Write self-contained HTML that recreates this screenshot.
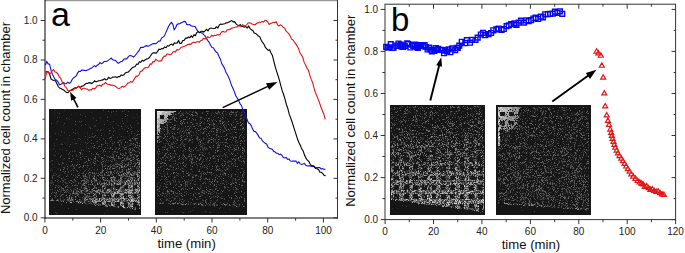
<!DOCTYPE html>
<html><head><meta charset="utf-8"><style>
html,body{margin:0;padding:0;background:#fff;}
svg{display:block;font-family:"Liberation Sans", sans-serif;}
</style></head><body>
<svg width="685" height="253" viewBox="0 0 685 253">
<defs><filter id="soft" x="-0.01" y="-0.02" width="1.02" height="1.04"><feGaussianBlur stdDeviation="0.6"/></filter></defs>
<rect width="685" height="253" fill="#fff"/>
<g shape-rendering="crispEdges" filter="url(#soft)"><rect x="49" y="109" width="92" height="106" fill="#181818"/><path fill="#2d2d2d" d="M51 110h1v1h-1zM55 110h1v1h-1zM64 110h1v1h-1zM111 111h1v1h-1zM57 112h1v1h-1zM91 112h1v1h-1zM54 113h1v1h-1zM76 113h1v1h-1zM84 113h1v1h-1zM71 114h1v1h-1zM105 114h1v1h-1zM116 114h1v1h-1zM136 114h1v1h-1zM82 115h1v1h-1zM107 116h1v1h-1zM110 116h1v1h-1zM139 116h1v1h-1zM59 117h1v1h-1zM100 117h1v1h-1zM132 117h1v1h-1zM134 117h1v1h-1zM137 117h1v1h-1zM68 118h1v1h-1zM80 118h1v1h-1zM100 118h1v1h-1zM127 118h1v1h-1zM69 119h1v1h-1zM122 120h1v1h-1zM136 120h1v1h-1zM77 121h1v1h-1zM122 121h1v1h-1zM127 121h1v1h-1zM80 122h1v1h-1zM110 122h1v1h-1zM56 123h1v1h-1zM116 123h1v1h-1zM120 123h1v1h-1zM137 123h1v1h-1zM110 124h1v1h-1zM63 125h1v1h-1zM88 125h1v1h-1zM125 125h1v1h-1zM112 126h1v1h-1zM127 126h1v1h-1zM90 127h1v1h-1zM112 127h1v1h-1zM126 127h1v1h-1zM92 128h1v1h-1zM108 128h1v1h-1zM72 129h1v1h-1zM98 129h1v1h-1zM101 129h1v1h-1zM103 129h1v1h-1zM119 129h1v1h-1zM124 129h1v1h-1zM75 130h1v1h-1zM114 130h1v1h-1zM137 130h1v1h-1zM109 131h1v1h-1zM132 131h1v1h-1zM136 131h1v1h-1zM77 132h1v1h-1zM84 132h1v1h-1zM87 132h1v1h-1zM58 133h1v1h-1zM78 133h1v1h-1zM101 133h1v1h-1zM128 133h1v1h-1zM87 134h1v1h-1zM104 134h1v1h-1zM112 134h1v1h-1zM119 134h1v1h-1zM138 134h1v1h-1zM60 135h1v1h-1zM89 135h1v1h-1zM129 135h1v1h-1zM134 135h1v1h-1zM50 136h1v1h-1zM91 136h1v1h-1zM111 136h1v1h-1zM123 136h1v1h-1zM135 136h1v1h-1zM139 136h1v1h-1zM88 137h1v1h-1zM90 137h1v1h-1zM109 137h1v1h-1zM125 137h1v1h-1zM129 137h1v1h-1zM137 137h1v1h-1zM67 138h1v1h-1zM79 138h1v1h-1zM84 138h1v1h-1zM107 138h1v1h-1zM103 139h1v1h-1zM121 139h1v1h-1zM123 139h2v1h-2zM133 139h2v1h-2zM77 140h1v1h-1zM100 140h1v1h-1zM118 140h1v1h-1zM122 140h1v1h-1zM137 140h1v1h-1zM67 141h1v1h-1zM89 141h1v1h-1zM96 141h1v1h-1zM105 141h1v1h-1zM112 141h1v1h-1zM114 141h1v1h-1zM119 141h1v1h-1zM130 141h1v1h-1zM132 141h1v1h-1zM136 141h1v1h-1zM64 142h1v1h-1zM72 142h1v1h-1zM81 142h1v1h-1zM88 142h1v1h-1zM120 142h1v1h-1zM54 143h1v1h-1zM61 143h1v1h-1zM65 143h1v1h-1zM97 143h1v1h-1zM113 143h1v1h-1zM121 143h1v1h-1zM60 144h2v1h-2zM67 144h1v1h-1zM80 144h1v1h-1zM86 144h1v1h-1zM102 144h2v1h-2zM113 144h1v1h-1zM121 144h1v1h-1zM124 144h1v1h-1zM130 144h1v1h-1zM133 144h1v1h-1zM101 145h1v1h-1zM126 145h1v1h-1zM133 145h1v1h-1zM136 145h1v1h-1zM86 146h1v1h-1zM90 146h1v1h-1zM119 146h2v1h-2zM122 146h1v1h-1zM127 146h2v1h-2zM86 147h1v1h-1zM93 147h1v1h-1zM96 147h1v1h-1zM115 147h2v1h-2zM124 147h1v1h-1zM137 147h2v1h-2zM53 148h1v1h-1zM89 148h1v1h-1zM91 148h1v1h-1zM93 148h1v1h-1zM100 148h1v1h-1zM118 148h1v1h-1zM50 149h1v1h-1zM53 149h1v1h-1zM59 149h1v1h-1zM62 149h1v1h-1zM81 149h1v1h-1zM122 149h1v1h-1zM133 150h1v1h-1zM55 151h1v1h-1zM70 151h1v1h-1zM74 151h2v1h-2zM86 151h1v1h-1zM99 151h2v1h-2zM117 151h1v1h-1zM132 151h1v1h-1zM134 151h1v1h-1zM136 151h2v1h-2zM95 152h1v1h-1zM97 152h1v1h-1zM102 152h1v1h-1zM113 152h2v1h-2zM116 152h1v1h-1zM128 152h2v1h-2zM136 152h1v1h-1zM58 153h1v1h-1zM69 153h1v1h-1zM82 153h1v1h-1zM103 153h1v1h-1zM112 153h1v1h-1zM122 153h2v1h-2zM134 153h1v1h-1zM53 154h1v1h-1zM70 154h1v1h-1zM76 154h1v1h-1zM100 154h1v1h-1zM123 154h1v1h-1zM55 155h1v1h-1zM79 155h1v1h-1zM91 155h1v1h-1zM98 155h1v1h-1zM106 155h1v1h-1zM123 155h1v1h-1zM128 155h1v1h-1zM69 156h1v1h-1zM72 156h1v1h-1zM78 156h1v1h-1zM85 156h1v1h-1zM108 156h1v1h-1zM111 156h1v1h-1zM119 156h1v1h-1zM131 156h1v1h-1zM98 157h1v1h-1zM107 157h1v1h-1zM119 157h1v1h-1zM123 157h1v1h-1zM126 157h1v1h-1zM128 157h1v1h-1zM131 157h2v1h-2zM134 157h1v1h-1zM85 158h1v1h-1zM90 158h1v1h-1zM104 158h1v1h-1zM110 158h1v1h-1zM114 158h2v1h-2zM128 158h1v1h-1zM133 158h1v1h-1zM137 158h1v1h-1zM56 159h1v1h-1zM63 159h1v1h-1zM72 159h1v1h-1zM80 159h2v1h-2zM93 159h1v1h-1zM106 159h1v1h-1zM112 159h2v1h-2zM115 159h1v1h-1zM132 159h1v1h-1zM51 160h1v1h-1zM104 160h1v1h-1zM127 160h1v1h-1zM135 160h1v1h-1zM50 161h1v1h-1zM57 161h1v1h-1zM69 161h1v1h-1zM79 161h1v1h-1zM98 161h1v1h-1zM100 161h1v1h-1zM108 161h1v1h-1zM119 161h1v1h-1zM123 161h1v1h-1zM126 161h1v1h-1zM77 162h1v1h-1zM107 162h1v1h-1zM115 162h1v1h-1zM131 162h1v1h-1zM134 162h2v1h-2zM83 163h1v1h-1zM90 163h1v1h-1zM103 163h1v1h-1zM105 163h1v1h-1zM114 163h2v1h-2zM127 163h1v1h-1zM137 163h1v1h-1zM61 164h1v1h-1zM68 164h1v1h-1zM74 164h1v1h-1zM96 164h1v1h-1zM98 164h1v1h-1zM105 164h1v1h-1zM111 164h1v1h-1zM126 164h2v1h-2zM129 164h1v1h-1zM61 165h1v1h-1zM72 165h1v1h-1zM74 165h1v1h-1zM86 165h1v1h-1zM99 165h1v1h-1zM106 165h1v1h-1zM109 165h2v1h-2zM139 165h1v1h-1zM65 166h1v1h-1zM76 166h1v1h-1zM90 166h1v1h-1zM97 166h1v1h-1zM113 166h1v1h-1zM115 166h1v1h-1zM118 166h1v1h-1zM123 166h1v1h-1zM129 166h1v1h-1zM133 166h1v1h-1zM138 166h1v1h-1zM54 167h1v1h-1zM68 167h1v1h-1zM78 167h1v1h-1zM112 167h1v1h-1zM115 167h1v1h-1zM123 167h2v1h-2zM130 167h1v1h-1zM137 167h1v1h-1zM51 168h1v1h-1zM58 168h1v1h-1zM83 168h1v1h-1zM102 168h1v1h-1zM117 168h1v1h-1zM123 168h1v1h-1zM131 168h1v1h-1zM133 168h1v1h-1zM57 169h1v1h-1zM72 169h1v1h-1zM75 169h1v1h-1zM86 169h1v1h-1zM93 169h1v1h-1zM101 169h1v1h-1zM104 169h1v1h-1zM121 169h1v1h-1zM124 169h1v1h-1zM52 170h1v1h-1zM80 170h1v1h-1zM97 170h1v1h-1zM115 170h1v1h-1zM123 170h1v1h-1zM127 170h1v1h-1zM130 170h1v1h-1zM132 170h1v1h-1zM62 171h1v1h-1zM70 171h1v1h-1zM87 171h1v1h-1zM89 171h1v1h-1zM99 171h1v1h-1zM109 171h1v1h-1zM114 171h1v1h-1zM120 171h1v1h-1zM133 171h1v1h-1zM135 171h1v1h-1zM73 172h1v1h-1zM79 172h1v1h-1zM96 172h1v1h-1zM117 172h1v1h-1zM119 172h1v1h-1zM53 173h3v1h-3zM64 173h2v1h-2zM71 173h1v1h-1zM81 173h1v1h-1zM100 173h1v1h-1zM132 173h1v1h-1zM53 174h1v1h-1zM59 174h1v1h-1zM61 174h1v1h-1zM67 174h1v1h-1zM75 174h1v1h-1zM77 174h1v1h-1zM79 174h1v1h-1zM88 174h1v1h-1zM94 174h1v1h-1zM105 174h1v1h-1zM109 174h1v1h-1zM119 174h1v1h-1zM122 174h1v1h-1zM127 174h2v1h-2zM132 174h1v1h-1zM52 175h1v1h-1zM54 175h2v1h-2zM58 175h1v1h-1zM75 175h1v1h-1zM82 175h1v1h-1zM91 175h1v1h-1zM93 175h1v1h-1zM105 175h2v1h-2zM111 175h2v1h-2zM116 175h1v1h-1zM122 175h2v1h-2zM125 175h1v1h-1zM134 175h1v1h-1zM58 176h1v1h-1zM68 176h1v1h-1zM77 176h1v1h-1zM98 176h1v1h-1zM116 176h1v1h-1zM121 176h1v1h-1zM130 176h1v1h-1zM72 177h1v1h-1zM83 177h1v1h-1zM94 177h1v1h-1zM100 177h1v1h-1zM122 177h1v1h-1zM126 177h1v1h-1zM128 177h2v1h-2zM137 177h1v1h-1zM54 178h1v1h-1zM67 178h1v1h-1zM74 178h1v1h-1zM96 178h1v1h-1zM113 178h1v1h-1zM124 178h1v1h-1zM127 178h1v1h-1zM129 178h1v1h-1zM137 178h1v1h-1zM61 179h2v1h-2zM77 179h1v1h-1zM104 179h2v1h-2zM119 179h1v1h-1zM122 179h1v1h-1zM124 179h1v1h-1zM133 179h1v1h-1zM139 179h1v1h-1zM50 180h1v1h-1zM85 180h1v1h-1zM90 180h1v1h-1zM100 180h1v1h-1zM108 180h1v1h-1zM119 180h1v1h-1zM122 180h1v1h-1zM124 180h2v1h-2zM130 180h1v1h-1zM133 180h1v1h-1zM135 180h1v1h-1zM52 181h1v1h-1zM65 181h1v1h-1zM76 181h1v1h-1zM87 181h2v1h-2zM95 181h1v1h-1zM104 181h1v1h-1zM107 181h2v1h-2zM114 181h1v1h-1zM116 181h1v1h-1zM118 181h1v1h-1zM122 181h2v1h-2zM125 181h1v1h-1zM50 182h1v1h-1zM52 182h1v1h-1zM58 182h1v1h-1zM64 182h1v1h-1zM75 182h1v1h-1zM87 182h1v1h-1zM98 182h1v1h-1zM101 182h1v1h-1zM103 182h1v1h-1zM115 182h1v1h-1zM121 182h1v1h-1zM123 182h1v1h-1zM126 182h1v1h-1zM133 182h1v1h-1zM138 182h1v1h-1zM50 183h1v1h-1zM65 183h1v1h-1zM85 183h1v1h-1zM94 183h1v1h-1zM110 183h1v1h-1zM112 183h2v1h-2zM118 183h1v1h-1zM121 183h4v1h-4zM126 183h1v1h-1zM131 183h1v1h-1zM133 183h1v1h-1zM136 183h1v1h-1zM138 183h1v1h-1zM81 184h1v1h-1zM84 184h1v1h-1zM89 184h1v1h-1zM91 184h1v1h-1zM95 184h1v1h-1zM98 184h1v1h-1zM102 184h1v1h-1zM108 184h1v1h-1zM113 184h1v1h-1zM133 184h1v1h-1zM136 184h2v1h-2zM69 185h1v1h-1zM76 185h1v1h-1zM94 185h1v1h-1zM106 185h1v1h-1zM120 185h2v1h-2zM125 185h1v1h-1zM52 186h1v1h-1zM57 186h1v1h-1zM60 186h1v1h-1zM71 186h1v1h-1zM74 186h1v1h-1zM107 186h1v1h-1zM112 186h1v1h-1zM117 186h1v1h-1zM120 186h2v1h-2zM124 186h1v1h-1zM130 186h1v1h-1zM54 187h1v1h-1zM68 187h3v1h-3zM77 187h1v1h-1zM86 187h1v1h-1zM98 187h1v1h-1zM110 187h1v1h-1zM112 187h1v1h-1zM134 187h1v1h-1zM137 187h1v1h-1zM61 188h1v1h-1zM69 188h1v1h-1zM73 188h1v1h-1zM81 188h1v1h-1zM87 188h1v1h-1zM94 188h2v1h-2zM107 188h1v1h-1zM109 188h1v1h-1zM111 188h1v1h-1zM114 188h1v1h-1zM122 188h2v1h-2zM130 188h2v1h-2zM51 189h1v1h-1zM65 189h1v1h-1zM71 189h1v1h-1zM73 189h2v1h-2zM77 189h1v1h-1zM104 189h2v1h-2zM122 189h1v1h-1zM124 189h1v1h-1zM130 189h1v1h-1zM133 189h1v1h-1zM138 189h1v1h-1zM77 190h1v1h-1zM85 190h1v1h-1zM95 190h1v1h-1zM111 190h1v1h-1zM115 190h1v1h-1zM123 190h1v1h-1zM127 190h1v1h-1zM133 190h2v1h-2zM52 191h1v1h-1zM61 191h1v1h-1zM69 191h1v1h-1zM84 191h1v1h-1zM91 191h1v1h-1zM94 191h1v1h-1zM122 191h1v1h-1zM124 191h1v1h-1zM126 191h1v1h-1zM132 191h3v1h-3zM60 192h1v1h-1zM62 192h1v1h-1zM65 192h1v1h-1zM72 192h1v1h-1zM77 192h1v1h-1zM80 192h1v1h-1zM85 192h1v1h-1zM88 192h1v1h-1zM92 192h1v1h-1zM94 192h1v1h-1zM109 192h1v1h-1zM113 192h1v1h-1zM116 192h1v1h-1zM120 192h2v1h-2zM123 192h1v1h-1zM133 192h1v1h-1zM56 193h1v1h-1zM69 193h1v1h-1zM78 193h1v1h-1zM80 193h1v1h-1zM82 193h2v1h-2zM86 193h1v1h-1zM90 193h1v1h-1zM97 193h2v1h-2zM103 193h1v1h-1zM106 193h1v1h-1zM108 193h1v1h-1zM127 193h1v1h-1zM131 193h1v1h-1zM133 193h1v1h-1zM139 193h1v1h-1zM53 194h1v1h-1zM61 194h1v1h-1zM74 194h1v1h-1zM76 194h1v1h-1zM96 194h1v1h-1zM105 194h1v1h-1zM115 194h1v1h-1zM117 194h1v1h-1zM128 194h3v1h-3zM133 194h1v1h-1zM50 195h1v1h-1zM55 195h1v1h-1zM60 195h1v1h-1zM62 195h1v1h-1zM65 195h1v1h-1zM70 195h1v1h-1zM78 195h1v1h-1zM84 195h2v1h-2zM95 195h1v1h-1zM106 195h1v1h-1zM123 195h1v1h-1zM131 195h1v1h-1zM138 195h2v1h-2zM71 196h1v1h-1zM76 196h1v1h-1zM90 196h1v1h-1zM92 196h1v1h-1zM103 196h3v1h-3zM121 196h2v1h-2zM129 196h2v1h-2zM62 197h2v1h-2zM73 197h1v1h-1zM79 197h2v1h-2zM87 197h1v1h-1zM91 197h1v1h-1zM96 197h1v1h-1zM104 197h2v1h-2zM111 197h1v1h-1zM113 197h1v1h-1zM116 197h1v1h-1zM133 197h1v1h-1zM136 197h1v1h-1zM67 198h2v1h-2zM73 198h1v1h-1zM82 198h2v1h-2zM87 198h1v1h-1zM94 198h1v1h-1zM105 198h1v1h-1zM107 198h2v1h-2zM113 198h1v1h-1zM116 198h1v1h-1zM119 198h1v1h-1zM128 198h2v1h-2zM136 198h1v1h-1zM138 198h1v1h-1zM58 199h1v1h-1zM63 199h1v1h-1zM66 199h1v1h-1zM73 199h1v1h-1zM80 199h1v1h-1zM82 199h1v1h-1zM88 199h1v1h-1zM111 199h1v1h-1zM117 199h1v1h-1zM126 199h1v1h-1zM137 199h1v1h-1zM54 200h1v1h-1zM61 200h2v1h-2zM64 200h1v1h-1zM66 200h1v1h-1zM69 200h1v1h-1zM73 200h1v1h-1zM79 200h1v1h-1zM89 200h1v1h-1zM100 200h1v1h-1zM102 200h2v1h-2zM115 200h2v1h-2zM120 200h1v1h-1zM125 200h1v1h-1zM130 200h1v1h-1zM58 201h1v1h-1zM60 201h1v1h-1zM68 201h1v1h-1zM70 201h1v1h-1zM78 201h1v1h-1zM82 201h2v1h-2zM89 201h2v1h-2zM101 201h1v1h-1zM106 201h1v1h-1zM111 201h1v1h-1zM113 201h1v1h-1zM120 201h1v1h-1zM123 201h1v1h-1zM126 201h4v1h-4zM74 202h1v1h-1zM83 202h1v1h-1zM85 202h1v1h-1zM110 202h1v1h-1zM123 202h1v1h-1zM126 202h1v1h-1zM129 202h1v1h-1zM131 202h1v1h-1zM136 202h1v1h-1zM79 203h1v1h-1zM86 203h1v1h-1zM88 203h1v1h-1zM90 203h1v1h-1zM93 203h1v1h-1zM112 203h2v1h-2zM125 203h1v1h-1zM130 203h2v1h-2zM137 203h1v1h-1zM139 203h1v1h-1zM85 204h1v1h-1zM87 204h1v1h-1zM91 204h1v1h-1zM95 204h1v1h-1zM98 204h1v1h-1zM105 204h1v1h-1zM123 204h1v1h-1zM107 205h1v1h-1zM110 205h1v1h-1zM109 206h2v1h-2zM121 206h1v1h-1zM139 206h1v1h-1zM54 207h1v1h-1zM116 207h1v1h-1zM125 207h1v1h-1zM132 207h1v1h-1zM124 208h3v1h-3zM134 208h1v1h-1zM107 210h1v1h-1zM131 211h1v1h-1zM57 212h1v1h-1zM104 213h1v1h-1z"/><path fill="#464646" d="M103 110h1v1h-1zM124 110h1v1h-1zM108 111h1v1h-1zM113 111h1v1h-1zM116 111h1v1h-1zM122 111h1v1h-1zM128 111h1v1h-1zM111 112h1v1h-1zM59 113h1v1h-1zM80 114h1v1h-1zM125 114h1v1h-1zM127 115h1v1h-1zM85 116h1v1h-1zM125 116h1v1h-1zM57 117h1v1h-1zM107 117h1v1h-1zM66 118h1v1h-1zM93 118h1v1h-1zM122 118h1v1h-1zM96 120h1v1h-1zM107 120h1v1h-1zM57 121h1v1h-1zM75 121h1v1h-1zM79 121h1v1h-1zM81 121h1v1h-1zM113 121h1v1h-1zM51 123h1v1h-1zM64 123h1v1h-1zM123 123h1v1h-1zM138 123h1v1h-1zM75 124h1v1h-1zM85 124h1v1h-1zM104 124h1v1h-1zM81 125h1v1h-1zM95 125h1v1h-1zM118 125h1v1h-1zM130 125h1v1h-1zM94 126h1v1h-1zM89 127h1v1h-1zM131 127h1v1h-1zM90 128h1v1h-1zM113 128h1v1h-1zM122 128h1v1h-1zM128 128h1v1h-1zM130 129h1v1h-1zM97 130h1v1h-1zM100 130h1v1h-1zM109 130h2v1h-2zM61 131h1v1h-1zM113 131h1v1h-1zM131 131h1v1h-1zM138 131h1v1h-1zM64 132h1v1h-1zM73 132h1v1h-1zM55 133h1v1h-1zM75 133h1v1h-1zM92 133h1v1h-1zM109 133h1v1h-1zM131 133h1v1h-1zM134 133h1v1h-1zM139 134h1v1h-1zM69 135h1v1h-1zM95 135h1v1h-1zM101 135h1v1h-1zM113 135h1v1h-1zM136 135h1v1h-1zM85 136h1v1h-1zM92 136h1v1h-1zM94 136h1v1h-1zM121 136h1v1h-1zM89 137h1v1h-1zM93 137h1v1h-1zM97 137h1v1h-1zM111 137h1v1h-1zM117 137h1v1h-1zM133 137h1v1h-1zM78 138h1v1h-1zM103 138h1v1h-1zM109 138h1v1h-1zM134 138h1v1h-1zM137 138h1v1h-1zM56 139h1v1h-1zM74 139h1v1h-1zM80 139h1v1h-1zM87 139h1v1h-1zM99 139h1v1h-1zM111 139h1v1h-1zM130 139h1v1h-1zM91 140h1v1h-1zM105 140h1v1h-1zM119 140h2v1h-2zM135 140h1v1h-1zM97 141h1v1h-1zM110 141h1v1h-1zM125 141h1v1h-1zM85 142h1v1h-1zM105 142h1v1h-1zM114 142h1v1h-1zM117 142h1v1h-1zM121 142h1v1h-1zM127 142h1v1h-1zM136 142h2v1h-2zM75 143h2v1h-2zM87 143h1v1h-1zM91 143h1v1h-1zM93 143h1v1h-1zM105 143h1v1h-1zM107 143h1v1h-1zM112 143h1v1h-1zM130 143h2v1h-2zM137 143h1v1h-1zM139 143h1v1h-1zM62 144h1v1h-1zM70 144h1v1h-1zM132 144h1v1h-1zM54 145h1v1h-1zM107 145h1v1h-1zM112 145h1v1h-1zM119 145h1v1h-1zM124 145h1v1h-1zM129 145h2v1h-2zM135 145h1v1h-1zM69 146h1v1h-1zM92 146h1v1h-1zM98 146h2v1h-2zM101 146h1v1h-1zM135 146h1v1h-1zM105 147h1v1h-1zM123 147h1v1h-1zM126 147h1v1h-1zM88 148h1v1h-1zM97 148h1v1h-1zM107 148h1v1h-1zM116 148h1v1h-1zM124 148h1v1h-1zM129 148h2v1h-2zM132 148h1v1h-1zM138 148h1v1h-1zM102 149h1v1h-1zM115 149h1v1h-1zM118 149h1v1h-1zM124 149h3v1h-3zM128 149h1v1h-1zM139 149h1v1h-1zM66 150h1v1h-1zM74 150h1v1h-1zM81 150h1v1h-1zM83 150h1v1h-1zM103 150h1v1h-1zM120 150h1v1h-1zM129 150h1v1h-1zM72 151h1v1h-1zM103 151h1v1h-1zM109 151h1v1h-1zM115 151h1v1h-1zM129 151h1v1h-1zM135 151h1v1h-1zM138 151h1v1h-1zM69 152h1v1h-1zM125 152h1v1h-1zM91 153h1v1h-1zM125 153h2v1h-2zM130 153h1v1h-1zM139 153h1v1h-1zM68 154h1v1h-1zM80 154h1v1h-1zM82 154h1v1h-1zM93 154h1v1h-1zM96 154h3v1h-3zM112 154h2v1h-2zM120 154h2v1h-2zM130 154h1v1h-1zM54 155h1v1h-1zM61 155h1v1h-1zM72 155h1v1h-1zM76 155h1v1h-1zM113 155h1v1h-1zM125 155h1v1h-1zM135 155h2v1h-2zM138 155h1v1h-1zM60 156h1v1h-1zM76 156h1v1h-1zM82 156h1v1h-1zM86 156h1v1h-1zM99 156h1v1h-1zM107 156h1v1h-1zM110 156h1v1h-1zM113 156h1v1h-1zM116 156h1v1h-1zM127 156h1v1h-1zM133 156h1v1h-1zM136 156h1v1h-1zM60 157h1v1h-1zM95 157h1v1h-1zM118 157h1v1h-1zM127 157h1v1h-1zM136 157h1v1h-1zM64 158h1v1h-1zM68 158h1v1h-1zM73 158h1v1h-1zM84 158h1v1h-1zM88 158h1v1h-1zM101 158h1v1h-1zM103 158h1v1h-1zM113 158h1v1h-1zM119 158h1v1h-1zM127 158h1v1h-1zM129 158h1v1h-1zM134 158h1v1h-1zM77 159h1v1h-1zM91 159h1v1h-1zM95 159h1v1h-1zM114 159h1v1h-1zM124 159h1v1h-1zM126 159h3v1h-3zM52 160h1v1h-1zM93 160h1v1h-1zM106 160h1v1h-1zM108 160h1v1h-1zM110 160h1v1h-1zM114 160h1v1h-1zM116 160h1v1h-1zM102 161h1v1h-1zM105 161h1v1h-1zM112 161h1v1h-1zM130 161h1v1h-1zM133 161h1v1h-1zM139 161h1v1h-1zM62 162h1v1h-1zM84 162h2v1h-2zM90 162h1v1h-1zM116 162h1v1h-1zM130 162h1v1h-1zM138 162h1v1h-1zM58 163h1v1h-1zM62 163h2v1h-2zM87 163h1v1h-1zM95 163h1v1h-1zM101 163h1v1h-1zM120 163h1v1h-1zM124 163h1v1h-1zM128 163h1v1h-1zM133 163h1v1h-1zM135 163h1v1h-1zM52 164h1v1h-1zM59 164h1v1h-1zM66 164h1v1h-1zM91 164h1v1h-1zM101 164h1v1h-1zM110 164h1v1h-1zM113 164h1v1h-1zM115 164h1v1h-1zM117 164h1v1h-1zM71 165h1v1h-1zM85 165h1v1h-1zM87 165h2v1h-2zM102 165h1v1h-1zM105 165h1v1h-1zM112 165h3v1h-3zM119 165h1v1h-1zM128 165h1v1h-1zM134 165h2v1h-2zM70 166h1v1h-1zM107 166h1v1h-1zM110 166h2v1h-2zM114 166h1v1h-1zM116 166h1v1h-1zM130 166h1v1h-1zM63 167h2v1h-2zM74 167h1v1h-1zM82 167h1v1h-1zM87 167h1v1h-1zM92 167h1v1h-1zM102 167h1v1h-1zM116 167h1v1h-1zM125 167h1v1h-1zM136 167h1v1h-1zM64 168h1v1h-1zM67 168h1v1h-1zM73 168h2v1h-2zM89 168h1v1h-1zM136 168h3v1h-3zM67 169h1v1h-1zM89 169h1v1h-1zM94 169h1v1h-1zM102 169h1v1h-1zM107 169h1v1h-1zM109 169h2v1h-2zM116 169h1v1h-1zM119 169h1v1h-1zM131 169h1v1h-1zM138 169h2v1h-2zM50 170h1v1h-1zM71 170h1v1h-1zM73 170h1v1h-1zM76 170h1v1h-1zM85 170h1v1h-1zM88 170h1v1h-1zM91 170h1v1h-1zM106 170h1v1h-1zM117 170h1v1h-1zM122 170h1v1h-1zM131 170h1v1h-1zM138 170h1v1h-1zM63 171h1v1h-1zM68 171h1v1h-1zM84 171h1v1h-1zM107 171h1v1h-1zM111 171h1v1h-1zM119 171h1v1h-1zM121 171h1v1h-1zM128 171h1v1h-1zM137 171h1v1h-1zM139 171h1v1h-1zM64 172h1v1h-1zM68 172h1v1h-1zM83 172h1v1h-1zM94 172h1v1h-1zM122 172h1v1h-1zM124 172h1v1h-1zM126 172h1v1h-1zM135 172h2v1h-2zM78 173h1v1h-1zM82 173h2v1h-2zM86 173h1v1h-1zM93 173h1v1h-1zM96 173h1v1h-1zM101 173h1v1h-1zM104 173h1v1h-1zM107 173h1v1h-1zM110 173h2v1h-2zM114 173h1v1h-1zM116 173h1v1h-1zM134 173h3v1h-3zM139 173h1v1h-1zM56 174h1v1h-1zM71 174h1v1h-1zM90 174h1v1h-1zM95 174h1v1h-1zM102 174h1v1h-1zM108 174h1v1h-1zM110 174h1v1h-1zM118 174h1v1h-1zM124 174h1v1h-1zM129 174h1v1h-1zM133 174h1v1h-1zM138 174h1v1h-1zM53 175h1v1h-1zM59 175h1v1h-1zM67 175h1v1h-1zM73 175h1v1h-1zM79 175h1v1h-1zM83 175h3v1h-3zM94 175h1v1h-1zM98 175h1v1h-1zM101 175h1v1h-1zM104 175h1v1h-1zM118 175h1v1h-1zM120 175h1v1h-1zM126 175h2v1h-2zM129 175h1v1h-1zM138 175h1v1h-1zM52 176h1v1h-1zM57 176h1v1h-1zM76 176h1v1h-1zM84 176h1v1h-1zM86 176h1v1h-1zM89 176h1v1h-1zM92 176h1v1h-1zM102 176h1v1h-1zM120 176h1v1h-1zM123 176h1v1h-1zM125 176h2v1h-2zM128 176h1v1h-1zM139 176h1v1h-1zM59 177h1v1h-1zM63 177h1v1h-1zM75 177h1v1h-1zM80 177h1v1h-1zM86 177h2v1h-2zM93 177h1v1h-1zM96 177h1v1h-1zM104 177h1v1h-1zM132 177h2v1h-2zM52 178h1v1h-1zM81 178h1v1h-1zM89 178h1v1h-1zM92 178h1v1h-1zM100 178h1v1h-1zM105 178h1v1h-1zM110 178h3v1h-3zM114 178h2v1h-2zM130 178h2v1h-2zM57 179h1v1h-1zM64 179h2v1h-2zM84 179h1v1h-1zM87 179h1v1h-1zM95 179h2v1h-2zM98 179h1v1h-1zM120 179h1v1h-1zM127 179h2v1h-2zM51 180h1v1h-1zM58 180h1v1h-1zM62 180h2v1h-2zM74 180h2v1h-2zM81 180h1v1h-1zM87 180h1v1h-1zM94 180h1v1h-1zM103 180h2v1h-2zM106 180h1v1h-1zM109 180h2v1h-2zM112 180h1v1h-1zM115 180h1v1h-1zM121 180h1v1h-1zM126 180h1v1h-1zM136 180h2v1h-2zM57 181h1v1h-1zM60 181h1v1h-1zM63 181h1v1h-1zM68 181h1v1h-1zM72 181h1v1h-1zM75 181h1v1h-1zM84 181h2v1h-2zM91 181h2v1h-2zM94 181h1v1h-1zM96 181h1v1h-1zM99 181h2v1h-2zM113 181h1v1h-1zM115 181h1v1h-1zM127 181h2v1h-2zM134 181h2v1h-2zM139 181h1v1h-1zM51 182h1v1h-1zM53 182h1v1h-1zM62 182h1v1h-1zM65 182h1v1h-1zM78 182h1v1h-1zM83 182h1v1h-1zM86 182h1v1h-1zM88 182h1v1h-1zM94 182h1v1h-1zM97 182h1v1h-1zM99 182h1v1h-1zM108 182h1v1h-1zM119 182h1v1h-1zM131 182h1v1h-1zM135 182h1v1h-1zM51 183h1v1h-1zM66 183h2v1h-2zM80 183h1v1h-1zM92 183h1v1h-1zM115 183h1v1h-1zM127 183h1v1h-1zM129 183h1v1h-1zM53 184h1v1h-1zM63 184h1v1h-1zM75 184h1v1h-1zM82 184h1v1h-1zM106 184h1v1h-1zM112 184h1v1h-1zM126 184h2v1h-2zM130 184h2v1h-2zM50 185h1v1h-1zM55 185h2v1h-2zM58 185h1v1h-1zM74 185h2v1h-2zM82 185h2v1h-2zM85 185h1v1h-1zM93 185h1v1h-1zM100 185h1v1h-1zM102 185h1v1h-1zM104 185h2v1h-2zM108 185h1v1h-1zM112 185h1v1h-1zM122 185h1v1h-1zM124 185h1v1h-1zM134 185h1v1h-1zM138 185h2v1h-2zM59 186h1v1h-1zM65 186h1v1h-1zM81 186h1v1h-1zM85 186h2v1h-2zM88 186h1v1h-1zM104 186h2v1h-2zM114 186h1v1h-1zM123 186h1v1h-1zM129 186h1v1h-1zM67 187h1v1h-1zM75 187h1v1h-1zM85 187h1v1h-1zM89 187h1v1h-1zM95 187h1v1h-1zM101 187h2v1h-2zM111 187h1v1h-1zM113 187h2v1h-2zM138 187h1v1h-1zM83 188h2v1h-2zM102 188h1v1h-1zM105 188h1v1h-1zM115 188h1v1h-1zM119 188h1v1h-1zM121 188h1v1h-1zM128 188h2v1h-2zM139 188h1v1h-1zM50 189h1v1h-1zM52 189h1v1h-1zM61 189h1v1h-1zM63 189h1v1h-1zM70 189h1v1h-1zM80 189h1v1h-1zM86 189h2v1h-2zM91 189h1v1h-1zM99 189h1v1h-1zM110 189h2v1h-2zM114 189h2v1h-2zM117 189h2v1h-2zM121 189h1v1h-1zM123 189h1v1h-1zM134 189h1v1h-1zM55 190h1v1h-1zM61 190h1v1h-1zM68 190h1v1h-1zM71 190h1v1h-1zM73 190h1v1h-1zM76 190h1v1h-1zM80 190h1v1h-1zM88 190h1v1h-1zM92 190h1v1h-1zM99 190h1v1h-1zM105 190h1v1h-1zM113 190h1v1h-1zM116 190h1v1h-1zM121 190h2v1h-2zM124 190h1v1h-1zM128 190h1v1h-1zM60 191h1v1h-1zM65 191h1v1h-1zM67 191h1v1h-1zM71 191h1v1h-1zM77 191h1v1h-1zM80 191h1v1h-1zM85 191h1v1h-1zM87 191h1v1h-1zM89 191h1v1h-1zM99 191h1v1h-1zM101 191h1v1h-1zM103 191h1v1h-1zM107 191h2v1h-2zM110 191h1v1h-1zM112 191h5v1h-5zM125 191h1v1h-1zM135 191h1v1h-1zM52 192h1v1h-1zM66 192h1v1h-1zM68 192h1v1h-1zM75 192h2v1h-2zM82 192h1v1h-1zM90 192h1v1h-1zM101 192h1v1h-1zM105 192h1v1h-1zM110 192h1v1h-1zM112 192h1v1h-1zM119 192h1v1h-1zM122 192h1v1h-1zM132 192h1v1h-1zM136 192h1v1h-1zM55 193h1v1h-1zM70 193h1v1h-1zM74 193h2v1h-2zM81 193h1v1h-1zM91 193h1v1h-1zM101 193h1v1h-1zM105 193h1v1h-1zM111 193h1v1h-1zM118 193h1v1h-1zM124 193h2v1h-2zM135 193h1v1h-1zM137 193h2v1h-2zM56 194h1v1h-1zM59 194h1v1h-1zM63 194h1v1h-1zM70 194h1v1h-1zM75 194h1v1h-1zM77 194h1v1h-1zM84 194h1v1h-1zM95 194h1v1h-1zM99 194h1v1h-1zM102 194h2v1h-2zM137 194h2v1h-2zM54 195h1v1h-1zM61 195h1v1h-1zM72 195h1v1h-1zM86 195h1v1h-1zM89 195h1v1h-1zM94 195h1v1h-1zM96 195h1v1h-1zM103 195h1v1h-1zM114 195h1v1h-1zM122 195h1v1h-1zM55 196h1v1h-1zM69 196h1v1h-1zM78 196h1v1h-1zM83 196h1v1h-1zM85 196h1v1h-1zM87 196h2v1h-2zM91 196h1v1h-1zM93 196h1v1h-1zM111 196h1v1h-1zM114 196h1v1h-1zM116 196h1v1h-1zM55 197h1v1h-1zM66 197h1v1h-1zM72 197h1v1h-1zM75 197h1v1h-1zM82 197h1v1h-1zM84 197h1v1h-1zM88 197h1v1h-1zM107 197h1v1h-1zM109 197h1v1h-1zM114 197h1v1h-1zM118 197h2v1h-2zM137 197h1v1h-1zM60 198h1v1h-1zM91 198h1v1h-1zM96 198h1v1h-1zM102 198h1v1h-1zM110 198h1v1h-1zM127 198h1v1h-1zM131 198h1v1h-1zM139 198h1v1h-1zM51 199h1v1h-1zM60 199h1v1h-1zM64 199h1v1h-1zM69 199h2v1h-2zM85 199h1v1h-1zM89 199h1v1h-1zM109 199h1v1h-1zM114 199h1v1h-1zM120 199h1v1h-1zM125 199h1v1h-1zM129 199h1v1h-1zM136 199h1v1h-1zM139 199h1v1h-1zM58 200h1v1h-1zM60 200h1v1h-1zM63 200h1v1h-1zM67 200h1v1h-1zM77 200h1v1h-1zM81 200h1v1h-1zM86 200h1v1h-1zM90 200h1v1h-1zM93 200h1v1h-1zM96 200h2v1h-2zM108 200h1v1h-1zM110 200h1v1h-1zM119 200h1v1h-1zM122 200h1v1h-1zM126 200h1v1h-1zM128 200h1v1h-1zM139 200h1v1h-1zM69 201h1v1h-1zM80 201h2v1h-2zM87 201h1v1h-1zM91 201h1v1h-1zM102 201h1v1h-1zM119 201h1v1h-1zM122 201h1v1h-1zM125 201h1v1h-1zM81 202h1v1h-1zM113 202h1v1h-1zM132 202h1v1h-1zM78 203h1v1h-1zM85 203h1v1h-1zM91 203h1v1h-1zM94 203h1v1h-1zM96 203h1v1h-1zM98 203h1v1h-1zM108 203h1v1h-1zM133 203h1v1h-1zM61 204h1v1h-1zM92 204h1v1h-1zM96 204h1v1h-1zM99 204h1v1h-1zM106 204h1v1h-1zM113 204h1v1h-1zM116 204h1v1h-1zM129 204h1v1h-1zM133 204h1v1h-1zM138 204h1v1h-1zM100 205h1v1h-1zM114 205h1v1h-1zM122 205h1v1h-1zM129 205h1v1h-1zM105 206h1v1h-1zM115 206h1v1h-1zM117 206h1v1h-1zM129 206h1v1h-1zM131 207h1v1h-1zM133 207h1v1h-1zM139 207h1v1h-1zM68 208h1v1h-1zM76 209h1v1h-1zM55 212h1v1h-1zM56 213h1v1h-1z"/><path fill="#646464" d="M121 126h1v1h-1zM127 131h1v1h-1zM137 134h1v1h-1zM110 137h1v1h-1zM132 138h1v1h-1zM135 138h2v1h-2zM135 139h1v1h-1zM129 140h2v1h-2zM118 142h1v1h-1zM125 142h1v1h-1zM133 143h1v1h-1zM101 144h1v1h-1zM119 144h1v1h-1zM135 144h1v1h-1zM94 145h1v1h-1zM137 145h1v1h-1zM139 145h1v1h-1zM139 146h1v1h-1zM94 147h1v1h-1zM110 147h1v1h-1zM125 147h1v1h-1zM134 147h1v1h-1zM136 147h1v1h-1zM110 148h1v1h-1zM119 148h1v1h-1zM104 149h1v1h-1zM112 149h1v1h-1zM130 149h1v1h-1zM133 149h1v1h-1zM132 150h1v1h-1zM134 150h1v1h-1zM89 151h1v1h-1zM105 151h1v1h-1zM114 151h1v1h-1zM79 152h2v1h-2zM117 152h1v1h-1zM130 152h2v1h-2zM139 152h1v1h-1zM80 153h1v1h-1zM96 153h1v1h-1zM120 153h1v1h-1zM132 154h1v1h-1zM134 154h1v1h-1zM104 155h1v1h-1zM116 155h1v1h-1zM122 155h1v1h-1zM124 155h1v1h-1zM130 155h2v1h-2zM137 155h1v1h-1zM95 156h1v1h-1zM118 156h1v1h-1zM137 156h1v1h-1zM80 157h1v1h-1zM101 157h2v1h-2zM109 157h1v1h-1zM111 157h3v1h-3zM122 157h1v1h-1zM133 157h1v1h-1zM69 158h1v1h-1zM94 158h2v1h-2zM118 158h1v1h-1zM120 158h1v1h-1zM124 158h1v1h-1zM126 158h1v1h-1zM130 158h1v1h-1zM138 158h1v1h-1zM88 159h1v1h-1zM102 159h1v1h-1zM129 159h1v1h-1zM133 159h1v1h-1zM136 159h2v1h-2zM88 160h2v1h-2zM97 160h1v1h-1zM122 160h2v1h-2zM125 160h1v1h-1zM130 160h1v1h-1zM137 160h3v1h-3zM71 161h1v1h-1zM86 161h1v1h-1zM95 161h1v1h-1zM103 161h1v1h-1zM111 161h1v1h-1zM121 161h1v1h-1zM93 162h1v1h-1zM101 162h1v1h-1zM122 162h1v1h-1zM128 162h1v1h-1zM94 163h1v1h-1zM117 163h1v1h-1zM121 163h1v1h-1zM131 163h1v1h-1zM136 163h1v1h-1zM72 164h1v1h-1zM77 164h1v1h-1zM79 164h1v1h-1zM102 164h1v1h-1zM116 164h1v1h-1zM118 164h2v1h-2zM122 164h1v1h-1zM125 164h1v1h-1zM128 164h1v1h-1zM130 164h1v1h-1zM135 164h1v1h-1zM76 165h1v1h-1zM83 165h1v1h-1zM94 165h1v1h-1zM120 165h2v1h-2zM124 165h1v1h-1zM67 166h1v1h-1zM73 166h1v1h-1zM80 166h1v1h-1zM83 166h1v1h-1zM102 166h1v1h-1zM104 166h1v1h-1zM122 166h1v1h-1zM126 166h1v1h-1zM132 166h1v1h-1zM137 166h1v1h-1zM79 167h1v1h-1zM110 167h1v1h-1zM119 167h1v1h-1zM122 167h1v1h-1zM139 167h1v1h-1zM107 168h1v1h-1zM109 168h1v1h-1zM112 168h1v1h-1zM114 168h1v1h-1zM119 168h1v1h-1zM128 168h1v1h-1zM60 169h1v1h-1zM63 169h1v1h-1zM97 169h1v1h-1zM122 169h1v1h-1zM126 169h1v1h-1zM129 169h1v1h-1zM60 170h1v1h-1zM102 170h2v1h-2zM114 170h1v1h-1zM126 170h1v1h-1zM137 170h1v1h-1zM65 171h1v1h-1zM77 171h1v1h-1zM102 171h1v1h-1zM110 171h1v1h-1zM117 171h1v1h-1zM122 171h1v1h-1zM126 171h1v1h-1zM134 171h1v1h-1zM89 172h2v1h-2zM92 172h1v1h-1zM100 172h3v1h-3zM108 172h1v1h-1zM111 172h1v1h-1zM113 172h1v1h-1zM116 172h1v1h-1zM120 172h1v1h-1zM129 172h1v1h-1zM132 172h1v1h-1zM134 172h1v1h-1zM137 172h2v1h-2zM88 173h1v1h-1zM92 173h1v1h-1zM94 173h1v1h-1zM98 173h1v1h-1zM127 173h2v1h-2zM133 173h1v1h-1zM137 173h1v1h-1zM85 174h1v1h-1zM99 174h1v1h-1zM104 174h1v1h-1zM112 174h1v1h-1zM134 174h1v1h-1zM78 175h1v1h-1zM89 175h1v1h-1zM97 175h1v1h-1zM100 175h1v1h-1zM102 175h1v1h-1zM107 175h3v1h-3zM124 175h1v1h-1zM132 175h2v1h-2zM139 175h1v1h-1zM66 176h1v1h-1zM83 176h1v1h-1zM85 176h1v1h-1zM122 176h1v1h-1zM127 176h1v1h-1zM129 176h1v1h-1zM138 176h1v1h-1zM52 177h1v1h-1zM77 177h1v1h-1zM89 177h1v1h-1zM102 177h1v1h-1zM110 177h1v1h-1zM112 177h1v1h-1zM114 177h2v1h-2zM120 177h2v1h-2zM130 177h1v1h-1zM134 177h1v1h-1zM61 178h1v1h-1zM84 178h2v1h-2zM102 178h1v1h-1zM107 178h1v1h-1zM121 178h1v1h-1zM125 178h1v1h-1zM128 178h1v1h-1zM135 178h1v1h-1zM139 178h1v1h-1zM74 179h1v1h-1zM86 179h1v1h-1zM94 179h1v1h-1zM113 179h1v1h-1zM118 179h1v1h-1zM121 179h1v1h-1zM132 179h1v1h-1zM134 179h1v1h-1zM137 179h1v1h-1zM55 180h1v1h-1zM70 180h2v1h-2zM82 180h3v1h-3zM88 180h1v1h-1zM95 180h1v1h-1zM105 180h1v1h-1zM116 180h1v1h-1zM118 180h1v1h-1zM129 180h1v1h-1zM132 180h1v1h-1zM81 181h1v1h-1zM86 181h1v1h-1zM109 181h1v1h-1zM111 181h1v1h-1zM120 181h2v1h-2zM124 181h1v1h-1zM136 181h1v1h-1zM69 182h1v1h-1zM73 182h1v1h-1zM85 182h1v1h-1zM104 182h1v1h-1zM106 182h1v1h-1zM113 182h1v1h-1zM118 182h1v1h-1zM120 182h1v1h-1zM122 182h1v1h-1zM124 182h1v1h-1zM127 182h1v1h-1zM129 182h1v1h-1zM132 182h1v1h-1zM136 182h2v1h-2zM71 183h1v1h-1zM78 183h1v1h-1zM83 183h1v1h-1zM86 183h1v1h-1zM99 183h1v1h-1zM101 183h3v1h-3zM105 183h2v1h-2zM109 183h1v1h-1zM116 183h1v1h-1zM130 183h1v1h-1zM134 183h1v1h-1zM83 184h1v1h-1zM88 184h1v1h-1zM90 184h1v1h-1zM100 184h2v1h-2zM114 184h1v1h-1zM116 184h1v1h-1zM119 184h1v1h-1zM132 184h1v1h-1zM135 184h1v1h-1zM138 184h2v1h-2zM67 185h1v1h-1zM72 185h1v1h-1zM77 185h1v1h-1zM95 185h1v1h-1zM113 185h1v1h-1zM128 185h1v1h-1zM130 185h1v1h-1zM66 186h1v1h-1zM94 186h1v1h-1zM122 186h1v1h-1zM55 187h1v1h-1zM58 187h1v1h-1zM61 187h1v1h-1zM65 187h1v1h-1zM81 187h1v1h-1zM84 187h1v1h-1zM94 187h1v1h-1zM96 187h1v1h-1zM105 187h1v1h-1zM122 187h2v1h-2zM129 187h1v1h-1zM131 187h2v1h-2zM62 188h2v1h-2zM96 188h1v1h-1zM132 188h1v1h-1zM135 188h1v1h-1zM137 188h2v1h-2zM59 189h1v1h-1zM67 189h1v1h-1zM75 189h1v1h-1zM79 189h1v1h-1zM84 189h1v1h-1zM89 189h1v1h-1zM100 189h1v1h-1zM102 189h1v1h-1zM113 189h1v1h-1zM120 189h1v1h-1zM126 189h1v1h-1zM131 189h1v1h-1zM57 190h1v1h-1zM63 190h2v1h-2zM66 190h1v1h-1zM81 190h3v1h-3zM86 190h1v1h-1zM96 190h1v1h-1zM100 190h1v1h-1zM103 190h1v1h-1zM109 190h1v1h-1zM120 190h1v1h-1zM136 190h1v1h-1zM58 191h1v1h-1zM76 191h1v1h-1zM86 191h1v1h-1zM90 191h1v1h-1zM92 191h1v1h-1zM106 191h1v1h-1zM111 191h1v1h-1zM120 191h1v1h-1zM123 191h1v1h-1zM130 191h1v1h-1zM137 191h1v1h-1zM139 191h1v1h-1zM54 192h1v1h-1zM56 192h1v1h-1zM64 192h1v1h-1zM73 192h1v1h-1zM79 192h1v1h-1zM81 192h1v1h-1zM91 192h1v1h-1zM97 192h3v1h-3zM102 192h1v1h-1zM104 192h1v1h-1zM107 192h1v1h-1zM111 192h1v1h-1zM127 192h1v1h-1zM51 193h1v1h-1zM72 193h1v1h-1zM76 193h2v1h-2zM84 193h1v1h-1zM87 193h2v1h-2zM95 193h1v1h-1zM104 193h1v1h-1zM107 193h1v1h-1zM113 193h1v1h-1zM123 193h1v1h-1zM134 193h1v1h-1zM136 193h1v1h-1zM62 194h1v1h-1zM78 194h1v1h-1zM85 194h1v1h-1zM104 194h1v1h-1zM120 194h1v1h-1zM131 194h1v1h-1zM66 195h1v1h-1zM69 195h1v1h-1zM77 195h1v1h-1zM87 195h1v1h-1zM108 195h1v1h-1zM119 195h2v1h-2zM132 195h1v1h-1zM50 196h1v1h-1zM57 196h1v1h-1zM60 196h1v1h-1zM86 196h1v1h-1zM89 196h1v1h-1zM102 196h1v1h-1zM126 196h1v1h-1zM132 196h2v1h-2zM138 196h1v1h-1zM67 197h1v1h-1zM71 197h1v1h-1zM85 197h2v1h-2zM95 197h1v1h-1zM103 197h1v1h-1zM112 197h1v1h-1zM122 197h1v1h-1zM132 197h1v1h-1zM139 197h1v1h-1zM52 198h1v1h-1zM84 198h1v1h-1zM90 198h1v1h-1zM92 198h1v1h-1zM95 198h1v1h-1zM97 198h1v1h-1zM100 198h2v1h-2zM106 198h1v1h-1zM112 198h1v1h-1zM115 198h1v1h-1zM118 198h1v1h-1zM125 198h1v1h-1zM133 198h1v1h-1zM135 198h1v1h-1zM52 199h1v1h-1zM57 199h1v1h-1zM67 199h2v1h-2zM71 199h1v1h-1zM79 199h1v1h-1zM90 199h1v1h-1zM92 199h2v1h-2zM97 199h1v1h-1zM101 199h1v1h-1zM103 199h4v1h-4zM108 199h1v1h-1zM115 199h1v1h-1zM121 199h1v1h-1zM123 199h1v1h-1zM130 199h1v1h-1zM134 199h1v1h-1zM138 199h1v1h-1zM50 200h1v1h-1zM53 200h1v1h-1zM56 200h1v1h-1zM68 200h1v1h-1zM71 200h2v1h-2zM84 200h1v1h-1zM109 200h1v1h-1zM111 200h1v1h-1zM117 200h1v1h-1zM121 200h1v1h-1zM124 200h1v1h-1zM135 200h1v1h-1zM61 201h1v1h-1zM73 201h1v1h-1zM84 201h1v1h-1zM93 201h2v1h-2zM103 201h1v1h-1zM114 201h1v1h-1zM116 201h1v1h-1zM124 201h1v1h-1zM136 201h1v1h-1zM139 201h1v1h-1zM90 202h1v1h-1zM94 202h1v1h-1zM103 202h1v1h-1zM112 202h1v1h-1zM127 202h1v1h-1zM130 202h1v1h-1zM137 202h1v1h-1zM89 203h1v1h-1zM95 203h1v1h-1zM104 203h1v1h-1zM114 203h1v1h-1zM94 204h1v1h-1zM97 204h1v1h-1zM100 204h1v1h-1zM102 204h1v1h-1zM108 204h1v1h-1zM122 204h1v1h-1zM120 205h1v1h-1zM128 205h1v1h-1zM131 205h2v1h-2zM106 206h1v1h-1zM113 206h2v1h-2zM135 207h1v1h-1zM130 208h1v1h-1zM135 208h1v1h-1zM134 209h1v1h-1z"/><path fill="#878787" d="M131 160h1v1h-1zM137 162h1v1h-1zM139 162h1v1h-1zM139 163h1v1h-1zM138 164h2v1h-2zM127 165h1v1h-1zM108 166h1v1h-1zM117 166h1v1h-1zM121 166h1v1h-1zM124 166h1v1h-1zM134 166h1v1h-1zM139 166h1v1h-1zM121 167h1v1h-1zM105 168h1v1h-1zM113 168h1v1h-1zM130 168h1v1h-1zM128 169h1v1h-1zM139 170h1v1h-1zM129 171h1v1h-1zM106 172h1v1h-1zM110 172h1v1h-1zM127 172h2v1h-2zM118 173h1v1h-1zM123 173h1v1h-1zM125 173h1v1h-1zM130 173h1v1h-1zM121 174h1v1h-1zM123 174h1v1h-1zM126 174h1v1h-1zM130 174h2v1h-2zM136 174h2v1h-2zM119 175h1v1h-1zM121 175h1v1h-1zM131 175h1v1h-1zM137 175h1v1h-1zM94 176h1v1h-1zM113 176h1v1h-1zM103 177h1v1h-1zM111 177h1v1h-1zM113 177h1v1h-1zM131 177h1v1h-1zM139 177h1v1h-1zM93 178h2v1h-2zM120 178h1v1h-1zM132 178h1v1h-1zM138 178h1v1h-1zM103 179h1v1h-1zM111 179h1v1h-1zM114 179h1v1h-1zM130 179h1v1h-1zM138 179h1v1h-1zM91 180h1v1h-1zM96 180h1v1h-1zM107 180h1v1h-1zM111 180h1v1h-1zM114 180h1v1h-1zM120 180h1v1h-1zM127 180h1v1h-1zM131 180h1v1h-1zM138 180h1v1h-1zM112 181h1v1h-1zM117 181h1v1h-1zM119 181h1v1h-1zM129 181h1v1h-1zM131 181h1v1h-1zM91 182h1v1h-1zM109 182h1v1h-1zM114 182h1v1h-1zM125 182h1v1h-1zM130 182h1v1h-1zM134 182h1v1h-1zM84 183h1v1h-1zM97 183h1v1h-1zM104 183h1v1h-1zM111 183h1v1h-1zM117 183h1v1h-1zM119 183h2v1h-2zM128 183h1v1h-1zM132 183h1v1h-1zM135 183h1v1h-1zM139 183h1v1h-1zM92 184h1v1h-1zM97 184h1v1h-1zM104 184h1v1h-1zM107 184h1v1h-1zM109 184h1v1h-1zM111 184h1v1h-1zM117 184h1v1h-1zM120 184h1v1h-1zM124 184h2v1h-2zM128 184h1v1h-1zM134 184h1v1h-1zM84 185h1v1h-1zM103 185h1v1h-1zM111 185h1v1h-1zM123 185h1v1h-1zM131 185h2v1h-2zM137 185h1v1h-1zM102 186h2v1h-2zM128 186h1v1h-1zM137 186h1v1h-1zM120 187h2v1h-2zM128 187h1v1h-1zM77 188h1v1h-1zM85 188h2v1h-2zM93 188h1v1h-1zM120 188h1v1h-1zM92 189h1v1h-1zM98 189h1v1h-1zM107 189h3v1h-3zM119 189h1v1h-1zM127 189h3v1h-3zM132 189h1v1h-1zM135 189h1v1h-1zM137 189h1v1h-1zM87 190h1v1h-1zM93 190h2v1h-2zM97 190h2v1h-2zM102 190h1v1h-1zM108 190h1v1h-1zM110 190h1v1h-1zM119 190h1v1h-1zM125 190h1v1h-1zM135 190h1v1h-1zM138 190h1v1h-1zM73 191h1v1h-1zM78 191h1v1h-1zM81 191h1v1h-1zM95 191h3v1h-3zM100 191h1v1h-1zM102 191h1v1h-1zM118 191h2v1h-2zM121 191h1v1h-1zM127 191h1v1h-1zM129 191h1v1h-1zM131 191h1v1h-1zM138 191h1v1h-1zM96 192h1v1h-1zM103 192h1v1h-1zM106 192h1v1h-1zM108 192h1v1h-1zM124 192h1v1h-1zM126 192h1v1h-1zM129 192h1v1h-1zM134 192h1v1h-1zM137 192h2v1h-2zM73 193h1v1h-1zM89 193h1v1h-1zM93 193h1v1h-1zM110 193h1v1h-1zM112 193h1v1h-1zM115 193h2v1h-2zM121 193h2v1h-2zM126 193h1v1h-1zM128 193h2v1h-2zM123 194h1v1h-1zM139 194h1v1h-1zM93 195h1v1h-1zM102 195h1v1h-1zM104 195h1v1h-1zM111 195h2v1h-2zM121 195h1v1h-1zM75 196h1v1h-1zM96 196h1v1h-1zM112 196h1v1h-1zM128 196h1v1h-1zM139 196h1v1h-1zM69 197h1v1h-1zM94 197h1v1h-1zM102 197h1v1h-1zM130 197h1v1h-1zM69 198h1v1h-1zM71 198h1v1h-1zM85 198h1v1h-1zM89 198h1v1h-1zM93 198h1v1h-1zM103 198h1v1h-1zM117 198h1v1h-1zM121 198h2v1h-2zM124 198h1v1h-1zM130 198h1v1h-1zM132 198h1v1h-1zM134 198h1v1h-1zM72 199h1v1h-1zM75 199h1v1h-1zM84 199h1v1h-1zM86 199h2v1h-2zM91 199h1v1h-1zM95 199h1v1h-1zM102 199h1v1h-1zM110 199h1v1h-1zM112 199h1v1h-1zM118 199h2v1h-2zM133 199h1v1h-1zM51 200h2v1h-2zM57 200h1v1h-1zM70 200h1v1h-1zM85 200h1v1h-1zM95 200h1v1h-1zM98 200h2v1h-2zM106 200h1v1h-1zM112 200h3v1h-3zM123 200h1v1h-1zM133 200h1v1h-1zM63 201h1v1h-1zM76 201h2v1h-2zM79 201h1v1h-1zM88 201h1v1h-1zM97 201h4v1h-4zM104 201h1v1h-1zM107 201h1v1h-1zM110 201h1v1h-1zM112 201h1v1h-1zM121 201h1v1h-1zM138 201h1v1h-1zM66 202h1v1h-1zM84 202h1v1h-1zM96 202h1v1h-1zM104 202h2v1h-2zM111 202h1v1h-1zM114 202h1v1h-1zM122 202h1v1h-1zM128 202h1v1h-1zM105 203h1v1h-1zM120 203h1v1h-1zM122 203h1v1h-1zM128 203h1v1h-1zM138 203h1v1h-1zM103 204h2v1h-2zM114 204h1v1h-1zM128 204h1v1h-1zM130 204h3v1h-3zM137 204h1v1h-1zM139 204h1v1h-1zM95 205h1v1h-1zM98 205h1v1h-1zM105 205h2v1h-2zM109 205h1v1h-1zM111 205h1v1h-1zM113 205h1v1h-1zM121 205h1v1h-1zM130 205h1v1h-1zM107 206h1v1h-1zM118 206h1v1h-1zM128 206h1v1h-1zM130 206h1v1h-1zM118 207h1v1h-1zM129 207h1v1h-1zM139 208h1v1h-1zM135 209h1v1h-1z"/><path fill="#afafaf" d="M139 172h1v1h-1zM137 176h1v1h-1zM128 180h1v1h-1zM134 180h1v1h-1zM126 181h1v1h-1zM139 182h1v1h-1zM114 183h1v1h-1zM125 183h1v1h-1zM137 183h1v1h-1zM118 184h1v1h-1zM129 185h1v1h-1zM131 186h2v1h-2zM138 186h1v1h-1zM130 187h1v1h-1zM139 187h1v1h-1zM104 188h1v1h-1zM113 188h1v1h-1zM116 189h1v1h-1zM125 189h1v1h-1zM136 189h1v1h-1zM139 189h1v1h-1zM107 190h1v1h-1zM118 190h1v1h-1zM126 190h1v1h-1zM129 190h4v1h-4zM137 190h1v1h-1zM139 190h1v1h-1zM109 191h1v1h-1zM117 191h1v1h-1zM128 191h1v1h-1zM136 191h1v1h-1zM114 192h2v1h-2zM117 192h2v1h-2zM125 192h1v1h-1zM128 192h1v1h-1zM130 192h2v1h-2zM135 192h1v1h-1zM99 193h1v1h-1zM114 193h1v1h-1zM117 193h1v1h-1zM119 193h2v1h-2zM130 193h1v1h-1zM132 193h1v1h-1zM94 194h1v1h-1zM111 194h1v1h-1zM113 194h2v1h-2zM121 194h2v1h-2zM105 195h1v1h-1zM113 195h1v1h-1zM128 195h3v1h-3zM137 195h1v1h-1zM113 196h1v1h-1zM120 196h1v1h-1zM123 196h1v1h-1zM131 196h1v1h-1zM121 197h1v1h-1zM123 197h1v1h-1zM129 197h1v1h-1zM131 197h1v1h-1zM138 197h1v1h-1zM99 198h1v1h-1zM104 198h1v1h-1zM109 198h1v1h-1zM111 198h1v1h-1zM114 198h1v1h-1zM120 198h1v1h-1zM123 198h1v1h-1zM126 198h1v1h-1zM137 198h1v1h-1zM96 199h1v1h-1zM99 199h1v1h-1zM107 199h1v1h-1zM113 199h1v1h-1zM116 199h1v1h-1zM124 199h1v1h-1zM128 199h1v1h-1zM131 199h2v1h-2zM92 200h1v1h-1zM94 200h1v1h-1zM101 200h1v1h-1zM104 200h1v1h-1zM118 200h1v1h-1zM127 200h1v1h-1zM129 200h1v1h-1zM132 200h1v1h-1zM134 200h1v1h-1zM136 200h1v1h-1zM138 200h1v1h-1zM92 201h1v1h-1zM95 201h2v1h-2zM105 201h1v1h-1zM108 201h2v1h-2zM115 201h1v1h-1zM117 201h2v1h-2zM130 201h4v1h-4zM135 201h1v1h-1zM137 201h1v1h-1zM70 202h2v1h-2zM78 202h1v1h-1zM80 202h1v1h-1zM93 202h1v1h-1zM95 202h1v1h-1zM102 202h1v1h-1zM120 202h2v1h-2zM138 202h2v1h-2zM82 203h1v1h-1zM102 203h2v1h-2zM111 203h1v1h-1zM121 203h1v1h-1zM123 203h1v1h-1zM129 203h1v1h-1zM132 203h1v1h-1zM111 204h2v1h-2zM120 204h1v1h-1zM112 205h1v1h-1zM123 205h1v1h-1zM139 205h1v1h-1zM122 206h1v1h-1zM131 206h1v1h-1zM123 207h2v1h-2zM127 207h1v1h-1zM132 208h1v1h-1z"/><path fill="#d7d7d7" d="M131 200h1v1h-1zM123 206h1v1h-1zM132 206h1v1h-1z"/><rect x="155" y="109" width="92" height="106" fill="#181818"/><path fill="#2d2d2d" d="M186 111h1v1h-1zM189 111h2v1h-2zM195 111h1v1h-1zM233 111h1v1h-1zM242 111h1v1h-1zM183 112h1v1h-1zM212 112h1v1h-1zM217 112h1v1h-1zM227 112h1v1h-1zM239 112h1v1h-1zM179 113h1v1h-1zM185 113h1v1h-1zM208 113h1v1h-1zM211 113h1v1h-1zM213 113h1v1h-1zM215 113h1v1h-1zM219 113h1v1h-1zM176 114h1v1h-1zM183 114h1v1h-1zM214 114h1v1h-1zM217 114h1v1h-1zM223 114h1v1h-1zM230 114h1v1h-1zM233 114h2v1h-2zM238 114h1v1h-1zM242 114h1v1h-1zM173 115h1v1h-1zM235 115h1v1h-1zM186 116h1v1h-1zM192 116h1v1h-1zM197 116h1v1h-1zM221 116h1v1h-1zM240 116h1v1h-1zM175 117h2v1h-2zM187 117h1v1h-1zM199 117h1v1h-1zM213 117h1v1h-1zM241 117h1v1h-1zM244 117h1v1h-1zM172 118h1v1h-1zM201 118h1v1h-1zM204 118h1v1h-1zM169 119h1v1h-1zM187 119h1v1h-1zM211 119h1v1h-1zM221 119h2v1h-2zM227 119h1v1h-1zM239 119h1v1h-1zM191 120h1v1h-1zM193 120h1v1h-1zM233 120h1v1h-1zM242 120h1v1h-1zM168 121h1v1h-1zM199 121h2v1h-2zM202 121h1v1h-1zM207 121h1v1h-1zM209 121h1v1h-1zM240 121h1v1h-1zM168 122h2v1h-2zM171 122h1v1h-1zM184 122h1v1h-1zM204 122h1v1h-1zM210 122h1v1h-1zM213 122h1v1h-1zM226 122h2v1h-2zM243 122h1v1h-1zM166 123h1v1h-1zM192 123h1v1h-1zM195 123h1v1h-1zM203 123h2v1h-2zM207 123h1v1h-1zM214 123h1v1h-1zM218 123h1v1h-1zM221 123h1v1h-1zM225 123h1v1h-1zM230 123h1v1h-1zM175 124h1v1h-1zM177 124h1v1h-1zM193 124h1v1h-1zM197 124h1v1h-1zM210 124h2v1h-2zM218 124h1v1h-1zM243 124h1v1h-1zM161 125h1v1h-1zM179 125h1v1h-1zM182 125h1v1h-1zM189 125h1v1h-1zM191 125h1v1h-1zM209 125h1v1h-1zM211 125h1v1h-1zM216 125h1v1h-1zM221 125h1v1h-1zM232 125h1v1h-1zM235 125h1v1h-1zM162 126h1v1h-1zM167 126h1v1h-1zM171 126h1v1h-1zM173 126h1v1h-1zM179 126h1v1h-1zM200 126h1v1h-1zM217 126h1v1h-1zM219 126h1v1h-1zM242 126h1v1h-1zM171 127h1v1h-1zM173 127h1v1h-1zM175 127h1v1h-1zM177 127h1v1h-1zM183 127h1v1h-1zM189 127h1v1h-1zM191 127h1v1h-1zM201 127h1v1h-1zM205 127h1v1h-1zM214 127h1v1h-1zM216 127h1v1h-1zM220 127h2v1h-2zM225 127h2v1h-2zM230 127h1v1h-1zM172 128h1v1h-1zM183 128h1v1h-1zM186 128h1v1h-1zM192 128h1v1h-1zM201 128h1v1h-1zM203 128h1v1h-1zM209 128h1v1h-1zM224 128h1v1h-1zM228 128h1v1h-1zM230 128h1v1h-1zM240 128h1v1h-1zM161 129h1v1h-1zM166 129h1v1h-1zM178 129h2v1h-2zM218 129h2v1h-2zM222 129h1v1h-1zM225 129h1v1h-1zM232 129h1v1h-1zM242 129h1v1h-1zM191 130h1v1h-1zM221 130h1v1h-1zM223 130h1v1h-1zM241 130h1v1h-1zM243 130h1v1h-1zM171 131h2v1h-2zM174 131h1v1h-1zM180 131h1v1h-1zM184 131h1v1h-1zM191 131h1v1h-1zM200 131h1v1h-1zM205 131h2v1h-2zM212 131h1v1h-1zM216 131h2v1h-2zM232 131h1v1h-1zM234 131h1v1h-1zM162 132h1v1h-1zM171 132h1v1h-1zM181 132h1v1h-1zM190 132h1v1h-1zM201 132h1v1h-1zM220 132h1v1h-1zM222 132h1v1h-1zM230 132h1v1h-1zM233 132h1v1h-1zM159 133h3v1h-3zM179 133h1v1h-1zM200 133h1v1h-1zM209 133h1v1h-1zM214 133h1v1h-1zM227 133h2v1h-2zM239 133h1v1h-1zM169 134h1v1h-1zM174 134h2v1h-2zM180 134h1v1h-1zM187 134h1v1h-1zM189 134h1v1h-1zM194 134h1v1h-1zM217 134h1v1h-1zM232 134h1v1h-1zM236 134h1v1h-1zM244 134h1v1h-1zM164 135h1v1h-1zM186 135h1v1h-1zM193 135h1v1h-1zM195 135h1v1h-1zM206 135h1v1h-1zM171 136h1v1h-1zM178 136h1v1h-1zM189 136h1v1h-1zM219 136h1v1h-1zM223 136h1v1h-1zM230 136h1v1h-1zM161 137h1v1h-1zM177 137h1v1h-1zM203 137h1v1h-1zM234 137h1v1h-1zM242 137h1v1h-1zM244 137h1v1h-1zM162 138h1v1h-1zM164 138h1v1h-1zM166 138h1v1h-1zM180 138h2v1h-2zM185 138h1v1h-1zM187 138h1v1h-1zM200 138h1v1h-1zM204 138h1v1h-1zM206 138h1v1h-1zM219 138h1v1h-1zM224 138h1v1h-1zM239 138h1v1h-1zM165 139h1v1h-1zM167 139h1v1h-1zM186 139h1v1h-1zM196 139h1v1h-1zM198 139h1v1h-1zM214 139h1v1h-1zM219 139h1v1h-1zM224 139h1v1h-1zM230 139h1v1h-1zM158 140h2v1h-2zM183 140h1v1h-1zM188 140h1v1h-1zM197 140h2v1h-2zM215 140h1v1h-1zM240 140h1v1h-1zM159 141h1v1h-1zM173 141h1v1h-1zM192 141h1v1h-1zM207 141h1v1h-1zM215 141h1v1h-1zM238 141h1v1h-1zM191 142h1v1h-1zM198 142h1v1h-1zM205 142h1v1h-1zM213 142h1v1h-1zM218 142h1v1h-1zM221 142h1v1h-1zM223 142h2v1h-2zM231 142h1v1h-1zM235 142h1v1h-1zM163 143h1v1h-1zM165 143h3v1h-3zM172 143h1v1h-1zM183 143h1v1h-1zM201 143h2v1h-2zM208 143h1v1h-1zM218 143h1v1h-1zM236 143h1v1h-1zM181 144h2v1h-2zM185 144h1v1h-1zM220 144h1v1h-1zM230 144h1v1h-1zM232 144h1v1h-1zM244 144h1v1h-1zM170 145h1v1h-1zM178 145h1v1h-1zM180 145h1v1h-1zM196 145h1v1h-1zM202 145h1v1h-1zM231 145h1v1h-1zM157 146h2v1h-2zM163 146h1v1h-1zM165 146h1v1h-1zM179 146h1v1h-1zM183 146h1v1h-1zM202 146h1v1h-1zM217 146h1v1h-1zM226 146h1v1h-1zM229 146h1v1h-1zM163 147h1v1h-1zM168 147h1v1h-1zM176 147h1v1h-1zM181 147h1v1h-1zM193 147h1v1h-1zM205 147h1v1h-1zM212 147h1v1h-1zM231 147h1v1h-1zM234 147h1v1h-1zM173 148h2v1h-2zM188 148h1v1h-1zM199 148h1v1h-1zM202 148h1v1h-1zM216 148h1v1h-1zM223 148h1v1h-1zM233 148h1v1h-1zM159 149h1v1h-1zM162 149h1v1h-1zM178 149h1v1h-1zM188 149h1v1h-1zM190 149h1v1h-1zM202 149h2v1h-2zM221 149h1v1h-1zM229 149h1v1h-1zM231 149h1v1h-1zM163 150h1v1h-1zM168 150h1v1h-1zM180 150h1v1h-1zM188 150h1v1h-1zM205 150h1v1h-1zM225 150h1v1h-1zM228 150h1v1h-1zM235 150h1v1h-1zM237 150h3v1h-3zM243 150h1v1h-1zM158 151h1v1h-1zM182 151h2v1h-2zM185 151h1v1h-1zM191 151h1v1h-1zM220 151h2v1h-2zM233 151h1v1h-1zM171 152h1v1h-1zM200 152h2v1h-2zM208 152h2v1h-2zM231 152h1v1h-1zM157 153h4v1h-4zM173 153h1v1h-1zM183 153h1v1h-1zM208 153h1v1h-1zM215 153h1v1h-1zM228 153h1v1h-1zM232 153h1v1h-1zM242 153h1v1h-1zM162 154h1v1h-1zM169 154h1v1h-1zM173 154h1v1h-1zM182 154h1v1h-1zM195 154h1v1h-1zM220 154h1v1h-1zM224 154h1v1h-1zM229 154h2v1h-2zM242 154h1v1h-1zM158 155h1v1h-1zM174 155h1v1h-1zM184 155h1v1h-1zM188 155h1v1h-1zM214 155h1v1h-1zM216 155h1v1h-1zM218 155h2v1h-2zM221 155h3v1h-3zM226 155h1v1h-1zM236 155h1v1h-1zM244 155h1v1h-1zM177 156h1v1h-1zM182 156h1v1h-1zM215 156h1v1h-1zM222 156h1v1h-1zM244 156h1v1h-1zM169 157h1v1h-1zM172 157h1v1h-1zM178 157h1v1h-1zM181 157h1v1h-1zM192 157h1v1h-1zM201 157h1v1h-1zM207 157h1v1h-1zM209 157h1v1h-1zM211 157h1v1h-1zM227 157h1v1h-1zM162 158h1v1h-1zM168 158h1v1h-1zM187 158h1v1h-1zM191 158h1v1h-1zM196 158h1v1h-1zM201 158h1v1h-1zM205 158h1v1h-1zM214 158h2v1h-2zM235 158h1v1h-1zM237 158h1v1h-1zM243 158h1v1h-1zM163 159h1v1h-1zM172 159h1v1h-1zM181 159h1v1h-1zM190 159h1v1h-1zM197 159h1v1h-1zM217 159h1v1h-1zM222 159h1v1h-1zM225 159h1v1h-1zM238 159h1v1h-1zM159 160h1v1h-1zM185 160h1v1h-1zM190 160h1v1h-1zM202 160h1v1h-1zM206 160h1v1h-1zM223 160h1v1h-1zM240 160h1v1h-1zM159 161h1v1h-1zM161 161h1v1h-1zM172 161h2v1h-2zM183 161h1v1h-1zM204 161h1v1h-1zM206 161h1v1h-1zM213 161h1v1h-1zM222 161h1v1h-1zM230 161h1v1h-1zM157 162h1v1h-1zM163 162h2v1h-2zM178 162h2v1h-2zM182 162h1v1h-1zM192 162h1v1h-1zM194 162h2v1h-2zM210 162h1v1h-1zM214 162h1v1h-1zM235 162h1v1h-1zM185 163h1v1h-1zM196 163h1v1h-1zM243 163h2v1h-2zM172 164h1v1h-1zM174 164h1v1h-1zM180 164h1v1h-1zM206 164h1v1h-1zM235 164h1v1h-1zM169 165h1v1h-1zM171 165h1v1h-1zM235 165h1v1h-1zM241 165h1v1h-1zM243 165h1v1h-1zM161 166h1v1h-1zM164 166h1v1h-1zM169 166h1v1h-1zM171 166h1v1h-1zM173 166h1v1h-1zM191 166h1v1h-1zM205 166h1v1h-1zM209 166h1v1h-1zM219 166h1v1h-1zM223 166h1v1h-1zM228 166h1v1h-1zM233 166h1v1h-1zM171 167h1v1h-1zM181 167h1v1h-1zM186 167h1v1h-1zM197 167h1v1h-1zM200 167h1v1h-1zM202 167h1v1h-1zM222 167h2v1h-2zM231 167h1v1h-1zM164 168h1v1h-1zM191 168h1v1h-1zM201 168h1v1h-1zM228 168h1v1h-1zM230 168h1v1h-1zM172 169h1v1h-1zM176 169h1v1h-1zM183 169h2v1h-2zM197 169h1v1h-1zM206 169h1v1h-1zM210 169h1v1h-1zM215 169h1v1h-1zM236 169h1v1h-1zM243 169h1v1h-1zM159 170h1v1h-1zM161 170h1v1h-1zM164 170h1v1h-1zM171 170h1v1h-1zM181 170h2v1h-2zM214 170h1v1h-1zM219 170h1v1h-1zM228 170h1v1h-1zM231 170h1v1h-1zM217 171h1v1h-1zM222 171h1v1h-1zM236 171h1v1h-1zM157 172h2v1h-2zM167 172h1v1h-1zM183 172h1v1h-1zM201 172h1v1h-1zM208 172h1v1h-1zM223 172h1v1h-1zM229 172h1v1h-1zM237 172h1v1h-1zM243 172h1v1h-1zM164 173h1v1h-1zM171 173h1v1h-1zM180 173h1v1h-1zM183 173h1v1h-1zM201 173h1v1h-1zM210 173h2v1h-2zM220 173h1v1h-1zM223 173h1v1h-1zM232 173h1v1h-1zM163 174h1v1h-1zM178 174h1v1h-1zM183 174h1v1h-1zM191 174h2v1h-2zM194 174h1v1h-1zM196 174h1v1h-1zM211 174h2v1h-2zM216 174h1v1h-1zM223 174h1v1h-1zM234 174h1v1h-1zM238 174h1v1h-1zM243 174h2v1h-2zM158 175h2v1h-2zM180 175h1v1h-1zM185 175h1v1h-1zM193 175h1v1h-1zM197 175h1v1h-1zM211 175h1v1h-1zM214 175h1v1h-1zM216 175h1v1h-1zM223 175h1v1h-1zM243 175h1v1h-1zM165 176h1v1h-1zM170 176h1v1h-1zM178 176h1v1h-1zM186 176h1v1h-1zM189 176h1v1h-1zM193 176h1v1h-1zM216 176h1v1h-1zM157 177h1v1h-1zM175 177h1v1h-1zM205 177h1v1h-1zM239 177h1v1h-1zM173 178h1v1h-1zM192 178h1v1h-1zM197 178h1v1h-1zM203 178h1v1h-1zM209 178h1v1h-1zM167 179h1v1h-1zM174 179h1v1h-1zM178 179h1v1h-1zM191 179h2v1h-2zM195 179h1v1h-1zM205 179h1v1h-1zM208 179h1v1h-1zM214 179h1v1h-1zM221 179h1v1h-1zM229 179h1v1h-1zM232 179h1v1h-1zM165 180h1v1h-1zM173 180h1v1h-1zM200 180h1v1h-1zM215 180h1v1h-1zM226 180h1v1h-1zM232 180h1v1h-1zM168 181h1v1h-1zM187 181h1v1h-1zM191 181h1v1h-1zM194 181h1v1h-1zM200 181h1v1h-1zM205 181h1v1h-1zM210 181h1v1h-1zM216 181h1v1h-1zM218 181h1v1h-1zM227 181h1v1h-1zM232 181h1v1h-1zM158 182h2v1h-2zM169 182h2v1h-2zM173 182h1v1h-1zM175 182h1v1h-1zM190 182h1v1h-1zM203 182h1v1h-1zM208 182h1v1h-1zM226 182h1v1h-1zM230 182h1v1h-1zM232 182h2v1h-2zM239 182h1v1h-1zM157 183h1v1h-1zM161 183h1v1h-1zM176 183h1v1h-1zM183 183h1v1h-1zM187 183h1v1h-1zM193 183h1v1h-1zM206 183h1v1h-1zM209 183h1v1h-1zM232 183h1v1h-1zM157 184h1v1h-1zM166 184h1v1h-1zM174 184h1v1h-1zM187 184h1v1h-1zM189 184h1v1h-1zM201 184h1v1h-1zM218 184h1v1h-1zM238 184h1v1h-1zM190 185h1v1h-1zM197 185h1v1h-1zM200 185h1v1h-1zM205 185h1v1h-1zM213 185h1v1h-1zM219 185h1v1h-1zM221 185h1v1h-1zM166 186h1v1h-1zM194 186h1v1h-1zM200 186h1v1h-1zM213 186h1v1h-1zM227 186h1v1h-1zM160 187h1v1h-1zM175 187h1v1h-1zM183 187h1v1h-1zM204 187h1v1h-1zM227 187h1v1h-1zM237 187h1v1h-1zM241 187h1v1h-1zM164 188h1v1h-1zM181 188h1v1h-1zM183 188h1v1h-1zM242 188h1v1h-1zM158 189h1v1h-1zM185 189h1v1h-1zM194 189h1v1h-1zM230 189h1v1h-1zM235 189h1v1h-1zM238 189h1v1h-1zM170 190h1v1h-1zM181 190h1v1h-1zM190 190h1v1h-1zM212 190h1v1h-1zM158 191h1v1h-1zM166 191h1v1h-1zM170 191h1v1h-1zM174 191h1v1h-1zM185 191h2v1h-2zM194 191h1v1h-1zM202 191h1v1h-1zM205 191h1v1h-1zM214 191h1v1h-1zM238 191h1v1h-1zM168 192h1v1h-1zM178 192h1v1h-1zM187 192h1v1h-1zM194 192h1v1h-1zM197 192h1v1h-1zM204 192h1v1h-1zM214 192h1v1h-1zM216 192h1v1h-1zM220 192h1v1h-1zM225 192h1v1h-1zM234 192h1v1h-1zM239 192h1v1h-1zM168 193h1v1h-1zM175 193h1v1h-1zM191 193h1v1h-1zM213 193h1v1h-1zM157 194h1v1h-1zM179 194h1v1h-1zM182 194h1v1h-1zM186 194h1v1h-1zM188 194h1v1h-1zM196 194h1v1h-1zM201 194h1v1h-1zM220 194h1v1h-1zM242 194h2v1h-2zM169 195h1v1h-1zM177 195h1v1h-1zM180 195h1v1h-1zM190 195h1v1h-1zM200 195h1v1h-1zM207 195h1v1h-1zM231 195h1v1h-1zM157 196h1v1h-1zM159 196h1v1h-1zM167 196h1v1h-1zM169 196h1v1h-1zM172 196h1v1h-1zM175 196h1v1h-1zM178 196h1v1h-1zM193 196h2v1h-2zM216 196h1v1h-1zM222 196h1v1h-1zM240 196h1v1h-1zM244 196h1v1h-1zM165 197h1v1h-1zM177 197h1v1h-1zM205 197h1v1h-1zM213 197h1v1h-1zM220 197h2v1h-2zM242 197h1v1h-1zM162 198h1v1h-1zM166 198h1v1h-1zM170 198h1v1h-1zM182 198h1v1h-1zM197 198h1v1h-1zM199 198h2v1h-2zM220 198h1v1h-1zM235 198h3v1h-3zM187 199h1v1h-1zM197 199h2v1h-2zM202 199h1v1h-1zM235 199h1v1h-1zM158 200h1v1h-1zM192 200h1v1h-1zM210 200h1v1h-1zM216 200h1v1h-1zM228 200h1v1h-1zM163 201h1v1h-1zM169 201h1v1h-1zM171 201h1v1h-1zM213 201h1v1h-1zM216 201h1v1h-1zM237 201h1v1h-1zM162 202h2v1h-2zM170 202h1v1h-1zM183 202h1v1h-1zM196 202h1v1h-1zM200 202h3v1h-3zM206 202h1v1h-1zM224 202h1v1h-1zM227 202h1v1h-1zM241 202h1v1h-1zM157 203h1v1h-1zM171 203h1v1h-1zM181 203h1v1h-1zM190 203h1v1h-1zM199 203h1v1h-1zM203 203h1v1h-1zM210 203h1v1h-1zM234 203h2v1h-2zM177 204h1v1h-1zM184 204h1v1h-1zM186 204h1v1h-1zM190 204h1v1h-1zM193 204h1v1h-1zM196 204h1v1h-1zM210 204h1v1h-1zM216 204h2v1h-2zM227 204h1v1h-1zM232 204h1v1h-1zM236 204h3v1h-3zM201 205h1v1h-1zM210 205h1v1h-1zM212 205h1v1h-1zM222 205h1v1h-1zM239 205h1v1h-1zM203 206h1v1h-1zM232 206h2v1h-2zM237 206h3v1h-3zM229 209h1v1h-1zM192 210h1v1h-1zM181 211h1v1h-1zM188 212h1v1h-1zM225 212h1v1h-1z"/><path fill="#464646" d="M193 111h1v1h-1zM207 111h2v1h-2zM225 111h1v1h-1zM237 111h1v1h-1zM179 112h1v1h-1zM186 112h1v1h-1zM202 112h1v1h-1zM215 112h1v1h-1zM218 112h2v1h-2zM222 112h1v1h-1zM230 112h2v1h-2zM235 112h1v1h-1zM241 112h1v1h-1zM173 113h1v1h-1zM181 113h2v1h-2zM187 113h2v1h-2zM196 113h2v1h-2zM202 113h1v1h-1zM217 113h1v1h-1zM229 113h1v1h-1zM173 114h1v1h-1zM182 114h1v1h-1zM189 114h1v1h-1zM197 114h1v1h-1zM220 114h1v1h-1zM226 114h1v1h-1zM241 114h1v1h-1zM161 115h1v1h-1zM181 115h1v1h-1zM190 115h1v1h-1zM192 115h1v1h-1zM195 115h2v1h-2zM206 115h1v1h-1zM211 115h1v1h-1zM223 115h1v1h-1zM236 115h1v1h-1zM240 115h1v1h-1zM172 116h2v1h-2zM180 116h1v1h-1zM214 116h1v1h-1zM230 116h1v1h-1zM235 116h1v1h-1zM174 117h1v1h-1zM186 117h1v1h-1zM225 117h1v1h-1zM243 117h1v1h-1zM179 118h1v1h-1zM192 118h1v1h-1zM206 118h1v1h-1zM220 118h1v1h-1zM223 118h1v1h-1zM241 118h1v1h-1zM195 119h1v1h-1zM200 119h1v1h-1zM204 119h1v1h-1zM213 119h1v1h-1zM240 119h1v1h-1zM243 119h1v1h-1zM169 120h1v1h-1zM175 120h1v1h-1zM195 120h1v1h-1zM209 120h1v1h-1zM215 120h1v1h-1zM219 120h1v1h-1zM243 120h1v1h-1zM176 121h1v1h-1zM212 121h1v1h-1zM219 121h1v1h-1zM222 121h1v1h-1zM224 121h1v1h-1zM236 121h2v1h-2zM181 122h2v1h-2zM190 122h1v1h-1zM222 122h1v1h-1zM187 123h1v1h-1zM196 123h2v1h-2zM199 123h1v1h-1zM208 123h1v1h-1zM237 123h2v1h-2zM166 124h2v1h-2zM172 124h1v1h-1zM213 124h1v1h-1zM224 124h1v1h-1zM236 124h1v1h-1zM175 125h1v1h-1zM196 125h1v1h-1zM199 125h1v1h-1zM213 125h1v1h-1zM226 125h1v1h-1zM231 125h1v1h-1zM164 126h1v1h-1zM187 126h2v1h-2zM190 126h1v1h-1zM193 126h1v1h-1zM198 126h1v1h-1zM206 126h1v1h-1zM208 126h1v1h-1zM214 126h1v1h-1zM224 126h1v1h-1zM235 126h1v1h-1zM209 127h1v1h-1zM224 127h1v1h-1zM162 128h1v1h-1zM167 128h1v1h-1zM173 128h2v1h-2zM181 128h1v1h-1zM197 128h1v1h-1zM212 128h1v1h-1zM217 128h2v1h-2zM225 128h1v1h-1zM163 129h1v1h-1zM167 129h1v1h-1zM172 129h3v1h-3zM186 129h1v1h-1zM188 129h1v1h-1zM206 129h1v1h-1zM211 129h1v1h-1zM220 129h1v1h-1zM226 129h1v1h-1zM231 129h1v1h-1zM236 129h1v1h-1zM238 129h1v1h-1zM240 129h1v1h-1zM244 129h1v1h-1zM160 130h1v1h-1zM167 130h2v1h-2zM180 130h1v1h-1zM183 130h1v1h-1zM185 130h1v1h-1zM189 130h1v1h-1zM196 130h1v1h-1zM199 130h1v1h-1zM216 130h1v1h-1zM229 130h1v1h-1zM161 131h1v1h-1zM164 131h1v1h-1zM167 131h1v1h-1zM190 131h1v1h-1zM204 131h1v1h-1zM209 131h1v1h-1zM220 131h1v1h-1zM223 131h1v1h-1zM167 132h2v1h-2zM179 132h1v1h-1zM184 132h1v1h-1zM186 132h1v1h-1zM189 132h1v1h-1zM193 132h1v1h-1zM216 132h2v1h-2zM236 132h1v1h-1zM242 132h1v1h-1zM167 133h1v1h-1zM169 133h1v1h-1zM183 133h1v1h-1zM186 133h1v1h-1zM188 133h1v1h-1zM202 133h2v1h-2zM230 133h1v1h-1zM166 134h1v1h-1zM198 134h1v1h-1zM206 134h1v1h-1zM213 134h1v1h-1zM216 134h1v1h-1zM241 134h1v1h-1zM159 135h1v1h-1zM172 135h1v1h-1zM184 135h1v1h-1zM159 136h1v1h-1zM172 136h2v1h-2zM180 136h1v1h-1zM183 136h1v1h-1zM197 136h1v1h-1zM207 136h1v1h-1zM224 136h1v1h-1zM232 136h1v1h-1zM235 136h1v1h-1zM239 136h1v1h-1zM243 136h1v1h-1zM164 137h1v1h-1zM170 137h1v1h-1zM173 137h1v1h-1zM175 137h1v1h-1zM191 137h1v1h-1zM216 137h1v1h-1zM231 137h1v1h-1zM233 137h1v1h-1zM235 137h1v1h-1zM239 137h1v1h-1zM158 138h1v1h-1zM169 138h1v1h-1zM175 138h1v1h-1zM186 138h1v1h-1zM197 138h1v1h-1zM203 138h1v1h-1zM208 138h2v1h-2zM243 138h1v1h-1zM176 139h2v1h-2zM184 139h1v1h-1zM189 139h2v1h-2zM197 139h1v1h-1zM203 139h1v1h-1zM210 139h1v1h-1zM212 139h1v1h-1zM215 139h1v1h-1zM225 139h1v1h-1zM229 139h1v1h-1zM235 139h1v1h-1zM190 140h1v1h-1zM208 140h1v1h-1zM213 140h1v1h-1zM226 140h1v1h-1zM232 140h1v1h-1zM236 140h1v1h-1zM244 140h1v1h-1zM160 141h2v1h-2zM167 141h1v1h-1zM169 141h1v1h-1zM175 141h1v1h-1zM182 141h1v1h-1zM188 141h1v1h-1zM199 141h1v1h-1zM213 141h1v1h-1zM218 141h1v1h-1zM240 141h1v1h-1zM242 141h1v1h-1zM244 141h1v1h-1zM182 142h1v1h-1zM192 142h1v1h-1zM207 142h2v1h-2zM217 142h1v1h-1zM220 142h1v1h-1zM222 142h1v1h-1zM226 142h1v1h-1zM237 142h1v1h-1zM168 143h1v1h-1zM171 143h1v1h-1zM174 143h1v1h-1zM176 143h1v1h-1zM181 143h1v1h-1zM198 143h1v1h-1zM203 143h1v1h-1zM227 143h1v1h-1zM243 143h1v1h-1zM168 144h1v1h-1zM171 144h2v1h-2zM180 144h1v1h-1zM184 144h1v1h-1zM204 144h1v1h-1zM218 144h1v1h-1zM223 144h1v1h-1zM165 145h1v1h-1zM183 145h1v1h-1zM199 145h1v1h-1zM217 145h2v1h-2zM229 145h1v1h-1zM233 145h1v1h-1zM170 146h1v1h-1zM172 146h1v1h-1zM174 146h1v1h-1zM200 146h1v1h-1zM209 146h1v1h-1zM244 146h1v1h-1zM162 147h1v1h-1zM164 147h2v1h-2zM170 147h1v1h-1zM180 147h1v1h-1zM202 147h1v1h-1zM204 147h1v1h-1zM209 147h1v1h-1zM213 147h1v1h-1zM218 147h2v1h-2zM230 147h1v1h-1zM236 147h1v1h-1zM167 148h1v1h-1zM170 148h1v1h-1zM184 148h1v1h-1zM203 148h2v1h-2zM217 148h1v1h-1zM167 149h1v1h-1zM191 149h1v1h-1zM205 149h1v1h-1zM207 149h1v1h-1zM211 149h1v1h-1zM228 149h1v1h-1zM232 149h1v1h-1zM240 149h1v1h-1zM244 149h1v1h-1zM167 150h1v1h-1zM183 150h1v1h-1zM197 150h2v1h-2zM203 150h1v1h-1zM244 150h1v1h-1zM157 151h1v1h-1zM229 151h1v1h-1zM244 151h1v1h-1zM157 152h1v1h-1zM162 152h1v1h-1zM167 152h1v1h-1zM202 152h1v1h-1zM226 152h1v1h-1zM166 153h1v1h-1zM190 153h1v1h-1zM205 153h1v1h-1zM224 153h1v1h-1zM233 153h1v1h-1zM237 153h1v1h-1zM243 153h1v1h-1zM158 154h1v1h-1zM165 154h1v1h-1zM176 154h1v1h-1zM183 154h1v1h-1zM191 154h1v1h-1zM200 154h1v1h-1zM202 154h1v1h-1zM209 154h1v1h-1zM225 154h1v1h-1zM165 155h1v1h-1zM170 155h1v1h-1zM179 155h1v1h-1zM183 155h1v1h-1zM191 155h1v1h-1zM203 155h1v1h-1zM225 155h1v1h-1zM240 155h1v1h-1zM164 156h1v1h-1zM166 156h1v1h-1zM171 156h1v1h-1zM174 156h1v1h-1zM194 156h2v1h-2zM204 156h1v1h-1zM212 156h2v1h-2zM219 156h1v1h-1zM227 156h1v1h-1zM234 156h1v1h-1zM242 156h1v1h-1zM158 157h1v1h-1zM163 157h1v1h-1zM173 157h2v1h-2zM183 157h1v1h-1zM185 157h1v1h-1zM197 157h1v1h-1zM200 157h1v1h-1zM210 157h1v1h-1zM214 157h1v1h-1zM225 157h1v1h-1zM240 157h1v1h-1zM160 158h1v1h-1zM165 158h1v1h-1zM182 158h1v1h-1zM185 158h1v1h-1zM190 158h1v1h-1zM192 158h1v1h-1zM207 158h1v1h-1zM231 158h1v1h-1zM233 158h1v1h-1zM242 158h1v1h-1zM244 158h1v1h-1zM157 159h1v1h-1zM161 159h1v1h-1zM170 159h1v1h-1zM183 159h1v1h-1zM191 159h1v1h-1zM200 159h1v1h-1zM203 159h1v1h-1zM206 159h1v1h-1zM234 159h2v1h-2zM175 160h1v1h-1zM189 160h1v1h-1zM192 160h1v1h-1zM218 160h1v1h-1zM228 160h1v1h-1zM239 160h1v1h-1zM243 160h1v1h-1zM175 161h1v1h-1zM202 161h1v1h-1zM215 161h1v1h-1zM218 161h1v1h-1zM225 161h1v1h-1zM231 161h1v1h-1zM234 161h1v1h-1zM241 161h1v1h-1zM244 161h1v1h-1zM193 162h1v1h-1zM202 162h1v1h-1zM227 162h2v1h-2zM244 162h1v1h-1zM157 163h1v1h-1zM180 163h1v1h-1zM191 163h2v1h-2zM199 163h1v1h-1zM201 163h1v1h-1zM209 163h1v1h-1zM216 163h1v1h-1zM222 163h1v1h-1zM225 163h1v1h-1zM231 163h2v1h-2zM235 163h1v1h-1zM166 164h1v1h-1zM186 164h1v1h-1zM194 164h1v1h-1zM196 164h1v1h-1zM200 164h2v1h-2zM208 164h1v1h-1zM221 164h1v1h-1zM225 164h1v1h-1zM231 164h1v1h-1zM163 165h1v1h-1zM166 165h1v1h-1zM170 165h1v1h-1zM185 165h1v1h-1zM190 165h1v1h-1zM197 165h1v1h-1zM215 165h1v1h-1zM233 165h1v1h-1zM160 166h1v1h-1zM170 166h1v1h-1zM178 166h1v1h-1zM184 166h2v1h-2zM200 166h1v1h-1zM202 166h1v1h-1zM207 166h1v1h-1zM218 166h1v1h-1zM229 166h1v1h-1zM160 167h1v1h-1zM204 167h1v1h-1zM206 167h1v1h-1zM226 167h1v1h-1zM178 168h1v1h-1zM212 168h1v1h-1zM216 168h1v1h-1zM219 168h1v1h-1zM227 168h1v1h-1zM241 168h2v1h-2zM159 169h1v1h-1zM169 169h1v1h-1zM173 169h1v1h-1zM175 169h1v1h-1zM180 169h1v1h-1zM190 169h2v1h-2zM199 169h1v1h-1zM211 169h1v1h-1zM218 169h2v1h-2zM224 169h1v1h-1zM226 169h1v1h-1zM238 169h1v1h-1zM157 170h1v1h-1zM199 170h1v1h-1zM218 170h1v1h-1zM220 170h1v1h-1zM222 170h1v1h-1zM244 170h1v1h-1zM157 171h1v1h-1zM163 171h1v1h-1zM186 171h1v1h-1zM192 171h1v1h-1zM198 171h1v1h-1zM202 171h1v1h-1zM207 171h1v1h-1zM221 171h1v1h-1zM243 171h1v1h-1zM176 172h1v1h-1zM188 172h1v1h-1zM204 172h1v1h-1zM210 172h1v1h-1zM224 172h1v1h-1zM244 172h1v1h-1zM157 173h1v1h-1zM160 173h1v1h-1zM167 173h1v1h-1zM177 173h2v1h-2zM186 173h1v1h-1zM190 173h1v1h-1zM200 173h1v1h-1zM213 173h1v1h-1zM243 173h1v1h-1zM167 174h1v1h-1zM170 174h1v1h-1zM188 174h2v1h-2zM201 174h1v1h-1zM204 174h1v1h-1zM206 174h1v1h-1zM222 174h1v1h-1zM231 174h1v1h-1zM242 174h1v1h-1zM164 175h1v1h-1zM176 175h2v1h-2zM189 175h1v1h-1zM201 175h1v1h-1zM217 175h1v1h-1zM225 175h1v1h-1zM231 175h1v1h-1zM161 176h2v1h-2zM164 176h1v1h-1zM174 176h1v1h-1zM192 176h1v1h-1zM195 176h1v1h-1zM198 176h1v1h-1zM200 176h2v1h-2zM218 176h2v1h-2zM221 176h1v1h-1zM228 176h1v1h-1zM237 176h1v1h-1zM242 176h1v1h-1zM181 177h1v1h-1zM200 177h1v1h-1zM230 177h1v1h-1zM241 177h1v1h-1zM165 178h1v1h-1zM182 178h1v1h-1zM201 178h1v1h-1zM205 178h1v1h-1zM217 178h1v1h-1zM220 178h1v1h-1zM233 178h1v1h-1zM235 178h1v1h-1zM161 179h1v1h-1zM164 179h1v1h-1zM166 179h1v1h-1zM188 179h1v1h-1zM199 179h1v1h-1zM204 179h1v1h-1zM238 179h2v1h-2zM242 179h1v1h-1zM160 180h1v1h-1zM172 180h1v1h-1zM175 180h1v1h-1zM190 180h1v1h-1zM192 180h1v1h-1zM214 180h1v1h-1zM235 180h1v1h-1zM237 180h1v1h-1zM167 181h1v1h-1zM169 181h1v1h-1zM173 181h1v1h-1zM175 181h1v1h-1zM178 181h2v1h-2zM182 181h1v1h-1zM185 181h2v1h-2zM188 181h1v1h-1zM195 181h1v1h-1zM221 181h1v1h-1zM225 181h1v1h-1zM243 181h1v1h-1zM166 182h1v1h-1zM179 182h1v1h-1zM187 182h1v1h-1zM204 182h1v1h-1zM217 182h1v1h-1zM236 182h1v1h-1zM244 182h1v1h-1zM202 183h2v1h-2zM205 183h1v1h-1zM212 183h1v1h-1zM220 183h1v1h-1zM222 183h2v1h-2zM228 183h1v1h-1zM231 183h1v1h-1zM236 183h1v1h-1zM165 184h1v1h-1zM167 184h1v1h-1zM176 184h1v1h-1zM180 184h1v1h-1zM185 184h2v1h-2zM195 184h1v1h-1zM216 184h1v1h-1zM224 184h1v1h-1zM226 184h1v1h-1zM160 185h1v1h-1zM175 185h1v1h-1zM185 185h1v1h-1zM187 185h1v1h-1zM241 185h1v1h-1zM163 186h1v1h-1zM165 186h1v1h-1zM178 186h3v1h-3zM185 186h1v1h-1zM187 186h1v1h-1zM201 186h1v1h-1zM208 186h1v1h-1zM231 186h1v1h-1zM159 187h1v1h-1zM167 187h1v1h-1zM197 187h1v1h-1zM224 187h1v1h-1zM228 187h1v1h-1zM233 187h1v1h-1zM159 188h1v1h-1zM176 188h1v1h-1zM182 188h1v1h-1zM185 188h1v1h-1zM189 188h1v1h-1zM215 188h2v1h-2zM219 188h1v1h-1zM224 188h1v1h-1zM163 189h1v1h-1zM169 189h1v1h-1zM183 189h1v1h-1zM209 189h1v1h-1zM212 189h1v1h-1zM227 189h1v1h-1zM233 189h1v1h-1zM236 189h2v1h-2zM157 190h1v1h-1zM178 190h1v1h-1zM203 190h1v1h-1zM207 190h1v1h-1zM218 190h1v1h-1zM221 190h1v1h-1zM223 190h1v1h-1zM172 191h2v1h-2zM201 191h1v1h-1zM204 191h1v1h-1zM208 191h1v1h-1zM213 191h1v1h-1zM235 191h1v1h-1zM162 192h1v1h-1zM167 192h1v1h-1zM175 192h1v1h-1zM184 192h1v1h-1zM201 192h1v1h-1zM211 192h1v1h-1zM244 192h1v1h-1zM157 193h1v1h-1zM162 193h1v1h-1zM176 193h2v1h-2zM186 193h1v1h-1zM190 193h1v1h-1zM195 193h1v1h-1zM203 193h1v1h-1zM216 193h1v1h-1zM218 193h1v1h-1zM221 193h1v1h-1zM244 193h1v1h-1zM167 194h1v1h-1zM171 194h1v1h-1zM210 194h1v1h-1zM212 194h1v1h-1zM166 195h1v1h-1zM174 195h1v1h-1zM193 195h1v1h-1zM202 195h1v1h-1zM217 195h1v1h-1zM164 196h1v1h-1zM176 196h1v1h-1zM213 196h1v1h-1zM241 196h1v1h-1zM172 197h1v1h-1zM211 197h1v1h-1zM229 197h1v1h-1zM237 197h1v1h-1zM239 197h1v1h-1zM241 197h1v1h-1zM169 198h1v1h-1zM175 198h1v1h-1zM179 198h1v1h-1zM190 198h1v1h-1zM221 198h2v1h-2zM224 198h1v1h-1zM239 198h1v1h-1zM166 199h2v1h-2zM174 199h1v1h-1zM180 199h1v1h-1zM196 199h1v1h-1zM217 199h1v1h-1zM224 199h1v1h-1zM244 199h1v1h-1zM161 200h1v1h-1zM168 200h1v1h-1zM171 200h1v1h-1zM173 200h1v1h-1zM179 200h1v1h-1zM184 200h1v1h-1zM202 200h2v1h-2zM211 200h1v1h-1zM217 200h1v1h-1zM234 200h1v1h-1zM176 201h1v1h-1zM181 201h1v1h-1zM183 201h1v1h-1zM160 202h1v1h-1zM179 202h1v1h-1zM182 202h1v1h-1zM191 202h1v1h-1zM220 202h1v1h-1zM235 202h1v1h-1zM159 203h1v1h-1zM163 203h1v1h-1zM168 203h2v1h-2zM175 203h1v1h-1zM180 203h1v1h-1zM188 203h1v1h-1zM193 203h2v1h-2zM198 203h1v1h-1zM206 203h1v1h-1zM208 203h1v1h-1zM214 203h1v1h-1zM227 203h1v1h-1zM173 204h1v1h-1zM188 204h1v1h-1zM199 204h1v1h-1zM207 204h1v1h-1zM209 204h1v1h-1zM212 204h2v1h-2zM221 204h2v1h-2zM234 204h1v1h-1zM202 205h2v1h-2zM209 205h1v1h-1zM216 205h2v1h-2zM230 205h1v1h-1zM234 205h2v1h-2zM214 206h1v1h-1zM244 206h1v1h-1zM194 207h1v1h-1zM220 207h1v1h-1zM219 208h1v1h-1zM172 209h1v1h-1zM190 211h1v1h-1zM205 211h1v1h-1zM165 212h1v1h-1zM167 212h1v1h-1zM183 212h1v1h-1zM210 212h1v1h-1z"/><path fill="#646464" d="M180 111h1v1h-1zM206 111h1v1h-1zM218 111h1v1h-1zM223 111h1v1h-1zM231 111h1v1h-1zM192 112h1v1h-1zM195 112h2v1h-2zM232 112h2v1h-2zM236 112h1v1h-1zM244 112h1v1h-1zM178 113h1v1h-1zM207 113h1v1h-1zM216 113h1v1h-1zM222 113h1v1h-1zM244 113h1v1h-1zM175 114h1v1h-1zM191 114h2v1h-2zM229 114h1v1h-1zM231 114h1v1h-1zM236 114h1v1h-1zM169 115h1v1h-1zM180 115h1v1h-1zM183 115h1v1h-1zM193 115h1v1h-1zM241 115h1v1h-1zM172 117h1v1h-1zM200 117h2v1h-2zM218 117h1v1h-1zM222 117h1v1h-1zM174 118h1v1h-1zM176 118h1v1h-1zM189 118h1v1h-1zM208 118h2v1h-2zM240 118h1v1h-1zM168 119h1v1h-1zM170 119h2v1h-2zM174 119h1v1h-1zM183 119h3v1h-3zM193 119h1v1h-1zM235 119h1v1h-1zM174 120h1v1h-1zM181 120h1v1h-1zM207 120h1v1h-1zM212 120h1v1h-1zM220 120h1v1h-1zM180 121h1v1h-1zM183 121h1v1h-1zM216 121h1v1h-1zM220 121h1v1h-1zM228 121h1v1h-1zM167 122h1v1h-1zM170 122h1v1h-1zM187 122h1v1h-1zM191 122h1v1h-1zM201 122h1v1h-1zM223 122h1v1h-1zM233 122h1v1h-1zM240 122h1v1h-1zM180 123h1v1h-1zM182 123h1v1h-1zM184 123h1v1h-1zM200 123h1v1h-1zM213 123h1v1h-1zM220 123h1v1h-1zM222 123h1v1h-1zM242 123h1v1h-1zM181 124h1v1h-1zM192 124h1v1h-1zM209 124h1v1h-1zM214 124h1v1h-1zM228 124h1v1h-1zM231 124h1v1h-1zM241 124h1v1h-1zM167 125h1v1h-1zM174 125h1v1h-1zM200 125h1v1h-1zM223 125h1v1h-1zM240 125h2v1h-2zM185 126h1v1h-1zM194 126h1v1h-1zM165 127h1v1h-1zM167 127h1v1h-1zM170 127h1v1h-1zM174 127h1v1h-1zM207 127h1v1h-1zM233 127h3v1h-3zM243 127h1v1h-1zM178 128h1v1h-1zM189 128h1v1h-1zM195 128h1v1h-1zM204 128h2v1h-2zM213 128h2v1h-2zM242 128h2v1h-2zM164 129h1v1h-1zM177 129h1v1h-1zM200 129h1v1h-1zM203 129h1v1h-1zM216 129h1v1h-1zM228 129h1v1h-1zM234 129h1v1h-1zM187 130h1v1h-1zM198 130h1v1h-1zM217 130h1v1h-1zM226 130h1v1h-1zM182 131h1v1h-1zM211 131h1v1h-1zM213 131h1v1h-1zM224 131h1v1h-1zM177 132h1v1h-1zM188 132h1v1h-1zM196 132h1v1h-1zM203 132h1v1h-1zM235 132h1v1h-1zM172 133h1v1h-1zM174 133h1v1h-1zM189 133h1v1h-1zM208 133h1v1h-1zM164 134h1v1h-1zM226 134h1v1h-1zM181 135h1v1h-1zM191 135h1v1h-1zM209 135h1v1h-1zM216 135h1v1h-1zM226 135h1v1h-1zM240 135h1v1h-1zM160 136h1v1h-1zM165 136h1v1h-1zM167 136h1v1h-1zM187 136h1v1h-1zM218 136h1v1h-1zM221 136h1v1h-1zM181 137h1v1h-1zM197 137h1v1h-1zM211 137h1v1h-1zM236 137h1v1h-1zM163 138h1v1h-1zM173 138h1v1h-1zM196 138h1v1h-1zM213 138h1v1h-1zM227 138h1v1h-1zM233 138h1v1h-1zM159 139h1v1h-1zM181 139h1v1h-1zM185 139h1v1h-1zM192 139h1v1h-1zM199 139h1v1h-1zM211 139h1v1h-1zM218 139h1v1h-1zM226 139h1v1h-1zM166 140h1v1h-1zM177 140h1v1h-1zM180 140h1v1h-1zM189 140h1v1h-1zM201 140h1v1h-1zM209 140h1v1h-1zM241 140h1v1h-1zM200 141h1v1h-1zM208 141h1v1h-1zM235 141h1v1h-1zM157 142h1v1h-1zM159 142h1v1h-1zM173 142h1v1h-1zM200 142h1v1h-1zM211 142h1v1h-1zM225 142h1v1h-1zM216 143h1v1h-1zM240 143h1v1h-1zM200 144h1v1h-1zM169 145h1v1h-1zM213 145h1v1h-1zM219 145h1v1h-1zM225 145h1v1h-1zM235 145h1v1h-1zM237 145h1v1h-1zM240 145h1v1h-1zM184 146h1v1h-1zM201 146h1v1h-1zM225 146h1v1h-1zM227 146h1v1h-1zM172 147h1v1h-1zM177 147h1v1h-1zM189 147h1v1h-1zM196 147h1v1h-1zM210 147h1v1h-1zM217 147h1v1h-1zM228 147h1v1h-1zM238 147h1v1h-1zM242 147h1v1h-1zM189 148h1v1h-1zM195 148h1v1h-1zM206 148h1v1h-1zM234 148h1v1h-1zM238 148h1v1h-1zM242 148h2v1h-2zM158 149h1v1h-1zM164 149h1v1h-1zM166 149h1v1h-1zM185 149h1v1h-1zM200 149h1v1h-1zM224 149h1v1h-1zM235 149h2v1h-2zM174 150h1v1h-1zM189 150h1v1h-1zM193 150h1v1h-1zM215 150h1v1h-1zM217 150h2v1h-2zM234 150h1v1h-1zM242 150h1v1h-1zM159 151h1v1h-1zM174 151h1v1h-1zM190 151h1v1h-1zM217 151h1v1h-1zM215 152h1v1h-1zM242 152h1v1h-1zM165 153h1v1h-1zM170 153h1v1h-1zM175 153h1v1h-1zM231 153h1v1h-1zM168 154h1v1h-1zM189 154h1v1h-1zM193 154h1v1h-1zM199 154h1v1h-1zM232 154h1v1h-1zM164 155h1v1h-1zM199 155h1v1h-1zM202 155h1v1h-1zM213 155h1v1h-1zM235 155h1v1h-1zM170 156h1v1h-1zM179 156h1v1h-1zM184 156h1v1h-1zM188 156h2v1h-2zM191 156h1v1h-1zM217 156h1v1h-1zM240 156h1v1h-1zM162 157h1v1h-1zM167 157h1v1h-1zM195 157h1v1h-1zM238 157h1v1h-1zM171 158h1v1h-1zM179 158h1v1h-1zM186 158h1v1h-1zM197 158h1v1h-1zM200 158h1v1h-1zM210 158h1v1h-1zM213 158h1v1h-1zM221 158h1v1h-1zM238 158h1v1h-1zM178 159h1v1h-1zM192 159h1v1h-1zM199 159h1v1h-1zM218 159h1v1h-1zM232 159h1v1h-1zM165 160h1v1h-1zM169 160h1v1h-1zM199 160h1v1h-1zM209 160h1v1h-1zM235 160h1v1h-1zM158 161h1v1h-1zM191 161h1v1h-1zM196 161h1v1h-1zM224 161h1v1h-1zM229 161h1v1h-1zM243 161h1v1h-1zM162 162h1v1h-1zM183 162h1v1h-1zM191 162h1v1h-1zM160 163h2v1h-2zM164 163h2v1h-2zM175 163h1v1h-1zM182 163h1v1h-1zM177 164h1v1h-1zM183 165h1v1h-1zM204 165h1v1h-1zM217 165h1v1h-1zM222 165h1v1h-1zM224 165h1v1h-1zM228 165h1v1h-1zM192 166h1v1h-1zM212 166h1v1h-1zM216 166h1v1h-1zM235 166h1v1h-1zM237 166h1v1h-1zM158 167h1v1h-1zM173 167h1v1h-1zM216 167h1v1h-1zM167 168h1v1h-1zM176 168h1v1h-1zM182 168h1v1h-1zM207 168h1v1h-1zM157 169h1v1h-1zM166 169h1v1h-1zM168 169h1v1h-1zM217 169h1v1h-1zM227 169h1v1h-1zM216 170h1v1h-1zM225 170h1v1h-1zM182 171h2v1h-2zM199 171h1v1h-1zM173 172h2v1h-2zM207 172h1v1h-1zM209 172h1v1h-1zM211 172h1v1h-1zM240 172h1v1h-1zM173 173h1v1h-1zM187 173h1v1h-1zM203 173h1v1h-1zM205 173h1v1h-1zM224 173h2v1h-2zM220 174h1v1h-1zM225 174h1v1h-1zM228 174h1v1h-1zM235 174h1v1h-1zM188 175h1v1h-1zM195 175h2v1h-2zM242 175h1v1h-1zM168 176h1v1h-1zM183 176h1v1h-1zM231 176h1v1h-1zM166 177h1v1h-1zM174 177h1v1h-1zM192 177h2v1h-2zM215 177h1v1h-1zM243 177h1v1h-1zM206 178h1v1h-1zM223 178h1v1h-1zM200 179h1v1h-1zM207 179h1v1h-1zM209 179h1v1h-1zM212 179h1v1h-1zM215 179h1v1h-1zM235 179h1v1h-1zM184 180h1v1h-1zM223 180h1v1h-1zM242 180h1v1h-1zM209 181h1v1h-1zM212 181h1v1h-1zM214 181h1v1h-1zM217 181h1v1h-1zM242 181h1v1h-1zM244 181h1v1h-1zM185 182h1v1h-1zM211 182h1v1h-1zM235 182h1v1h-1zM164 183h1v1h-1zM170 183h1v1h-1zM185 183h1v1h-1zM190 183h1v1h-1zM233 183h1v1h-1zM170 184h1v1h-1zM181 184h1v1h-1zM194 184h1v1h-1zM210 184h1v1h-1zM214 184h1v1h-1zM230 184h2v1h-2zM239 184h1v1h-1zM181 185h1v1h-1zM214 185h1v1h-1zM235 185h1v1h-1zM242 185h1v1h-1zM157 186h1v1h-1zM216 186h1v1h-1zM224 186h1v1h-1zM166 187h1v1h-1zM173 187h1v1h-1zM192 187h1v1h-1zM206 187h1v1h-1zM225 187h1v1h-1zM235 187h1v1h-1zM191 188h2v1h-2zM198 188h1v1h-1zM200 188h1v1h-1zM236 188h1v1h-1zM157 189h1v1h-1zM181 189h1v1h-1zM187 189h1v1h-1zM196 189h1v1h-1zM199 189h1v1h-1zM206 189h1v1h-1zM210 189h1v1h-1zM215 189h1v1h-1zM167 190h1v1h-1zM171 190h1v1h-1zM202 190h1v1h-1zM217 190h1v1h-1zM229 190h1v1h-1zM159 191h1v1h-1zM167 191h2v1h-2zM171 191h1v1h-1zM179 191h1v1h-1zM209 191h1v1h-1zM222 191h1v1h-1zM241 191h1v1h-1zM173 192h1v1h-1zM202 192h1v1h-1zM206 192h1v1h-1zM236 192h1v1h-1zM163 193h1v1h-1zM165 193h1v1h-1zM169 193h1v1h-1zM173 193h1v1h-1zM179 193h1v1h-1zM181 193h1v1h-1zM198 193h2v1h-2zM204 193h1v1h-1zM208 193h1v1h-1zM210 193h1v1h-1zM234 193h1v1h-1zM160 194h1v1h-1zM193 194h1v1h-1zM158 195h1v1h-1zM162 195h1v1h-1zM181 195h1v1h-1zM184 195h1v1h-1zM228 195h1v1h-1zM235 195h1v1h-1zM182 196h1v1h-1zM199 196h2v1h-2zM209 196h1v1h-1zM215 196h1v1h-1zM218 196h1v1h-1zM236 196h1v1h-1zM195 197h1v1h-1zM217 197h1v1h-1zM231 197h1v1h-1zM174 198h1v1h-1zM210 198h1v1h-1zM231 198h1v1h-1zM244 198h1v1h-1zM160 199h1v1h-1zM182 199h1v1h-1zM192 199h1v1h-1zM206 199h1v1h-1zM166 200h1v1h-1zM205 200h1v1h-1zM238 200h1v1h-1zM244 200h1v1h-1zM170 201h1v1h-1zM188 201h1v1h-1zM205 201h1v1h-1zM234 201h1v1h-1zM244 201h1v1h-1zM175 202h1v1h-1zM205 202h1v1h-1zM210 202h1v1h-1zM215 202h1v1h-1zM233 202h1v1h-1zM160 203h1v1h-1zM162 203h1v1h-1zM172 203h1v1h-1zM174 203h1v1h-1zM178 203h1v1h-1zM186 203h1v1h-1zM195 203h1v1h-1zM200 203h1v1h-1zM213 203h1v1h-1zM223 203h1v1h-1zM170 204h1v1h-1zM181 204h1v1h-1zM183 204h1v1h-1zM194 204h1v1h-1zM202 204h1v1h-1zM214 204h1v1h-1zM225 204h2v1h-2zM229 204h1v1h-1zM233 204h1v1h-1zM239 204h1v1h-1zM242 204h1v1h-1zM205 205h1v1h-1zM214 205h1v1h-1zM225 205h1v1h-1zM229 205h1v1h-1zM243 206h1v1h-1z"/><path fill="#878787" d="M172 111h1v1h-1zM171 112h1v1h-1zM173 112h1v1h-1zM170 113h1v1h-1zM166 114h1v1h-1zM164 116h1v1h-1zM165 118h2v1h-2zM162 119h3v1h-3zM166 119h2v1h-2zM165 120h2v1h-2zM162 121h1v1h-1zM165 121h1v1h-1zM162 122h2v1h-2zM165 122h1v1h-1zM160 123h1v1h-1zM159 124h1v1h-1zM159 127h1v1h-1zM158 128h2v1h-2zM157 131h3v1h-3zM157 134h1v1h-1zM157 136h2v1h-2zM157 137h2v1h-2zM157 138h1v1h-1zM157 140h1v1h-1zM157 141h1v1h-1zM173 203h1v1h-1zM177 203h1v1h-1zM182 204h1v1h-1zM185 204h1v1h-1zM198 204h1v1h-1zM201 204h1v1h-1zM224 204h1v1h-1zM236 206h1v1h-1z"/><path fill="#afafaf" d="M164 111h8v1h-8zM173 111h3v1h-3zM162 112h3v1h-3zM167 112h4v1h-4zM172 112h1v1h-1zM162 113h8v1h-8zM161 114h4v1h-4zM167 114h5v1h-5zM159 115h1v1h-1zM164 115h4v1h-4zM165 116h3v1h-3zM159 117h1v1h-1zM164 117h3v1h-3zM158 118h2v1h-2zM164 118h1v1h-1zM167 118h1v1h-1zM157 119h5v1h-5zM165 119h1v1h-1zM158 120h7v1h-7zM157 121h1v1h-1zM159 121h3v1h-3zM163 121h1v1h-1zM166 121h1v1h-1zM158 122h4v1h-4zM164 122h1v1h-1zM157 123h3v1h-3zM161 123h3v1h-3zM157 124h2v1h-2zM158 125h2v1h-2zM158 126h2v1h-2zM158 127h1v1h-1zM157 128h1v1h-1zM160 128h1v1h-1zM157 129h3v1h-3zM157 130h3v1h-3zM157 132h1v1h-1zM159 132h1v1h-1zM157 133h1v1h-1zM158 134h1v1h-1z"/><path fill="#d7d7d7" d="M160 111h4v1h-4zM157 112h5v1h-5zM165 112h2v1h-2zM158 113h4v1h-4zM157 114h4v1h-4zM165 114h1v1h-1zM157 115h2v1h-2zM157 116h3v1h-3zM157 117h2v1h-2zM157 118h1v1h-1zM157 120h1v1h-1zM158 121h1v1h-1zM157 122h1v1h-1zM157 125h1v1h-1zM157 126h1v1h-1zM157 127h1v1h-1z"/><path fill="#f5f5f5" d="M157 111h3v1h-3zM157 113h1v1h-1z"/><rect x="390" y="105" width="95" height="110" fill="#181818"/><path fill="#2d2d2d" d="M401 106h1v1h-1zM412 106h1v1h-1zM421 106h1v1h-1zM435 106h1v1h-1zM444 106h1v1h-1zM453 106h1v1h-1zM459 106h1v1h-1zM465 106h1v1h-1zM467 106h1v1h-1zM476 106h1v1h-1zM478 106h3v1h-3zM396 107h1v1h-1zM400 107h1v1h-1zM410 107h1v1h-1zM419 107h1v1h-1zM433 107h1v1h-1zM438 107h1v1h-1zM444 107h1v1h-1zM462 107h1v1h-1zM473 107h1v1h-1zM394 108h2v1h-2zM400 108h1v1h-1zM423 108h1v1h-1zM425 108h1v1h-1zM427 108h1v1h-1zM459 108h2v1h-2zM465 108h1v1h-1zM471 108h1v1h-1zM392 109h1v1h-1zM410 109h1v1h-1zM438 109h1v1h-1zM458 109h2v1h-2zM466 109h1v1h-1zM469 109h1v1h-1zM476 109h1v1h-1zM420 110h1v1h-1zM423 110h1v1h-1zM428 110h1v1h-1zM431 110h1v1h-1zM435 110h1v1h-1zM475 110h1v1h-1zM482 110h1v1h-1zM395 111h1v1h-1zM405 111h1v1h-1zM408 111h1v1h-1zM416 111h1v1h-1zM430 111h1v1h-1zM444 111h1v1h-1zM452 111h1v1h-1zM455 111h1v1h-1zM457 111h1v1h-1zM462 111h2v1h-2zM471 111h1v1h-1zM474 111h1v1h-1zM481 111h1v1h-1zM408 112h1v1h-1zM414 112h1v1h-1zM461 112h1v1h-1zM477 112h1v1h-1zM401 113h1v1h-1zM418 113h1v1h-1zM433 113h1v1h-1zM450 113h1v1h-1zM455 113h1v1h-1zM461 113h1v1h-1zM471 113h2v1h-2zM478 113h1v1h-1zM482 113h1v1h-1zM394 114h1v1h-1zM421 114h1v1h-1zM441 114h1v1h-1zM452 114h1v1h-1zM476 114h1v1h-1zM429 115h1v1h-1zM431 115h1v1h-1zM441 115h2v1h-2zM450 115h1v1h-1zM455 115h1v1h-1zM463 115h1v1h-1zM471 115h1v1h-1zM473 115h1v1h-1zM400 116h1v1h-1zM403 116h1v1h-1zM406 116h1v1h-1zM426 116h1v1h-1zM429 116h1v1h-1zM432 116h1v1h-1zM441 116h1v1h-1zM466 116h1v1h-1zM469 116h1v1h-1zM393 117h1v1h-1zM422 117h1v1h-1zM432 117h1v1h-1zM454 117h1v1h-1zM458 117h2v1h-2zM461 117h1v1h-1zM473 117h1v1h-1zM391 118h1v1h-1zM408 118h2v1h-2zM411 118h1v1h-1zM417 118h1v1h-1zM422 118h1v1h-1zM438 118h1v1h-1zM457 118h1v1h-1zM467 118h1v1h-1zM415 119h1v1h-1zM417 119h1v1h-1zM438 119h1v1h-1zM459 119h1v1h-1zM461 119h2v1h-2zM470 119h2v1h-2zM410 120h1v1h-1zM417 120h1v1h-1zM424 120h1v1h-1zM428 120h1v1h-1zM435 120h1v1h-1zM458 120h1v1h-1zM481 120h1v1h-1zM417 121h1v1h-1zM436 121h1v1h-1zM465 121h1v1h-1zM482 121h2v1h-2zM395 122h1v1h-1zM400 122h1v1h-1zM415 122h2v1h-2zM450 122h1v1h-1zM456 122h1v1h-1zM463 122h1v1h-1zM479 122h1v1h-1zM397 123h1v1h-1zM400 123h1v1h-1zM417 123h1v1h-1zM421 123h1v1h-1zM473 123h1v1h-1zM480 123h1v1h-1zM394 124h1v1h-1zM411 124h1v1h-1zM414 124h1v1h-1zM453 124h1v1h-1zM482 124h1v1h-1zM443 125h1v1h-1zM459 125h1v1h-1zM476 125h1v1h-1zM481 125h1v1h-1zM424 126h1v1h-1zM435 126h2v1h-2zM440 126h1v1h-1zM458 126h1v1h-1zM393 127h1v1h-1zM410 127h1v1h-1zM414 127h2v1h-2zM423 127h1v1h-1zM426 127h1v1h-1zM433 127h1v1h-1zM444 127h1v1h-1zM467 127h1v1h-1zM483 127h1v1h-1zM410 128h1v1h-1zM427 128h1v1h-1zM430 128h1v1h-1zM445 128h1v1h-1zM453 128h1v1h-1zM467 128h1v1h-1zM472 128h1v1h-1zM404 129h1v1h-1zM427 129h1v1h-1zM441 129h1v1h-1zM461 129h1v1h-1zM470 129h1v1h-1zM391 130h1v1h-1zM440 130h1v1h-1zM474 130h1v1h-1zM477 130h1v1h-1zM405 131h1v1h-1zM412 131h1v1h-1zM414 131h1v1h-1zM434 131h1v1h-1zM451 131h1v1h-1zM463 131h1v1h-1zM466 131h1v1h-1zM479 131h1v1h-1zM482 131h1v1h-1zM403 132h1v1h-1zM412 132h1v1h-1zM419 132h1v1h-1zM421 132h1v1h-1zM456 132h1v1h-1zM466 132h1v1h-1zM478 132h1v1h-1zM418 133h1v1h-1zM446 133h1v1h-1zM448 133h1v1h-1zM459 133h1v1h-1zM461 133h1v1h-1zM478 133h1v1h-1zM415 134h1v1h-1zM440 134h1v1h-1zM445 134h2v1h-2zM453 134h3v1h-3zM462 134h1v1h-1zM472 134h1v1h-1zM478 134h1v1h-1zM480 134h1v1h-1zM419 135h1v1h-1zM422 135h1v1h-1zM455 135h1v1h-1zM459 135h1v1h-1zM471 135h1v1h-1zM405 136h1v1h-1zM407 136h1v1h-1zM415 136h2v1h-2zM442 136h1v1h-1zM448 136h2v1h-2zM463 136h1v1h-1zM473 136h1v1h-1zM480 136h1v1h-1zM395 137h2v1h-2zM400 137h2v1h-2zM410 137h3v1h-3zM422 137h1v1h-1zM432 137h2v1h-2zM435 137h1v1h-1zM468 137h1v1h-1zM483 137h1v1h-1zM393 138h1v1h-1zM398 138h1v1h-1zM407 138h1v1h-1zM413 138h1v1h-1zM422 138h1v1h-1zM442 138h1v1h-1zM464 138h2v1h-2zM403 139h1v1h-1zM422 139h2v1h-2zM447 139h1v1h-1zM449 139h1v1h-1zM479 139h1v1h-1zM482 139h1v1h-1zM392 140h1v1h-1zM395 140h1v1h-1zM407 140h1v1h-1zM422 140h1v1h-1zM425 140h1v1h-1zM436 140h1v1h-1zM442 140h1v1h-1zM460 140h1v1h-1zM462 140h1v1h-1zM467 140h1v1h-1zM477 140h1v1h-1zM479 140h1v1h-1zM482 140h1v1h-1zM398 141h1v1h-1zM401 141h1v1h-1zM403 141h1v1h-1zM439 141h1v1h-1zM456 141h1v1h-1zM463 141h1v1h-1zM465 141h1v1h-1zM480 141h1v1h-1zM482 141h1v1h-1zM393 142h1v1h-1zM433 142h1v1h-1zM436 142h2v1h-2zM439 142h1v1h-1zM449 142h1v1h-1zM457 142h1v1h-1zM459 142h1v1h-1zM473 142h1v1h-1zM403 143h1v1h-1zM405 143h1v1h-1zM432 143h1v1h-1zM435 143h1v1h-1zM446 143h2v1h-2zM458 143h1v1h-1zM464 143h1v1h-1zM473 143h1v1h-1zM480 143h1v1h-1zM399 144h1v1h-1zM405 144h1v1h-1zM423 144h1v1h-1zM429 144h1v1h-1zM469 144h1v1h-1zM472 144h1v1h-1zM480 144h1v1h-1zM413 145h1v1h-1zM425 145h1v1h-1zM443 145h1v1h-1zM453 145h2v1h-2zM460 145h1v1h-1zM415 146h1v1h-1zM421 146h1v1h-1zM439 146h2v1h-2zM444 146h1v1h-1zM449 146h1v1h-1zM405 147h1v1h-1zM407 147h1v1h-1zM410 147h1v1h-1zM415 147h1v1h-1zM429 147h1v1h-1zM436 147h1v1h-1zM454 147h1v1h-1zM475 147h1v1h-1zM480 147h1v1h-1zM407 148h1v1h-1zM409 148h1v1h-1zM418 148h1v1h-1zM427 148h1v1h-1zM443 148h1v1h-1zM465 148h1v1h-1zM403 149h1v1h-1zM408 149h1v1h-1zM417 149h1v1h-1zM448 149h1v1h-1zM457 149h1v1h-1zM464 149h1v1h-1zM392 150h1v1h-1zM404 150h1v1h-1zM407 150h1v1h-1zM409 150h1v1h-1zM411 150h2v1h-2zM418 150h1v1h-1zM440 150h1v1h-1zM457 150h1v1h-1zM459 150h1v1h-1zM474 150h1v1h-1zM394 151h1v1h-1zM412 151h1v1h-1zM429 151h1v1h-1zM455 151h1v1h-1zM391 152h1v1h-1zM396 152h1v1h-1zM403 152h1v1h-1zM410 152h1v1h-1zM424 152h1v1h-1zM431 152h1v1h-1zM439 152h1v1h-1zM452 152h1v1h-1zM465 152h2v1h-2zM471 152h1v1h-1zM391 153h1v1h-1zM394 153h1v1h-1zM397 153h1v1h-1zM399 153h1v1h-1zM403 153h1v1h-1zM410 153h1v1h-1zM417 153h1v1h-1zM435 153h1v1h-1zM458 153h1v1h-1zM399 154h1v1h-1zM408 154h1v1h-1zM412 154h1v1h-1zM416 154h1v1h-1zM429 154h1v1h-1zM433 154h1v1h-1zM438 154h2v1h-2zM455 154h1v1h-1zM474 154h1v1h-1zM392 155h2v1h-2zM398 155h1v1h-1zM402 155h1v1h-1zM406 155h3v1h-3zM436 155h1v1h-1zM447 155h1v1h-1zM459 155h1v1h-1zM461 155h1v1h-1zM463 155h1v1h-1zM465 155h1v1h-1zM472 155h1v1h-1zM483 155h1v1h-1zM392 156h1v1h-1zM394 156h1v1h-1zM398 156h1v1h-1zM401 156h1v1h-1zM405 156h2v1h-2zM436 156h1v1h-1zM438 156h1v1h-1zM446 156h1v1h-1zM450 156h1v1h-1zM453 156h1v1h-1zM455 156h1v1h-1zM466 156h1v1h-1zM476 156h1v1h-1zM480 156h1v1h-1zM483 156h1v1h-1zM393 157h1v1h-1zM428 157h1v1h-1zM431 157h2v1h-2zM446 157h1v1h-1zM452 157h1v1h-1zM456 157h1v1h-1zM476 157h1v1h-1zM400 158h1v1h-1zM446 158h1v1h-1zM455 158h1v1h-1zM458 158h1v1h-1zM476 158h2v1h-2zM392 159h1v1h-1zM399 159h1v1h-1zM402 159h2v1h-2zM409 159h1v1h-1zM415 159h1v1h-1zM420 159h2v1h-2zM427 159h1v1h-1zM434 159h1v1h-1zM453 159h1v1h-1zM469 159h1v1h-1zM471 159h1v1h-1zM476 159h2v1h-2zM482 159h1v1h-1zM393 160h1v1h-1zM402 160h1v1h-1zM413 160h1v1h-1zM426 160h1v1h-1zM439 160h1v1h-1zM447 160h1v1h-1zM456 160h1v1h-1zM465 160h2v1h-2zM474 160h1v1h-1zM393 161h1v1h-1zM400 161h1v1h-1zM402 161h1v1h-1zM404 161h1v1h-1zM412 161h1v1h-1zM448 161h1v1h-1zM451 161h1v1h-1zM477 161h1v1h-1zM394 162h1v1h-1zM404 162h1v1h-1zM413 162h2v1h-2zM419 162h1v1h-1zM423 162h1v1h-1zM426 162h1v1h-1zM434 162h1v1h-1zM452 162h1v1h-1zM458 162h1v1h-1zM472 162h1v1h-1zM479 162h1v1h-1zM392 163h4v1h-4zM407 163h1v1h-1zM412 163h1v1h-1zM414 163h1v1h-1zM423 163h2v1h-2zM432 163h1v1h-1zM446 163h1v1h-1zM449 163h1v1h-1zM453 163h1v1h-1zM457 163h1v1h-1zM463 163h1v1h-1zM479 163h1v1h-1zM393 164h1v1h-1zM401 164h1v1h-1zM403 164h1v1h-1zM416 164h1v1h-1zM426 164h1v1h-1zM437 164h1v1h-1zM452 164h1v1h-1zM454 164h1v1h-1zM462 164h2v1h-2zM467 164h2v1h-2zM471 164h1v1h-1zM475 164h1v1h-1zM483 164h1v1h-1zM391 165h1v1h-1zM426 165h1v1h-1zM440 165h1v1h-1zM444 165h1v1h-1zM451 165h1v1h-1zM459 165h1v1h-1zM461 165h2v1h-2zM424 166h1v1h-1zM427 166h1v1h-1zM429 166h1v1h-1zM437 166h1v1h-1zM439 166h1v1h-1zM447 166h1v1h-1zM455 166h1v1h-1zM470 166h1v1h-1zM475 166h1v1h-1zM477 166h1v1h-1zM483 166h1v1h-1zM426 167h1v1h-1zM433 167h1v1h-1zM448 167h1v1h-1zM450 167h1v1h-1zM453 167h1v1h-1zM392 168h1v1h-1zM413 168h1v1h-1zM419 168h2v1h-2zM440 168h1v1h-1zM442 168h1v1h-1zM450 168h1v1h-1zM457 168h1v1h-1zM464 168h2v1h-2zM474 168h1v1h-1zM393 169h1v1h-1zM427 169h1v1h-1zM439 169h1v1h-1zM442 169h1v1h-1zM459 169h1v1h-1zM461 169h1v1h-1zM465 169h1v1h-1zM468 169h1v1h-1zM470 169h1v1h-1zM474 169h1v1h-1zM399 170h1v1h-1zM406 170h1v1h-1zM431 170h1v1h-1zM450 170h1v1h-1zM455 170h1v1h-1zM464 170h2v1h-2zM476 170h1v1h-1zM398 171h1v1h-1zM402 171h2v1h-2zM405 171h2v1h-2zM410 171h1v1h-1zM417 171h1v1h-1zM433 171h1v1h-1zM435 171h1v1h-1zM442 171h1v1h-1zM451 171h1v1h-1zM455 171h1v1h-1zM463 171h1v1h-1zM476 171h1v1h-1zM391 172h1v1h-1zM405 172h1v1h-1zM407 172h1v1h-1zM430 172h1v1h-1zM436 172h1v1h-1zM439 172h1v1h-1zM441 172h2v1h-2zM454 172h1v1h-1zM461 172h1v1h-1zM468 172h2v1h-2zM472 172h1v1h-1zM474 172h1v1h-1zM479 172h1v1h-1zM483 172h1v1h-1zM398 173h1v1h-1zM400 173h1v1h-1zM416 173h1v1h-1zM445 173h2v1h-2zM454 173h1v1h-1zM467 173h1v1h-1zM470 173h1v1h-1zM478 173h1v1h-1zM480 173h1v1h-1zM483 173h1v1h-1zM397 174h1v1h-1zM401 174h1v1h-1zM404 174h1v1h-1zM418 174h2v1h-2zM422 174h1v1h-1zM429 174h1v1h-1zM447 174h1v1h-1zM450 174h1v1h-1zM455 174h1v1h-1zM465 174h1v1h-1zM472 174h1v1h-1zM474 174h1v1h-1zM396 175h1v1h-1zM406 175h2v1h-2zM438 175h1v1h-1zM445 175h1v1h-1zM449 175h1v1h-1zM452 175h3v1h-3zM457 175h1v1h-1zM468 175h1v1h-1zM477 175h1v1h-1zM482 175h1v1h-1zM391 176h1v1h-1zM395 176h1v1h-1zM401 176h1v1h-1zM405 176h1v1h-1zM408 176h1v1h-1zM410 176h1v1h-1zM419 176h1v1h-1zM442 176h1v1h-1zM448 176h1v1h-1zM470 176h1v1h-1zM474 176h1v1h-1zM392 177h2v1h-2zM421 177h1v1h-1zM427 177h1v1h-1zM437 177h1v1h-1zM446 177h1v1h-1zM459 177h1v1h-1zM471 177h1v1h-1zM475 177h1v1h-1zM401 178h1v1h-1zM420 178h1v1h-1zM426 178h1v1h-1zM430 178h1v1h-1zM447 178h2v1h-2zM450 178h1v1h-1zM464 178h1v1h-1zM467 178h1v1h-1zM393 179h1v1h-1zM396 179h1v1h-1zM409 179h1v1h-1zM418 179h1v1h-1zM440 179h1v1h-1zM476 179h1v1h-1zM398 180h1v1h-1zM401 180h1v1h-1zM408 180h1v1h-1zM446 180h1v1h-1zM463 180h1v1h-1zM483 180h1v1h-1zM392 181h1v1h-1zM395 181h1v1h-1zM404 181h1v1h-1zM414 181h1v1h-1zM416 181h1v1h-1zM432 181h1v1h-1zM435 181h1v1h-1zM451 181h1v1h-1zM454 181h1v1h-1zM463 181h1v1h-1zM468 181h4v1h-4zM391 182h2v1h-2zM403 182h1v1h-1zM408 182h1v1h-1zM419 182h1v1h-1zM423 182h1v1h-1zM429 182h1v1h-1zM442 182h1v1h-1zM445 182h1v1h-1zM448 182h1v1h-1zM458 182h1v1h-1zM462 182h1v1h-1zM467 182h1v1h-1zM469 182h1v1h-1zM472 182h1v1h-1zM478 182h1v1h-1zM482 182h2v1h-2zM394 183h1v1h-1zM408 183h1v1h-1zM413 183h1v1h-1zM427 183h1v1h-1zM434 183h1v1h-1zM437 183h1v1h-1zM447 183h1v1h-1zM449 183h1v1h-1zM465 183h1v1h-1zM469 183h1v1h-1zM476 183h1v1h-1zM405 184h1v1h-1zM407 184h1v1h-1zM410 184h1v1h-1zM420 184h1v1h-1zM423 184h1v1h-1zM427 184h1v1h-1zM433 184h1v1h-1zM439 184h1v1h-1zM451 184h1v1h-1zM462 184h1v1h-1zM467 184h1v1h-1zM473 184h1v1h-1zM478 184h1v1h-1zM481 184h1v1h-1zM399 185h1v1h-1zM425 185h1v1h-1zM429 185h3v1h-3zM458 185h1v1h-1zM465 185h2v1h-2zM474 185h1v1h-1zM391 186h1v1h-1zM401 186h1v1h-1zM409 186h1v1h-1zM429 186h1v1h-1zM433 186h1v1h-1zM447 186h1v1h-1zM429 187h1v1h-1zM440 187h1v1h-1zM468 187h1v1h-1zM472 187h1v1h-1zM476 187h2v1h-2zM391 188h1v1h-1zM402 188h1v1h-1zM407 188h1v1h-1zM410 188h1v1h-1zM433 188h1v1h-1zM445 188h1v1h-1zM457 188h1v1h-1zM483 188h1v1h-1zM391 189h1v1h-1zM400 189h1v1h-1zM428 189h1v1h-1zM445 189h2v1h-2zM470 189h1v1h-1zM482 189h1v1h-1zM400 190h1v1h-1zM409 190h1v1h-1zM413 190h1v1h-1zM418 190h1v1h-1zM429 190h1v1h-1zM440 190h1v1h-1zM447 190h1v1h-1zM452 190h1v1h-1zM462 190h1v1h-1zM469 190h1v1h-1zM480 190h2v1h-2zM400 191h1v1h-1zM406 191h1v1h-1zM408 191h1v1h-1zM410 191h1v1h-1zM415 191h1v1h-1zM427 191h1v1h-1zM430 191h1v1h-1zM444 191h1v1h-1zM457 191h1v1h-1zM467 191h2v1h-2zM476 191h1v1h-1zM478 191h1v1h-1zM395 192h1v1h-1zM401 192h1v1h-1zM406 192h1v1h-1zM414 192h1v1h-1zM416 192h3v1h-3zM424 192h1v1h-1zM436 192h2v1h-2zM441 192h1v1h-1zM448 192h1v1h-1zM453 192h1v1h-1zM457 192h2v1h-2zM465 192h1v1h-1zM471 192h1v1h-1zM474 192h1v1h-1zM476 192h2v1h-2zM392 193h1v1h-1zM401 193h1v1h-1zM406 193h3v1h-3zM418 193h1v1h-1zM420 193h1v1h-1zM438 193h2v1h-2zM448 193h1v1h-1zM457 193h1v1h-1zM472 193h1v1h-1zM397 194h1v1h-1zM404 194h1v1h-1zM416 194h1v1h-1zM427 194h3v1h-3zM431 194h1v1h-1zM443 194h2v1h-2zM446 194h1v1h-1zM457 194h1v1h-1zM462 194h1v1h-1zM477 194h1v1h-1zM481 194h1v1h-1zM392 195h1v1h-1zM397 195h1v1h-1zM426 195h1v1h-1zM429 195h1v1h-1zM455 195h1v1h-1zM460 195h1v1h-1zM463 195h1v1h-1zM468 195h1v1h-1zM472 195h1v1h-1zM483 195h1v1h-1zM399 196h1v1h-1zM403 196h1v1h-1zM409 196h1v1h-1zM413 196h1v1h-1zM419 196h1v1h-1zM429 196h2v1h-2zM439 196h1v1h-1zM443 196h1v1h-1zM446 196h1v1h-1zM458 196h1v1h-1zM464 196h1v1h-1zM474 196h1v1h-1zM477 196h1v1h-1zM482 196h1v1h-1zM391 197h2v1h-2zM411 197h1v1h-1zM418 197h1v1h-1zM434 197h1v1h-1zM438 197h4v1h-4zM446 197h1v1h-1zM465 197h1v1h-1zM472 197h1v1h-1zM399 198h1v1h-1zM405 198h1v1h-1zM410 198h1v1h-1zM412 198h1v1h-1zM415 198h1v1h-1zM418 198h1v1h-1zM431 198h2v1h-2zM435 198h1v1h-1zM437 198h1v1h-1zM448 198h1v1h-1zM452 198h1v1h-1zM457 198h2v1h-2zM464 198h2v1h-2zM467 198h1v1h-1zM474 198h2v1h-2zM479 198h1v1h-1zM398 199h1v1h-1zM409 199h1v1h-1zM417 199h1v1h-1zM428 199h1v1h-1zM443 199h1v1h-1zM448 199h1v1h-1zM450 199h1v1h-1zM459 199h1v1h-1zM464 199h1v1h-1zM470 199h1v1h-1zM472 199h2v1h-2zM479 199h1v1h-1zM481 199h1v1h-1zM403 200h1v1h-1zM409 200h1v1h-1zM411 200h1v1h-1zM423 200h1v1h-1zM425 200h1v1h-1zM433 200h1v1h-1zM442 200h1v1h-1zM445 200h1v1h-1zM447 200h1v1h-1zM454 200h1v1h-1zM461 200h1v1h-1zM469 200h1v1h-1zM478 200h1v1h-1zM409 201h1v1h-1zM416 201h1v1h-1zM427 201h2v1h-2zM441 201h1v1h-1zM446 201h1v1h-1zM448 201h1v1h-1zM454 201h1v1h-1zM463 201h1v1h-1zM466 201h2v1h-2zM474 201h1v1h-1zM476 201h1v1h-1zM411 202h1v1h-1zM423 202h1v1h-1zM425 202h1v1h-1zM441 202h1v1h-1zM452 202h2v1h-2zM464 202h1v1h-1zM467 202h1v1h-1zM472 202h1v1h-1zM474 202h1v1h-1zM425 203h1v1h-1zM427 203h1v1h-1zM430 203h1v1h-1zM432 203h3v1h-3zM446 203h1v1h-1zM449 203h1v1h-1zM451 203h1v1h-1zM453 203h1v1h-1zM457 203h1v1h-1zM461 203h1v1h-1zM463 203h1v1h-1zM474 203h1v1h-1zM476 203h1v1h-1zM481 203h2v1h-2zM447 204h1v1h-1zM450 204h1v1h-1zM466 204h1v1h-1zM477 204h1v1h-1zM480 204h1v1h-1zM437 205h2v1h-2zM440 205h1v1h-1zM455 205h1v1h-1zM458 205h2v1h-2zM477 205h1v1h-1zM482 205h1v1h-1zM448 206h1v1h-1zM456 206h1v1h-1zM465 206h1v1h-1zM467 206h1v1h-1zM474 207h1v1h-1zM478 207h1v1h-1zM392 208h1v1h-1zM397 208h1v1h-1zM460 208h1v1h-1zM473 208h2v1h-2zM477 208h1v1h-1zM465 209h1v1h-1zM468 209h1v1h-1z"/><path fill="#464646" d="M407 106h1v1h-1zM417 106h1v1h-1zM483 106h1v1h-1zM407 107h1v1h-1zM409 107h1v1h-1zM414 107h2v1h-2zM442 107h1v1h-1zM451 107h1v1h-1zM459 107h1v1h-1zM478 107h1v1h-1zM391 108h1v1h-1zM397 108h1v1h-1zM420 108h1v1h-1zM422 108h1v1h-1zM440 108h1v1h-1zM450 108h1v1h-1zM457 108h1v1h-1zM464 108h1v1h-1zM474 108h1v1h-1zM480 108h1v1h-1zM471 109h1v1h-1zM407 110h1v1h-1zM417 110h1v1h-1zM422 110h1v1h-1zM424 110h1v1h-1zM439 110h1v1h-1zM458 110h1v1h-1zM409 111h1v1h-1zM417 111h1v1h-1zM424 111h1v1h-1zM450 111h1v1h-1zM476 111h1v1h-1zM391 112h1v1h-1zM395 112h1v1h-1zM405 112h1v1h-1zM410 112h1v1h-1zM437 112h1v1h-1zM444 112h1v1h-1zM450 112h1v1h-1zM467 112h1v1h-1zM406 113h2v1h-2zM416 113h1v1h-1zM420 113h1v1h-1zM424 113h2v1h-2zM429 113h1v1h-1zM432 113h1v1h-1zM434 113h1v1h-1zM436 113h1v1h-1zM445 113h1v1h-1zM457 113h1v1h-1zM467 113h1v1h-1zM477 113h1v1h-1zM391 114h2v1h-2zM398 114h1v1h-1zM403 114h1v1h-1zM424 114h2v1h-2zM432 114h1v1h-1zM442 114h1v1h-1zM450 114h1v1h-1zM465 114h1v1h-1zM470 114h1v1h-1zM473 114h1v1h-1zM478 114h1v1h-1zM397 115h1v1h-1zM419 115h1v1h-1zM453 115h1v1h-1zM467 115h1v1h-1zM470 115h1v1h-1zM392 116h1v1h-1zM394 116h1v1h-1zM405 116h1v1h-1zM420 116h1v1h-1zM422 116h1v1h-1zM448 116h1v1h-1zM458 116h1v1h-1zM461 116h1v1h-1zM467 116h1v1h-1zM391 117h1v1h-1zM401 117h1v1h-1zM404 117h1v1h-1zM415 117h1v1h-1zM424 117h2v1h-2zM447 117h2v1h-2zM455 117h1v1h-1zM460 117h1v1h-1zM478 117h1v1h-1zM392 118h1v1h-1zM396 118h1v1h-1zM437 118h1v1h-1zM446 118h1v1h-1zM459 118h1v1h-1zM479 118h1v1h-1zM398 119h1v1h-1zM428 119h1v1h-1zM432 119h1v1h-1zM442 119h1v1h-1zM444 119h1v1h-1zM448 119h1v1h-1zM475 119h2v1h-2zM483 119h1v1h-1zM394 120h1v1h-1zM396 120h1v1h-1zM400 120h1v1h-1zM406 120h1v1h-1zM408 120h1v1h-1zM415 120h1v1h-1zM419 120h1v1h-1zM421 120h1v1h-1zM447 120h1v1h-1zM460 120h1v1h-1zM467 120h1v1h-1zM399 121h1v1h-1zM415 121h1v1h-1zM446 121h1v1h-1zM450 121h1v1h-1zM469 121h1v1h-1zM472 121h2v1h-2zM480 121h1v1h-1zM401 122h1v1h-1zM405 122h1v1h-1zM423 122h1v1h-1zM448 122h1v1h-1zM454 122h1v1h-1zM460 122h1v1h-1zM464 122h2v1h-2zM470 122h1v1h-1zM482 122h1v1h-1zM392 123h1v1h-1zM394 123h1v1h-1zM425 123h1v1h-1zM447 123h1v1h-1zM453 123h1v1h-1zM479 123h1v1h-1zM482 123h1v1h-1zM392 124h2v1h-2zM395 124h1v1h-1zM410 124h1v1h-1zM430 124h1v1h-1zM447 124h1v1h-1zM459 124h1v1h-1zM461 124h1v1h-1zM469 124h1v1h-1zM476 124h1v1h-1zM392 125h1v1h-1zM403 125h1v1h-1zM407 125h1v1h-1zM412 125h1v1h-1zM416 125h2v1h-2zM419 125h1v1h-1zM421 125h1v1h-1zM435 125h1v1h-1zM461 125h1v1h-1zM401 126h1v1h-1zM437 126h2v1h-2zM452 126h1v1h-1zM461 126h1v1h-1zM472 126h1v1h-1zM418 127h2v1h-2zM437 127h2v1h-2zM457 127h1v1h-1zM470 127h1v1h-1zM477 127h2v1h-2zM396 128h2v1h-2zM401 128h1v1h-1zM405 128h1v1h-1zM440 128h1v1h-1zM442 128h1v1h-1zM458 128h1v1h-1zM461 128h1v1h-1zM464 128h1v1h-1zM420 129h1v1h-1zM463 129h1v1h-1zM480 129h1v1h-1zM394 130h1v1h-1zM428 130h1v1h-1zM441 130h1v1h-1zM463 130h1v1h-1zM391 131h1v1h-1zM411 131h1v1h-1zM435 131h1v1h-1zM399 132h4v1h-4zM407 132h1v1h-1zM409 132h1v1h-1zM425 132h1v1h-1zM432 132h1v1h-1zM434 132h1v1h-1zM442 132h1v1h-1zM446 132h2v1h-2zM449 132h2v1h-2zM452 132h1v1h-1zM455 132h1v1h-1zM461 132h1v1h-1zM477 132h1v1h-1zM479 132h1v1h-1zM482 132h1v1h-1zM392 133h1v1h-1zM406 133h1v1h-1zM410 133h1v1h-1zM413 133h1v1h-1zM421 133h1v1h-1zM423 133h1v1h-1zM442 133h1v1h-1zM450 133h1v1h-1zM470 133h1v1h-1zM392 134h1v1h-1zM395 134h1v1h-1zM399 134h1v1h-1zM401 134h2v1h-2zM409 134h1v1h-1zM411 134h1v1h-1zM413 134h1v1h-1zM416 134h1v1h-1zM418 134h1v1h-1zM432 134h1v1h-1zM436 134h1v1h-1zM465 134h1v1h-1zM473 134h2v1h-2zM482 134h1v1h-1zM393 135h1v1h-1zM397 135h1v1h-1zM402 135h1v1h-1zM409 135h1v1h-1zM449 135h1v1h-1zM468 135h1v1h-1zM470 135h1v1h-1zM472 135h1v1h-1zM478 135h1v1h-1zM481 135h1v1h-1zM404 136h1v1h-1zM410 136h1v1h-1zM413 136h1v1h-1zM447 136h1v1h-1zM461 136h1v1h-1zM467 136h2v1h-2zM471 136h1v1h-1zM408 137h1v1h-1zM427 137h1v1h-1zM430 137h1v1h-1zM440 137h1v1h-1zM442 137h2v1h-2zM445 137h1v1h-1zM457 137h1v1h-1zM462 137h1v1h-1zM466 137h1v1h-1zM471 137h1v1h-1zM473 137h1v1h-1zM392 138h1v1h-1zM405 138h1v1h-1zM409 138h1v1h-1zM411 138h1v1h-1zM421 138h1v1h-1zM423 138h1v1h-1zM443 138h1v1h-1zM451 138h1v1h-1zM458 138h1v1h-1zM473 138h1v1h-1zM475 138h1v1h-1zM397 139h1v1h-1zM406 139h1v1h-1zM409 139h1v1h-1zM420 139h1v1h-1zM427 139h1v1h-1zM443 139h1v1h-1zM450 139h1v1h-1zM475 139h1v1h-1zM411 140h1v1h-1zM414 140h1v1h-1zM419 140h1v1h-1zM427 140h1v1h-1zM430 140h1v1h-1zM439 140h2v1h-2zM445 140h1v1h-1zM457 140h1v1h-1zM465 140h2v1h-2zM470 140h1v1h-1zM476 140h1v1h-1zM480 140h1v1h-1zM483 140h1v1h-1zM391 141h1v1h-1zM393 141h2v1h-2zM406 141h1v1h-1zM442 141h1v1h-1zM452 141h1v1h-1zM455 141h1v1h-1zM468 141h1v1h-1zM475 141h1v1h-1zM477 141h1v1h-1zM481 141h1v1h-1zM391 142h1v1h-1zM395 142h1v1h-1zM429 142h1v1h-1zM441 142h1v1h-1zM444 142h1v1h-1zM446 142h2v1h-2zM465 142h1v1h-1zM476 142h1v1h-1zM394 143h1v1h-1zM401 143h1v1h-1zM416 143h1v1h-1zM431 143h1v1h-1zM433 143h1v1h-1zM438 143h1v1h-1zM468 143h2v1h-2zM471 143h1v1h-1zM481 143h1v1h-1zM395 144h1v1h-1zM400 144h1v1h-1zM403 144h2v1h-2zM424 144h1v1h-1zM433 144h1v1h-1zM443 144h1v1h-1zM445 144h3v1h-3zM450 144h1v1h-1zM465 144h1v1h-1zM467 144h1v1h-1zM482 144h1v1h-1zM429 145h1v1h-1zM432 145h1v1h-1zM439 145h2v1h-2zM452 145h1v1h-1zM456 145h2v1h-2zM482 145h1v1h-1zM393 146h1v1h-1zM408 146h3v1h-3zM412 146h1v1h-1zM424 146h2v1h-2zM448 146h1v1h-1zM467 146h1v1h-1zM471 146h1v1h-1zM391 147h1v1h-1zM403 147h2v1h-2zM412 147h2v1h-2zM416 147h1v1h-1zM423 147h1v1h-1zM425 147h1v1h-1zM456 147h1v1h-1zM459 147h1v1h-1zM464 147h1v1h-1zM466 147h1v1h-1zM469 147h1v1h-1zM471 147h1v1h-1zM482 147h2v1h-2zM414 148h1v1h-1zM436 148h1v1h-1zM440 148h1v1h-1zM447 148h1v1h-1zM479 148h1v1h-1zM393 149h1v1h-1zM399 149h1v1h-1zM424 149h1v1h-1zM429 149h1v1h-1zM442 149h1v1h-1zM461 149h1v1h-1zM468 149h1v1h-1zM473 149h1v1h-1zM481 149h1v1h-1zM396 150h1v1h-1zM401 150h1v1h-1zM408 150h1v1h-1zM417 150h1v1h-1zM426 150h1v1h-1zM456 150h1v1h-1zM465 150h2v1h-2zM468 150h1v1h-1zM480 150h1v1h-1zM401 151h1v1h-1zM406 151h1v1h-1zM414 151h1v1h-1zM416 151h1v1h-1zM419 151h2v1h-2zM428 151h1v1h-1zM438 151h1v1h-1zM445 151h1v1h-1zM471 151h3v1h-3zM476 151h1v1h-1zM405 152h1v1h-1zM416 152h1v1h-1zM421 152h1v1h-1zM435 152h1v1h-1zM446 152h1v1h-1zM448 152h2v1h-2zM451 152h1v1h-1zM463 152h2v1h-2zM474 152h1v1h-1zM477 152h1v1h-1zM393 153h1v1h-1zM409 153h1v1h-1zM411 153h1v1h-1zM442 153h1v1h-1zM447 153h2v1h-2zM456 153h1v1h-1zM465 153h1v1h-1zM467 153h1v1h-1zM477 153h1v1h-1zM479 153h1v1h-1zM481 153h1v1h-1zM423 154h1v1h-1zM431 154h1v1h-1zM441 154h1v1h-1zM444 154h1v1h-1zM446 154h1v1h-1zM452 154h2v1h-2zM456 154h1v1h-1zM470 154h1v1h-1zM473 154h1v1h-1zM478 154h1v1h-1zM400 155h1v1h-1zM423 155h1v1h-1zM429 155h1v1h-1zM439 155h3v1h-3zM443 155h3v1h-3zM450 155h1v1h-1zM469 155h1v1h-1zM473 155h1v1h-1zM481 155h1v1h-1zM391 156h1v1h-1zM400 156h1v1h-1zM410 156h1v1h-1zM412 156h1v1h-1zM414 156h1v1h-1zM429 156h1v1h-1zM431 156h1v1h-1zM435 156h1v1h-1zM395 157h1v1h-1zM429 157h1v1h-1zM440 157h1v1h-1zM447 157h1v1h-1zM460 157h1v1h-1zM464 157h1v1h-1zM467 157h1v1h-1zM472 157h1v1h-1zM474 157h1v1h-1zM393 158h1v1h-1zM424 158h1v1h-1zM429 158h1v1h-1zM432 158h1v1h-1zM445 158h1v1h-1zM398 159h1v1h-1zM412 159h2v1h-2zM430 159h2v1h-2zM443 159h1v1h-1zM449 159h1v1h-1zM465 159h1v1h-1zM473 159h2v1h-2zM406 160h1v1h-1zM415 160h1v1h-1zM427 160h1v1h-1zM430 160h2v1h-2zM438 160h1v1h-1zM443 160h1v1h-1zM445 160h1v1h-1zM448 160h1v1h-1zM459 160h1v1h-1zM473 160h1v1h-1zM475 160h1v1h-1zM392 161h1v1h-1zM401 161h1v1h-1zM410 161h2v1h-2zM431 161h1v1h-1zM441 161h1v1h-1zM454 161h1v1h-1zM456 161h1v1h-1zM474 161h1v1h-1zM395 162h1v1h-1zM398 162h1v1h-1zM405 162h1v1h-1zM408 162h1v1h-1zM416 162h1v1h-1zM425 162h1v1h-1zM436 162h1v1h-1zM444 162h1v1h-1zM462 162h1v1h-1zM467 162h1v1h-1zM478 162h1v1h-1zM404 163h2v1h-2zM408 163h1v1h-1zM422 163h1v1h-1zM428 163h1v1h-1zM434 163h1v1h-1zM438 163h2v1h-2zM450 163h1v1h-1zM452 163h1v1h-1zM465 163h1v1h-1zM467 163h1v1h-1zM413 164h1v1h-1zM421 164h1v1h-1zM425 164h1v1h-1zM433 164h1v1h-1zM442 164h1v1h-1zM447 164h1v1h-1zM450 164h1v1h-1zM455 164h1v1h-1zM458 164h1v1h-1zM466 164h1v1h-1zM478 164h1v1h-1zM397 165h1v1h-1zM435 165h1v1h-1zM437 165h1v1h-1zM442 165h1v1h-1zM445 165h1v1h-1zM456 165h1v1h-1zM458 165h1v1h-1zM469 165h1v1h-1zM482 165h1v1h-1zM391 166h1v1h-1zM404 166h1v1h-1zM425 166h1v1h-1zM449 166h1v1h-1zM458 166h1v1h-1zM391 167h1v1h-1zM403 167h1v1h-1zM411 167h2v1h-2zM421 167h1v1h-1zM424 167h1v1h-1zM437 167h1v1h-1zM457 167h3v1h-3zM466 167h1v1h-1zM483 167h1v1h-1zM417 168h1v1h-1zM422 168h1v1h-1zM430 168h1v1h-1zM454 168h1v1h-1zM459 168h1v1h-1zM466 168h1v1h-1zM476 168h1v1h-1zM400 169h1v1h-1zM415 169h1v1h-1zM436 169h1v1h-1zM438 169h1v1h-1zM440 169h1v1h-1zM448 169h1v1h-1zM460 169h1v1h-1zM482 169h1v1h-1zM408 170h1v1h-1zM421 170h1v1h-1zM427 170h2v1h-2zM436 170h1v1h-1zM449 170h1v1h-1zM460 170h1v1h-1zM468 170h1v1h-1zM407 171h1v1h-1zM412 171h1v1h-1zM423 171h1v1h-1zM444 171h1v1h-1zM454 171h1v1h-1zM457 171h1v1h-1zM466 171h1v1h-1zM468 171h1v1h-1zM471 171h2v1h-2zM481 171h1v1h-1zM398 172h2v1h-2zM409 172h1v1h-1zM414 172h2v1h-2zM419 172h1v1h-1zM426 172h1v1h-1zM435 172h1v1h-1zM445 172h1v1h-1zM448 172h1v1h-1zM452 172h2v1h-2zM464 172h1v1h-1zM478 172h1v1h-1zM481 172h2v1h-2zM406 173h1v1h-1zM411 173h3v1h-3zM421 173h1v1h-1zM449 173h1v1h-1zM458 173h2v1h-2zM462 173h1v1h-1zM464 173h1v1h-1zM469 173h1v1h-1zM479 173h1v1h-1zM482 173h1v1h-1zM394 174h2v1h-2zM409 174h1v1h-1zM411 174h1v1h-1zM413 174h2v1h-2zM416 174h1v1h-1zM428 174h1v1h-1zM437 174h1v1h-1zM445 174h1v1h-1zM456 174h1v1h-1zM458 174h1v1h-1zM462 174h1v1h-1zM395 175h1v1h-1zM402 175h1v1h-1zM404 175h1v1h-1zM409 175h1v1h-1zM418 175h1v1h-1zM423 175h1v1h-1zM436 175h1v1h-1zM441 175h1v1h-1zM446 175h2v1h-2zM456 175h1v1h-1zM459 175h1v1h-1zM463 175h1v1h-1zM467 175h1v1h-1zM471 175h1v1h-1zM479 175h3v1h-3zM403 176h1v1h-1zM412 176h1v1h-1zM420 176h1v1h-1zM460 176h1v1h-1zM462 176h1v1h-1zM476 176h1v1h-1zM403 177h1v1h-1zM423 177h1v1h-1zM432 177h1v1h-1zM447 177h1v1h-1zM450 177h1v1h-1zM460 177h1v1h-1zM466 177h2v1h-2zM469 177h1v1h-1zM479 177h1v1h-1zM409 178h1v1h-1zM436 178h1v1h-1zM438 178h1v1h-1zM446 178h1v1h-1zM460 178h2v1h-2zM463 178h1v1h-1zM469 178h1v1h-1zM402 179h1v1h-1zM419 179h1v1h-1zM439 179h1v1h-1zM446 179h3v1h-3zM475 179h1v1h-1zM482 179h1v1h-1zM393 180h1v1h-1zM399 180h1v1h-1zM402 180h2v1h-2zM419 180h1v1h-1zM421 180h1v1h-1zM423 180h1v1h-1zM427 180h1v1h-1zM442 180h2v1h-2zM445 180h1v1h-1zM449 180h3v1h-3zM455 180h2v1h-2zM459 180h1v1h-1zM461 180h1v1h-1zM466 180h1v1h-1zM479 180h1v1h-1zM481 180h1v1h-1zM393 181h1v1h-1zM405 181h1v1h-1zM415 181h1v1h-1zM427 181h1v1h-1zM436 181h1v1h-1zM438 181h1v1h-1zM446 181h1v1h-1zM452 181h1v1h-1zM455 181h1v1h-1zM457 181h1v1h-1zM466 181h1v1h-1zM474 181h1v1h-1zM395 182h1v1h-1zM402 182h1v1h-1zM406 182h2v1h-2zM415 182h1v1h-1zM418 182h1v1h-1zM420 182h1v1h-1zM437 182h1v1h-1zM451 182h1v1h-1zM461 182h1v1h-1zM466 182h1v1h-1zM481 182h1v1h-1zM391 183h1v1h-1zM416 183h1v1h-1zM420 183h1v1h-1zM422 183h2v1h-2zM426 183h1v1h-1zM433 183h1v1h-1zM438 183h2v1h-2zM448 183h1v1h-1zM451 183h1v1h-1zM457 183h1v1h-1zM460 183h1v1h-1zM462 183h1v1h-1zM464 183h1v1h-1zM466 183h1v1h-1zM477 183h1v1h-1zM480 183h1v1h-1zM392 184h1v1h-1zM395 184h1v1h-1zM402 184h1v1h-1zM415 184h1v1h-1zM424 184h1v1h-1zM429 184h1v1h-1zM435 184h2v1h-2zM447 184h1v1h-1zM461 184h1v1h-1zM465 184h1v1h-1zM475 184h3v1h-3zM480 184h1v1h-1zM482 184h1v1h-1zM404 185h1v1h-1zM418 185h1v1h-1zM420 185h1v1h-1zM424 185h1v1h-1zM435 185h3v1h-3zM440 185h1v1h-1zM450 185h1v1h-1zM473 185h1v1h-1zM394 186h1v1h-1zM410 186h1v1h-1zM427 186h1v1h-1zM436 186h1v1h-1zM438 186h1v1h-1zM440 186h1v1h-1zM448 186h1v1h-1zM457 186h1v1h-1zM468 186h1v1h-1zM477 186h1v1h-1zM409 187h1v1h-1zM418 187h1v1h-1zM428 187h1v1h-1zM431 187h1v1h-1zM436 187h1v1h-1zM442 187h2v1h-2zM448 187h1v1h-1zM456 187h1v1h-1zM461 187h1v1h-1zM464 187h1v1h-1zM466 187h2v1h-2zM481 187h1v1h-1zM400 188h1v1h-1zM409 188h1v1h-1zM412 188h1v1h-1zM418 188h2v1h-2zM429 188h1v1h-1zM447 188h2v1h-2zM458 188h1v1h-1zM461 188h1v1h-1zM468 188h1v1h-1zM398 189h1v1h-1zM401 189h2v1h-2zM407 189h1v1h-1zM412 189h1v1h-1zM430 189h1v1h-1zM440 189h1v1h-1zM448 189h1v1h-1zM458 189h1v1h-1zM466 189h1v1h-1zM397 190h2v1h-2zM406 190h1v1h-1zM408 190h1v1h-1zM410 190h1v1h-1zM412 190h1v1h-1zM419 190h1v1h-1zM421 190h1v1h-1zM431 190h2v1h-2zM441 190h1v1h-1zM444 190h2v1h-2zM458 190h1v1h-1zM460 190h1v1h-1zM471 190h1v1h-1zM479 190h1v1h-1zM409 191h1v1h-1zM411 191h1v1h-1zM417 191h1v1h-1zM424 191h1v1h-1zM429 191h1v1h-1zM432 191h1v1h-1zM438 191h1v1h-1zM440 191h1v1h-1zM450 191h1v1h-1zM453 191h1v1h-1zM455 191h2v1h-2zM461 191h2v1h-2zM466 191h1v1h-1zM477 191h1v1h-1zM479 191h1v1h-1zM394 192h1v1h-1zM397 192h4v1h-4zM403 192h3v1h-3zM408 192h1v1h-1zM413 192h1v1h-1zM419 192h1v1h-1zM422 192h2v1h-2zM427 192h1v1h-1zM430 192h1v1h-1zM447 192h1v1h-1zM459 192h1v1h-1zM461 192h2v1h-2zM464 192h1v1h-1zM472 192h2v1h-2zM475 192h1v1h-1zM481 192h1v1h-1zM398 193h1v1h-1zM422 193h3v1h-3zM432 193h1v1h-1zM434 193h1v1h-1zM444 193h1v1h-1zM456 193h1v1h-1zM464 193h2v1h-2zM470 193h1v1h-1zM393 194h1v1h-1zM400 194h1v1h-1zM412 194h2v1h-2zM439 194h1v1h-1zM447 194h1v1h-1zM451 194h1v1h-1zM456 194h1v1h-1zM464 194h1v1h-1zM471 194h1v1h-1zM391 195h1v1h-1zM401 195h2v1h-2zM412 195h1v1h-1zM420 195h1v1h-1zM423 195h1v1h-1zM439 195h1v1h-1zM456 195h1v1h-1zM458 195h1v1h-1zM467 195h1v1h-1zM391 196h1v1h-1zM400 196h1v1h-1zM418 196h1v1h-1zM435 196h1v1h-1zM447 196h1v1h-1zM466 196h1v1h-1zM468 196h1v1h-1zM476 196h1v1h-1zM478 196h2v1h-2zM483 196h1v1h-1zM393 197h1v1h-1zM395 197h2v1h-2zM400 197h1v1h-1zM402 197h2v1h-2zM423 197h1v1h-1zM427 197h2v1h-2zM445 197h1v1h-1zM456 197h1v1h-1zM474 197h1v1h-1zM476 197h2v1h-2zM414 198h1v1h-1zM422 198h1v1h-1zM430 198h1v1h-1zM436 198h1v1h-1zM438 198h1v1h-1zM446 198h1v1h-1zM450 198h1v1h-1zM459 198h1v1h-1zM476 198h1v1h-1zM483 198h1v1h-1zM397 199h1v1h-1zM402 199h1v1h-1zM418 199h2v1h-2zM424 199h1v1h-1zM426 199h1v1h-1zM432 199h1v1h-1zM438 199h1v1h-1zM461 199h1v1h-1zM474 199h2v1h-2zM399 200h1v1h-1zM417 200h1v1h-1zM421 200h1v1h-1zM424 200h1v1h-1zM428 200h1v1h-1zM436 200h2v1h-2zM443 200h1v1h-1zM453 200h1v1h-1zM456 200h1v1h-1zM458 200h1v1h-1zM460 200h1v1h-1zM463 200h4v1h-4zM468 200h1v1h-1zM470 200h1v1h-1zM475 200h1v1h-1zM480 200h1v1h-1zM407 201h1v1h-1zM411 201h1v1h-1zM417 201h1v1h-1zM419 201h1v1h-1zM422 201h2v1h-2zM426 201h1v1h-1zM437 201h2v1h-2zM444 201h2v1h-2zM450 201h1v1h-1zM453 201h1v1h-1zM457 201h1v1h-1zM462 201h1v1h-1zM471 201h1v1h-1zM419 202h1v1h-1zM421 202h1v1h-1zM429 202h1v1h-1zM443 202h2v1h-2zM455 202h1v1h-1zM457 202h1v1h-1zM462 202h1v1h-1zM431 203h1v1h-1zM439 203h1v1h-1zM441 203h2v1h-2zM444 203h1v1h-1zM450 203h1v1h-1zM459 203h1v1h-1zM465 203h2v1h-2zM472 203h1v1h-1zM479 203h1v1h-1zM418 204h1v1h-1zM424 204h1v1h-1zM427 204h1v1h-1zM434 204h1v1h-1zM440 204h1v1h-1zM455 204h2v1h-2zM459 204h1v1h-1zM462 204h1v1h-1zM475 204h1v1h-1zM402 205h1v1h-1zM453 205h1v1h-1zM456 205h1v1h-1zM406 206h1v1h-1zM449 206h2v1h-2zM452 206h1v1h-1zM464 206h1v1h-1zM472 206h1v1h-1zM474 206h1v1h-1zM453 207h1v1h-1zM455 207h1v1h-1zM457 207h1v1h-1zM460 207h1v1h-1zM463 207h1v1h-1zM465 207h1v1h-1zM468 207h1v1h-1zM477 207h1v1h-1zM455 208h1v1h-1zM461 208h1v1h-1zM465 208h2v1h-2zM468 208h1v1h-1zM471 208h1v1h-1zM476 208h1v1h-1zM482 208h1v1h-1zM466 209h1v1h-1zM470 209h1v1h-1zM472 209h1v1h-1zM475 209h1v1h-1zM483 209h1v1h-1zM458 210h1v1h-1zM472 210h1v1h-1zM478 210h1v1h-1zM476 211h1v1h-1zM480 212h1v1h-1z"/><path fill="#646464" d="M402 106h1v1h-1zM415 106h1v1h-1zM433 106h1v1h-1zM437 106h1v1h-1zM442 106h1v1h-1zM450 106h1v1h-1zM452 106h1v1h-1zM458 106h1v1h-1zM463 106h1v1h-1zM474 106h2v1h-2zM477 106h1v1h-1zM394 107h1v1h-1zM413 107h1v1h-1zM422 107h1v1h-1zM426 107h1v1h-1zM430 107h2v1h-2zM446 107h1v1h-1zM450 107h1v1h-1zM453 107h2v1h-2zM457 107h2v1h-2zM467 107h1v1h-1zM399 108h1v1h-1zM405 108h1v1h-1zM418 108h1v1h-1zM428 108h1v1h-1zM432 108h1v1h-1zM447 108h1v1h-1zM468 108h1v1h-1zM470 108h1v1h-1zM394 109h1v1h-1zM405 109h1v1h-1zM407 109h1v1h-1zM414 109h1v1h-1zM444 109h1v1h-1zM467 109h1v1h-1zM479 109h1v1h-1zM400 110h1v1h-1zM406 110h1v1h-1zM416 110h1v1h-1zM459 110h1v1h-1zM397 111h1v1h-1zM404 111h1v1h-1zM431 111h1v1h-1zM451 111h1v1h-1zM456 111h1v1h-1zM479 111h1v1h-1zM396 112h1v1h-1zM426 112h1v1h-1zM430 112h1v1h-1zM432 112h1v1h-1zM435 112h1v1h-1zM480 112h1v1h-1zM404 113h2v1h-2zM454 113h1v1h-1zM476 113h1v1h-1zM479 113h1v1h-1zM430 114h1v1h-1zM448 114h1v1h-1zM468 114h1v1h-1zM479 114h1v1h-1zM481 114h1v1h-1zM415 115h1v1h-1zM417 115h1v1h-1zM426 115h1v1h-1zM430 115h1v1h-1zM434 115h1v1h-1zM438 115h1v1h-1zM446 115h1v1h-1zM413 116h1v1h-1zM415 116h1v1h-1zM472 116h1v1h-1zM475 116h1v1h-1zM480 116h2v1h-2zM413 117h1v1h-1zM429 117h1v1h-1zM446 117h1v1h-1zM452 117h1v1h-1zM463 117h1v1h-1zM465 117h1v1h-1zM416 118h1v1h-1zM424 118h1v1h-1zM432 118h1v1h-1zM475 118h1v1h-1zM478 118h1v1h-1zM403 119h1v1h-1zM413 119h1v1h-1zM416 119h1v1h-1zM443 119h1v1h-1zM450 119h1v1h-1zM472 119h1v1h-1zM404 120h1v1h-1zM412 120h2v1h-2zM427 120h1v1h-1zM439 120h1v1h-1zM470 120h1v1h-1zM478 120h1v1h-1zM401 121h2v1h-2zM405 121h1v1h-1zM416 121h1v1h-1zM425 121h2v1h-2zM428 121h1v1h-1zM448 121h1v1h-1zM452 121h1v1h-1zM456 121h1v1h-1zM478 121h2v1h-2zM391 122h1v1h-1zM425 122h1v1h-1zM435 122h1v1h-1zM445 122h1v1h-1zM468 122h1v1h-1zM472 122h2v1h-2zM478 122h1v1h-1zM480 122h1v1h-1zM411 123h1v1h-1zM422 123h1v1h-1zM428 123h1v1h-1zM441 123h1v1h-1zM449 123h4v1h-4zM461 123h1v1h-1zM467 123h1v1h-1zM483 123h1v1h-1zM402 124h1v1h-1zM432 124h1v1h-1zM452 124h1v1h-1zM454 124h1v1h-1zM460 124h1v1h-1zM468 124h1v1h-1zM481 124h1v1h-1zM394 125h1v1h-1zM414 125h1v1h-1zM432 125h1v1h-1zM437 125h1v1h-1zM442 125h1v1h-1zM448 125h1v1h-1zM452 125h2v1h-2zM470 125h2v1h-2zM474 125h2v1h-2zM409 126h1v1h-1zM422 126h1v1h-1zM443 126h1v1h-1zM449 126h2v1h-2zM456 126h1v1h-1zM476 126h1v1h-1zM481 126h2v1h-2zM391 127h1v1h-1zM405 127h1v1h-1zM424 127h1v1h-1zM432 127h1v1h-1zM435 127h1v1h-1zM445 127h1v1h-1zM474 127h1v1h-1zM480 127h1v1h-1zM391 128h1v1h-1zM399 128h1v1h-1zM436 128h1v1h-1zM439 128h1v1h-1zM450 128h2v1h-2zM455 128h1v1h-1zM468 128h2v1h-2zM481 128h1v1h-1zM398 129h1v1h-1zM402 129h1v1h-1zM409 129h1v1h-1zM423 129h1v1h-1zM426 129h1v1h-1zM433 129h1v1h-1zM444 129h1v1h-1zM452 129h1v1h-1zM472 129h1v1h-1zM483 129h1v1h-1zM402 130h1v1h-1zM410 130h1v1h-1zM413 130h1v1h-1zM415 130h1v1h-1zM426 130h2v1h-2zM429 130h1v1h-1zM434 130h1v1h-1zM436 130h1v1h-1zM447 130h1v1h-1zM465 130h1v1h-1zM468 130h1v1h-1zM470 130h1v1h-1zM402 131h1v1h-1zM404 131h1v1h-1zM406 131h1v1h-1zM417 131h1v1h-1zM429 131h1v1h-1zM441 131h1v1h-1zM446 131h1v1h-1zM457 131h1v1h-1zM473 131h1v1h-1zM476 131h2v1h-2zM448 132h1v1h-1zM451 132h1v1h-1zM464 132h1v1h-1zM468 132h1v1h-1zM408 133h1v1h-1zM416 133h1v1h-1zM419 133h1v1h-1zM422 133h1v1h-1zM433 133h1v1h-1zM452 133h1v1h-1zM467 133h1v1h-1zM469 133h1v1h-1zM471 133h1v1h-1zM404 134h1v1h-1zM412 134h1v1h-1zM430 134h1v1h-1zM450 134h1v1h-1zM458 134h1v1h-1zM467 134h1v1h-1zM400 135h1v1h-1zM407 135h1v1h-1zM425 135h1v1h-1zM427 135h1v1h-1zM454 135h1v1h-1zM462 135h1v1h-1zM464 135h1v1h-1zM394 136h1v1h-1zM396 136h2v1h-2zM414 136h1v1h-1zM446 136h1v1h-1zM465 136h1v1h-1zM478 136h1v1h-1zM397 137h1v1h-1zM406 137h1v1h-1zM413 137h1v1h-1zM420 137h1v1h-1zM437 137h2v1h-2zM450 137h1v1h-1zM455 137h1v1h-1zM470 137h1v1h-1zM475 137h1v1h-1zM480 137h1v1h-1zM482 137h1v1h-1zM397 138h1v1h-1zM402 138h1v1h-1zM434 138h1v1h-1zM445 138h1v1h-1zM447 138h1v1h-1zM456 138h1v1h-1zM467 138h1v1h-1zM476 138h1v1h-1zM479 138h1v1h-1zM482 138h1v1h-1zM411 139h1v1h-1zM416 139h1v1h-1zM418 139h1v1h-1zM436 139h1v1h-1zM441 139h1v1h-1zM448 139h1v1h-1zM456 139h1v1h-1zM464 139h1v1h-1zM466 139h1v1h-1zM474 139h1v1h-1zM478 139h1v1h-1zM398 140h1v1h-1zM403 140h1v1h-1zM417 140h1v1h-1zM431 140h1v1h-1zM437 140h2v1h-2zM452 140h1v1h-1zM455 140h1v1h-1zM464 140h1v1h-1zM474 140h1v1h-1zM410 141h1v1h-1zM413 141h1v1h-1zM417 141h1v1h-1zM421 141h1v1h-1zM425 141h2v1h-2zM428 141h1v1h-1zM443 141h1v1h-1zM459 141h1v1h-1zM462 141h1v1h-1zM476 141h1v1h-1zM401 142h2v1h-2zM404 142h1v1h-1zM414 142h1v1h-1zM416 142h1v1h-1zM427 142h1v1h-1zM434 142h1v1h-1zM448 142h1v1h-1zM451 142h1v1h-1zM468 142h1v1h-1zM474 142h1v1h-1zM477 142h1v1h-1zM393 143h1v1h-1zM404 143h1v1h-1zM419 143h1v1h-1zM423 143h1v1h-1zM428 143h1v1h-1zM434 143h1v1h-1zM456 143h2v1h-2zM463 143h1v1h-1zM470 143h1v1h-1zM476 143h1v1h-1zM394 144h1v1h-1zM401 144h1v1h-1zM407 144h1v1h-1zM410 144h1v1h-1zM416 144h1v1h-1zM425 144h1v1h-1zM448 144h1v1h-1zM454 144h2v1h-2zM461 144h1v1h-1zM479 144h1v1h-1zM397 145h2v1h-2zM415 145h2v1h-2zM419 145h1v1h-1zM422 145h1v1h-1zM431 145h1v1h-1zM441 145h1v1h-1zM451 145h1v1h-1zM455 145h1v1h-1zM459 145h1v1h-1zM472 145h1v1h-1zM478 145h2v1h-2zM391 146h1v1h-1zM394 146h1v1h-1zM404 146h1v1h-1zM406 146h1v1h-1zM418 146h1v1h-1zM422 146h2v1h-2zM426 146h2v1h-2zM431 146h1v1h-1zM433 146h1v1h-1zM435 146h1v1h-1zM437 146h1v1h-1zM464 146h1v1h-1zM469 146h1v1h-1zM474 146h1v1h-1zM392 147h1v1h-1zM402 147h1v1h-1zM408 147h1v1h-1zM411 147h1v1h-1zM420 147h1v1h-1zM434 147h1v1h-1zM448 147h1v1h-1zM468 147h1v1h-1zM470 147h1v1h-1zM394 148h1v1h-1zM399 148h1v1h-1zM413 148h1v1h-1zM421 148h1v1h-1zM424 148h2v1h-2zM428 148h1v1h-1zM430 148h1v1h-1zM437 148h1v1h-1zM444 148h1v1h-1zM456 148h1v1h-1zM474 148h1v1h-1zM476 148h1v1h-1zM392 149h1v1h-1zM396 149h1v1h-1zM398 149h1v1h-1zM401 149h1v1h-1zM405 149h1v1h-1zM419 149h1v1h-1zM427 149h1v1h-1zM433 149h1v1h-1zM445 149h1v1h-1zM460 149h1v1h-1zM462 149h1v1h-1zM467 149h1v1h-1zM475 149h1v1h-1zM398 150h1v1h-1zM406 150h1v1h-1zM419 150h1v1h-1zM421 150h1v1h-1zM428 150h1v1h-1zM436 150h1v1h-1zM447 150h1v1h-1zM450 150h1v1h-1zM455 150h1v1h-1zM470 150h1v1h-1zM476 150h1v1h-1zM478 150h2v1h-2zM481 150h1v1h-1zM483 150h1v1h-1zM409 151h1v1h-1zM421 151h1v1h-1zM425 151h1v1h-1zM437 151h1v1h-1zM440 151h1v1h-1zM457 151h1v1h-1zM464 151h1v1h-1zM474 151h1v1h-1zM482 151h1v1h-1zM395 152h1v1h-1zM397 152h1v1h-1zM404 152h1v1h-1zM406 152h3v1h-3zM447 152h1v1h-1zM450 152h1v1h-1zM460 152h1v1h-1zM462 152h1v1h-1zM468 152h1v1h-1zM482 152h1v1h-1zM407 153h1v1h-1zM412 153h1v1h-1zM437 153h1v1h-1zM441 153h1v1h-1zM450 153h2v1h-2zM460 153h2v1h-2zM466 153h1v1h-1zM472 153h1v1h-1zM476 153h1v1h-1zM483 153h1v1h-1zM395 154h1v1h-1zM397 154h1v1h-1zM426 154h1v1h-1zM449 154h1v1h-1zM460 154h1v1h-1zM462 154h1v1h-1zM466 154h1v1h-1zM471 154h2v1h-2zM411 155h4v1h-4zM456 155h2v1h-2zM462 155h1v1h-1zM464 155h1v1h-1zM467 155h1v1h-1zM476 155h2v1h-2zM409 156h1v1h-1zM413 156h1v1h-1zM416 156h1v1h-1zM428 156h1v1h-1zM432 156h1v1h-1zM441 156h1v1h-1zM445 156h1v1h-1zM449 156h1v1h-1zM473 156h1v1h-1zM475 156h1v1h-1zM399 157h2v1h-2zM409 157h1v1h-1zM412 157h1v1h-1zM435 157h1v1h-1zM437 157h1v1h-1zM448 157h2v1h-2zM455 157h1v1h-1zM457 157h2v1h-2zM465 157h2v1h-2zM468 157h2v1h-2zM475 157h1v1h-1zM483 157h1v1h-1zM410 158h1v1h-1zM412 158h1v1h-1zM417 158h1v1h-1zM427 158h1v1h-1zM430 158h1v1h-1zM442 158h2v1h-2zM447 158h2v1h-2zM450 158h1v1h-1zM454 158h1v1h-1zM464 158h1v1h-1zM466 158h1v1h-1zM481 158h1v1h-1zM393 159h1v1h-1zM400 159h2v1h-2zM429 159h1v1h-1zM433 159h1v1h-1zM435 159h1v1h-1zM455 159h1v1h-1zM475 159h1v1h-1zM391 160h1v1h-1zM399 160h2v1h-2zM411 160h1v1h-1zM420 160h1v1h-1zM455 160h1v1h-1zM457 160h1v1h-1zM476 160h1v1h-1zM399 161h1v1h-1zM403 161h1v1h-1zM409 161h1v1h-1zM417 161h1v1h-1zM437 161h1v1h-1zM439 161h1v1h-1zM450 161h1v1h-1zM458 161h1v1h-1zM479 161h1v1h-1zM482 161h1v1h-1zM396 162h1v1h-1zM399 162h2v1h-2zM412 162h1v1h-1zM417 162h1v1h-1zM427 162h2v1h-2zM431 162h1v1h-1zM453 162h1v1h-1zM457 162h1v1h-1zM461 162h1v1h-1zM464 162h1v1h-1zM469 162h1v1h-1zM471 162h1v1h-1zM391 163h1v1h-1zM400 163h1v1h-1zM403 163h1v1h-1zM417 163h1v1h-1zM425 163h1v1h-1zM427 163h1v1h-1zM443 163h1v1h-1zM447 163h2v1h-2zM460 163h1v1h-1zM464 163h1v1h-1zM469 163h1v1h-1zM472 163h1v1h-1zM482 163h1v1h-1zM395 164h1v1h-1zM400 164h1v1h-1zM405 164h1v1h-1zM411 164h1v1h-1zM418 164h1v1h-1zM429 164h1v1h-1zM435 164h1v1h-1zM438 164h1v1h-1zM444 164h1v1h-1zM457 164h1v1h-1zM469 164h1v1h-1zM474 164h1v1h-1zM476 164h2v1h-2zM398 165h1v1h-1zM400 165h2v1h-2zM412 165h1v1h-1zM420 165h1v1h-1zM422 165h1v1h-1zM427 165h1v1h-1zM429 165h2v1h-2zM432 165h2v1h-2zM454 165h1v1h-1zM464 165h2v1h-2zM468 165h1v1h-1zM471 165h1v1h-1zM473 165h1v1h-1zM481 165h1v1h-1zM392 166h2v1h-2zM428 166h1v1h-1zM431 166h1v1h-1zM436 166h1v1h-1zM448 166h1v1h-1zM459 166h1v1h-1zM481 166h1v1h-1zM392 167h2v1h-2zM402 167h1v1h-1zM410 167h1v1h-1zM419 167h2v1h-2zM435 167h2v1h-2zM442 167h1v1h-1zM447 167h1v1h-1zM473 167h1v1h-1zM477 167h1v1h-1zM429 168h1v1h-1zM432 168h1v1h-1zM446 168h3v1h-3zM452 168h1v1h-1zM456 168h1v1h-1zM392 169h1v1h-1zM403 169h1v1h-1zM420 169h1v1h-1zM457 169h1v1h-1zM475 169h1v1h-1zM397 170h1v1h-1zM402 170h1v1h-1zM409 170h1v1h-1zM411 170h1v1h-1zM415 170h1v1h-1zM446 170h2v1h-2zM457 170h1v1h-1zM467 170h1v1h-1zM479 170h1v1h-1zM483 170h1v1h-1zM404 171h1v1h-1zM409 171h1v1h-1zM411 171h1v1h-1zM414 171h1v1h-1zM427 171h2v1h-2zM431 171h1v1h-1zM434 171h1v1h-1zM436 171h2v1h-2zM447 171h1v1h-1zM458 171h1v1h-1zM460 171h1v1h-1zM467 171h1v1h-1zM474 171h1v1h-1zM478 171h1v1h-1zM482 171h1v1h-1zM392 172h1v1h-1zM396 172h1v1h-1zM410 172h2v1h-2zM424 172h1v1h-1zM427 172h1v1h-1zM437 172h1v1h-1zM440 172h1v1h-1zM444 172h1v1h-1zM451 172h1v1h-1zM470 172h1v1h-1zM475 172h1v1h-1zM396 173h2v1h-2zM399 173h1v1h-1zM401 173h1v1h-1zM405 173h1v1h-1zM410 173h1v1h-1zM414 173h1v1h-1zM425 173h1v1h-1zM450 173h1v1h-1zM455 173h2v1h-2zM461 173h1v1h-1zM398 174h1v1h-1zM412 174h1v1h-1zM420 174h2v1h-2zM427 174h1v1h-1zM436 174h1v1h-1zM442 174h3v1h-3zM448 174h1v1h-1zM464 174h1v1h-1zM466 174h1v1h-1zM473 174h1v1h-1zM476 174h1v1h-1zM478 174h1v1h-1zM480 174h3v1h-3zM392 175h1v1h-1zM399 175h1v1h-1zM401 175h1v1h-1zM403 175h1v1h-1zM405 175h1v1h-1zM408 175h1v1h-1zM417 175h1v1h-1zM420 175h1v1h-1zM422 175h1v1h-1zM431 175h2v1h-2zM440 175h1v1h-1zM444 175h1v1h-1zM451 175h1v1h-1zM455 175h1v1h-1zM462 175h1v1h-1zM466 175h1v1h-1zM469 175h2v1h-2zM476 175h1v1h-1zM392 176h1v1h-1zM402 176h1v1h-1zM409 176h1v1h-1zM411 176h1v1h-1zM422 176h1v1h-1zM440 176h1v1h-1zM446 176h2v1h-2zM458 176h1v1h-1zM464 176h1v1h-1zM399 177h2v1h-2zM409 177h3v1h-3zM420 177h1v1h-1zM433 177h1v1h-1zM439 177h1v1h-1zM445 177h1v1h-1zM448 177h2v1h-2zM465 177h1v1h-1zM477 177h1v1h-1zM483 177h1v1h-1zM393 178h1v1h-1zM411 178h1v1h-1zM414 178h1v1h-1zM418 178h1v1h-1zM458 178h1v1h-1zM466 178h1v1h-1zM400 179h2v1h-2zM413 179h1v1h-1zM427 179h1v1h-1zM429 179h1v1h-1zM441 179h1v1h-1zM454 179h1v1h-1zM458 179h1v1h-1zM464 179h1v1h-1zM466 179h1v1h-1zM469 179h2v1h-2zM478 179h1v1h-1zM391 180h1v1h-1zM396 180h1v1h-1zM407 180h1v1h-1zM417 180h2v1h-2zM436 180h1v1h-1zM440 180h1v1h-1zM447 180h2v1h-2zM457 180h1v1h-1zM460 180h1v1h-1zM469 180h2v1h-2zM473 180h1v1h-1zM477 180h1v1h-1zM480 180h1v1h-1zM482 180h1v1h-1zM396 181h1v1h-1zM424 181h1v1h-1zM428 181h1v1h-1zM431 181h1v1h-1zM434 181h1v1h-1zM441 181h1v1h-1zM444 181h1v1h-1zM448 181h1v1h-1zM450 181h1v1h-1zM465 181h1v1h-1zM472 181h1v1h-1zM479 181h1v1h-1zM394 182h1v1h-1zM400 182h2v1h-2zM414 182h1v1h-1zM416 182h1v1h-1zM438 182h1v1h-1zM440 182h1v1h-1zM457 182h1v1h-1zM463 182h1v1h-1zM465 182h1v1h-1zM392 183h1v1h-1zM399 183h1v1h-1zM403 183h1v1h-1zM405 183h1v1h-1zM407 183h1v1h-1zM409 183h1v1h-1zM417 183h1v1h-1zM421 183h1v1h-1zM424 183h1v1h-1zM430 183h1v1h-1zM435 183h1v1h-1zM441 183h1v1h-1zM463 183h1v1h-1zM481 183h1v1h-1zM396 184h1v1h-1zM403 184h2v1h-2zM412 184h1v1h-1zM417 184h1v1h-1zM419 184h1v1h-1zM432 184h1v1h-1zM448 184h2v1h-2zM452 184h1v1h-1zM457 184h1v1h-1zM479 184h1v1h-1zM393 185h1v1h-1zM401 185h1v1h-1zM409 185h1v1h-1zM415 185h1v1h-1zM417 185h1v1h-1zM421 185h1v1h-1zM428 185h1v1h-1zM456 185h1v1h-1zM468 185h1v1h-1zM470 185h1v1h-1zM476 185h1v1h-1zM393 186h1v1h-1zM419 186h1v1h-1zM424 186h1v1h-1zM446 186h1v1h-1zM456 186h1v1h-1zM465 186h1v1h-1zM469 186h1v1h-1zM474 186h2v1h-2zM392 187h1v1h-1zM400 187h1v1h-1zM403 187h1v1h-1zM420 187h2v1h-2zM437 187h2v1h-2zM445 187h2v1h-2zM450 187h1v1h-1zM455 187h1v1h-1zM458 187h1v1h-1zM465 187h1v1h-1zM473 187h1v1h-1zM482 187h1v1h-1zM393 188h1v1h-1zM399 188h1v1h-1zM403 188h1v1h-1zM411 188h1v1h-1zM438 188h1v1h-1zM454 188h1v1h-1zM476 188h2v1h-2zM392 189h1v1h-1zM418 189h1v1h-1zM427 189h1v1h-1zM435 189h3v1h-3zM439 189h1v1h-1zM444 189h1v1h-1zM464 189h1v1h-1zM467 189h1v1h-1zM475 189h2v1h-2zM395 190h1v1h-1zM403 190h1v1h-1zM416 190h2v1h-2zM422 190h1v1h-1zM426 190h3v1h-3zM433 190h1v1h-1zM435 190h1v1h-1zM443 190h1v1h-1zM446 190h1v1h-1zM454 190h2v1h-2zM464 190h1v1h-1zM467 190h2v1h-2zM472 190h1v1h-1zM474 190h2v1h-2zM477 190h1v1h-1zM482 190h1v1h-1zM394 191h1v1h-1zM397 191h1v1h-1zM399 191h1v1h-1zM418 191h1v1h-1zM422 191h2v1h-2zM426 191h1v1h-1zM431 191h1v1h-1zM435 191h1v1h-1zM441 191h1v1h-1zM449 191h1v1h-1zM452 191h1v1h-1zM463 191h1v1h-1zM465 191h1v1h-1zM469 191h1v1h-1zM474 191h2v1h-2zM483 191h1v1h-1zM407 192h1v1h-1zM412 192h1v1h-1zM415 192h1v1h-1zM420 192h2v1h-2zM425 192h1v1h-1zM428 192h1v1h-1zM433 192h1v1h-1zM439 192h1v1h-1zM443 192h1v1h-1zM452 192h1v1h-1zM454 192h1v1h-1zM478 192h1v1h-1zM397 193h1v1h-1zM404 193h1v1h-1zM409 193h1v1h-1zM412 193h1v1h-1zM416 193h1v1h-1zM427 193h1v1h-1zM429 193h1v1h-1zM433 193h1v1h-1zM436 193h1v1h-1zM450 193h1v1h-1zM453 193h1v1h-1zM468 193h1v1h-1zM478 193h1v1h-1zM480 193h1v1h-1zM482 193h2v1h-2zM392 194h1v1h-1zM402 194h1v1h-1zM419 194h1v1h-1zM425 194h1v1h-1zM436 194h1v1h-1zM455 194h1v1h-1zM458 194h1v1h-1zM460 194h1v1h-1zM466 194h1v1h-1zM468 194h1v1h-1zM399 195h1v1h-1zM410 195h1v1h-1zM422 195h1v1h-1zM436 195h2v1h-2zM447 195h1v1h-1zM449 195h1v1h-1zM453 195h1v1h-1zM457 195h1v1h-1zM459 195h1v1h-1zM474 195h1v1h-1zM477 195h1v1h-1zM480 195h1v1h-1zM411 196h2v1h-2zM424 196h1v1h-1zM428 196h1v1h-1zM436 196h1v1h-1zM454 196h1v1h-1zM456 196h1v1h-1zM459 196h1v1h-1zM463 196h1v1h-1zM409 197h1v1h-1zM424 197h1v1h-1zM429 197h1v1h-1zM437 197h1v1h-1zM448 197h1v1h-1zM457 197h1v1h-1zM468 197h1v1h-1zM392 198h1v1h-1zM400 198h1v1h-1zM403 198h1v1h-1zM409 198h1v1h-1zM439 198h1v1h-1zM451 198h1v1h-1zM453 198h1v1h-1zM455 198h1v1h-1zM468 198h1v1h-1zM473 198h1v1h-1zM395 199h1v1h-1zM400 199h1v1h-1zM404 199h1v1h-1zM408 199h1v1h-1zM410 199h1v1h-1zM414 199h2v1h-2zM425 199h1v1h-1zM434 199h4v1h-4zM441 199h1v1h-1zM444 199h1v1h-1zM446 199h1v1h-1zM449 199h1v1h-1zM458 199h1v1h-1zM460 199h1v1h-1zM463 199h1v1h-1zM476 199h3v1h-3zM480 199h1v1h-1zM398 200h1v1h-1zM406 200h1v1h-1zM413 200h1v1h-1zM418 200h1v1h-1zM432 200h1v1h-1zM439 200h1v1h-1zM449 200h1v1h-1zM451 200h2v1h-2zM462 200h1v1h-1zM471 200h1v1h-1zM473 200h1v1h-1zM477 200h1v1h-1zM412 201h1v1h-1zM418 201h1v1h-1zM420 201h2v1h-2zM430 201h1v1h-1zM436 201h1v1h-1zM442 201h1v1h-1zM447 201h1v1h-1zM451 201h2v1h-2zM458 201h1v1h-1zM477 201h1v1h-1zM479 201h1v1h-1zM416 202h1v1h-1zM435 202h2v1h-2zM438 202h1v1h-1zM446 202h1v1h-1zM463 202h1v1h-1zM469 202h3v1h-3zM476 202h2v1h-2zM422 203h1v1h-1zM435 203h1v1h-1zM445 203h1v1h-1zM473 203h1v1h-1zM475 203h1v1h-1zM480 203h1v1h-1zM428 204h2v1h-2zM432 204h2v1h-2zM441 204h1v1h-1zM444 204h1v1h-1zM452 204h1v1h-1zM457 204h2v1h-2zM464 204h2v1h-2zM467 204h1v1h-1zM481 204h1v1h-1zM483 204h1v1h-1zM443 205h1v1h-1zM449 205h1v1h-1zM466 205h2v1h-2zM483 205h1v1h-1zM447 206h1v1h-1zM451 206h1v1h-1zM466 206h1v1h-1zM458 208h2v1h-2zM469 208h2v1h-2zM472 208h1v1h-1zM475 208h1v1h-1zM467 209h1v1h-1zM471 209h1v1h-1zM473 209h1v1h-1zM476 209h2v1h-2zM482 211h1v1h-1z"/><path fill="#878787" d="M483 120h1v1h-1zM464 123h1v1h-1zM478 123h1v1h-1zM472 125h1v1h-1zM471 126h1v1h-1zM434 127h1v1h-1zM443 127h1v1h-1zM479 128h1v1h-1zM399 129h1v1h-1zM446 129h1v1h-1zM448 129h1v1h-1zM412 130h1v1h-1zM475 130h1v1h-1zM482 130h1v1h-1zM428 131h1v1h-1zM449 131h1v1h-1zM465 133h1v1h-1zM407 134h1v1h-1zM434 134h1v1h-1zM442 134h1v1h-1zM444 134h1v1h-1zM456 134h1v1h-1zM476 134h1v1h-1zM479 134h1v1h-1zM439 135h2v1h-2zM442 135h1v1h-1zM466 135h1v1h-1zM431 136h2v1h-2zM434 136h1v1h-1zM436 136h1v1h-1zM445 136h1v1h-1zM453 136h1v1h-1zM481 136h1v1h-1zM394 137h1v1h-1zM404 137h1v1h-1zM416 137h1v1h-1zM431 137h1v1h-1zM453 137h1v1h-1zM465 137h1v1h-1zM408 138h1v1h-1zM429 138h1v1h-1zM399 139h2v1h-2zM439 139h1v1h-1zM465 139h1v1h-1zM468 139h1v1h-1zM400 140h1v1h-1zM435 140h1v1h-1zM447 140h1v1h-1zM475 140h1v1h-1zM411 141h1v1h-1zM430 141h1v1h-1zM451 141h1v1h-1zM467 141h1v1h-1zM473 141h1v1h-1zM418 142h2v1h-2zM431 142h1v1h-1zM456 142h1v1h-1zM466 142h2v1h-2zM470 142h1v1h-1zM397 143h1v1h-1zM411 143h1v1h-1zM439 143h1v1h-1zM442 143h1v1h-1zM448 143h1v1h-1zM453 143h1v1h-1zM455 143h1v1h-1zM459 143h1v1h-1zM475 143h1v1h-1zM478 143h2v1h-2zM397 144h1v1h-1zM412 144h1v1h-1zM428 144h1v1h-1zM432 144h1v1h-1zM438 144h1v1h-1zM442 144h1v1h-1zM444 144h1v1h-1zM464 144h1v1h-1zM466 144h1v1h-1zM476 144h1v1h-1zM478 144h1v1h-1zM392 145h1v1h-1zM395 145h1v1h-1zM405 145h2v1h-2zM408 145h1v1h-1zM410 145h1v1h-1zM421 145h1v1h-1zM426 145h2v1h-2zM446 145h1v1h-1zM464 145h1v1h-1zM466 145h1v1h-1zM475 145h1v1h-1zM392 146h1v1h-1zM413 146h1v1h-1zM417 146h1v1h-1zM420 146h1v1h-1zM429 146h2v1h-2zM432 146h1v1h-1zM443 146h1v1h-1zM447 146h1v1h-1zM451 146h1v1h-1zM453 146h2v1h-2zM475 146h1v1h-1zM483 146h1v1h-1zM397 147h1v1h-1zM417 147h1v1h-1zM421 147h1v1h-1zM424 147h1v1h-1zM441 147h1v1h-1zM452 147h1v1h-1zM463 147h1v1h-1zM403 148h1v1h-1zM411 148h1v1h-1zM455 148h1v1h-1zM466 148h2v1h-2zM400 149h1v1h-1zM421 149h1v1h-1zM437 149h2v1h-2zM447 149h1v1h-1zM455 149h2v1h-2zM458 149h1v1h-1zM465 149h2v1h-2zM393 150h1v1h-1zM399 150h1v1h-1zM403 150h1v1h-1zM420 150h1v1h-1zM430 150h1v1h-1zM439 150h1v1h-1zM477 150h1v1h-1zM393 151h1v1h-1zM410 151h1v1h-1zM430 151h2v1h-2zM447 151h1v1h-1zM449 151h1v1h-1zM458 151h2v1h-2zM475 151h1v1h-1zM392 152h2v1h-2zM398 152h1v1h-1zM411 152h1v1h-1zM414 152h1v1h-1zM418 152h1v1h-1zM422 152h1v1h-1zM438 152h1v1h-1zM440 152h1v1h-1zM445 152h1v1h-1zM454 152h2v1h-2zM457 152h1v1h-1zM480 152h1v1h-1zM392 153h1v1h-1zM396 153h1v1h-1zM398 153h1v1h-1zM400 153h1v1h-1zM408 153h1v1h-1zM420 153h1v1h-1zM424 153h1v1h-1zM436 153h1v1h-1zM463 153h2v1h-2zM391 154h1v1h-1zM393 154h1v1h-1zM398 154h1v1h-1zM409 154h1v1h-1zM415 154h1v1h-1zM417 154h2v1h-2zM420 154h1v1h-1zM443 154h1v1h-1zM447 154h2v1h-2zM450 154h2v1h-2zM458 154h2v1h-2zM394 155h1v1h-1zM401 155h1v1h-1zM403 155h1v1h-1zM409 155h1v1h-1zM415 155h1v1h-1zM419 155h1v1h-1zM425 155h1v1h-1zM430 155h3v1h-3zM449 155h1v1h-1zM466 155h1v1h-1zM482 155h1v1h-1zM395 156h1v1h-1zM407 156h1v1h-1zM411 156h1v1h-1zM426 156h1v1h-1zM430 156h1v1h-1zM460 156h1v1h-1zM462 156h1v1h-1zM470 156h1v1h-1zM472 156h1v1h-1zM410 157h2v1h-2zM419 157h1v1h-1zM438 157h2v1h-2zM402 158h1v1h-1zM418 158h1v1h-1zM428 158h1v1h-1zM439 158h1v1h-1zM457 158h1v1h-1zM465 158h1v1h-1zM467 158h2v1h-2zM483 158h1v1h-1zM410 159h1v1h-1zM419 159h1v1h-1zM437 159h1v1h-1zM467 159h1v1h-1zM409 160h1v1h-1zM428 160h1v1h-1zM440 160h1v1h-1zM446 160h1v1h-1zM467 160h2v1h-2zM483 160h1v1h-1zM421 161h1v1h-1zM436 161h1v1h-1zM440 161h1v1h-1zM465 161h1v1h-1zM468 161h1v1h-1zM475 161h1v1h-1zM392 162h2v1h-2zM401 162h1v1h-1zM403 162h1v1h-1zM407 162h1v1h-1zM418 162h1v1h-1zM424 162h1v1h-1zM447 162h1v1h-1zM449 162h1v1h-1zM451 162h1v1h-1zM459 162h1v1h-1zM465 162h1v1h-1zM483 162h1v1h-1zM396 163h1v1h-1zM398 163h1v1h-1zM406 163h1v1h-1zM409 163h1v1h-1zM413 163h1v1h-1zM416 163h1v1h-1zM431 163h1v1h-1zM437 163h1v1h-1zM441 163h2v1h-2zM444 163h1v1h-1zM455 163h1v1h-1zM466 163h1v1h-1zM468 163h1v1h-1zM470 163h2v1h-2zM476 163h1v1h-1zM478 163h1v1h-1zM397 164h1v1h-1zM404 164h1v1h-1zM410 164h1v1h-1zM419 164h1v1h-1zM423 164h2v1h-2zM432 164h1v1h-1zM436 164h1v1h-1zM440 164h2v1h-2zM445 164h1v1h-1zM448 164h2v1h-2zM451 164h1v1h-1zM464 164h1v1h-1zM472 164h1v1h-1zM479 164h1v1h-1zM481 164h1v1h-1zM395 165h2v1h-2zM404 165h1v1h-1zM406 165h4v1h-4zM419 165h1v1h-1zM431 165h1v1h-1zM439 165h1v1h-1zM441 165h1v1h-1zM449 165h1v1h-1zM457 165h1v1h-1zM475 165h1v1h-1zM478 165h1v1h-1zM483 165h1v1h-1zM399 166h1v1h-1zM402 166h1v1h-1zM410 166h2v1h-2zM418 166h1v1h-1zM465 166h1v1h-1zM467 166h2v1h-2zM474 166h1v1h-1zM399 167h1v1h-1zM428 167h1v1h-1zM430 167h2v1h-2zM446 167h1v1h-1zM449 167h1v1h-1zM455 167h1v1h-1zM465 167h1v1h-1zM474 167h1v1h-1zM476 167h1v1h-1zM391 168h1v1h-1zM399 168h1v1h-1zM403 168h1v1h-1zM409 168h1v1h-1zM412 168h1v1h-1zM418 168h1v1h-1zM427 168h2v1h-2zM483 168h1v1h-1zM391 169h1v1h-1zM410 169h1v1h-1zM412 169h1v1h-1zM430 169h1v1h-1zM456 169h1v1h-1zM467 169h1v1h-1zM483 169h1v1h-1zM391 170h3v1h-3zM400 170h1v1h-1zM429 170h2v1h-2zM438 170h1v1h-1zM448 170h1v1h-1zM458 170h2v1h-2zM466 170h1v1h-1zM391 171h2v1h-2zM397 171h1v1h-1zM401 171h1v1h-1zM416 171h1v1h-1zM443 171h1v1h-1zM446 171h1v1h-1zM449 171h1v1h-1zM452 171h1v1h-1zM461 171h1v1h-1zM477 171h1v1h-1zM394 172h1v1h-1zM404 172h1v1h-1zM412 172h1v1h-1zM418 172h1v1h-1zM423 172h1v1h-1zM432 172h1v1h-1zM434 172h1v1h-1zM447 172h1v1h-1zM450 172h1v1h-1zM457 172h1v1h-1zM476 172h2v1h-2zM393 173h1v1h-1zM407 173h3v1h-3zM415 173h1v1h-1zM419 173h1v1h-1zM423 173h1v1h-1zM426 173h2v1h-2zM435 173h1v1h-1zM440 173h1v1h-1zM447 173h1v1h-1zM452 173h1v1h-1zM457 173h1v1h-1zM463 173h1v1h-1zM468 173h1v1h-1zM471 173h3v1h-3zM477 173h1v1h-1zM403 174h1v1h-1zM406 174h1v1h-1zM423 174h1v1h-1zM430 174h1v1h-1zM432 174h1v1h-1zM435 174h1v1h-1zM439 174h1v1h-1zM441 174h1v1h-1zM453 174h1v1h-1zM457 174h1v1h-1zM460 174h1v1h-1zM467 174h1v1h-1zM471 174h1v1h-1zM393 175h1v1h-1zM397 175h2v1h-2zM410 175h1v1h-1zM412 175h1v1h-1zM415 175h1v1h-1zM425 175h2v1h-2zM429 175h1v1h-1zM435 175h1v1h-1zM443 175h1v1h-1zM461 175h1v1h-1zM473 175h1v1h-1zM478 175h1v1h-1zM483 175h1v1h-1zM421 176h1v1h-1zM428 176h1v1h-1zM436 176h1v1h-1zM456 176h1v1h-1zM468 176h1v1h-1zM475 176h1v1h-1zM483 176h1v1h-1zM401 177h2v1h-2zM418 177h2v1h-2zM429 177h1v1h-1zM436 177h1v1h-1zM438 177h1v1h-1zM456 177h1v1h-1zM468 177h1v1h-1zM391 178h2v1h-2zM400 178h1v1h-1zM403 178h1v1h-1zM428 178h1v1h-1zM440 178h1v1h-1zM449 178h1v1h-1zM468 178h1v1h-1zM477 178h1v1h-1zM421 179h1v1h-1zM436 179h1v1h-1zM438 179h1v1h-1zM456 179h1v1h-1zM459 179h1v1h-1zM395 180h1v1h-1zM397 180h1v1h-1zM409 180h2v1h-2zM412 180h1v1h-1zM414 180h1v1h-1zM425 180h2v1h-2zM429 180h2v1h-2zM432 180h1v1h-1zM438 180h1v1h-1zM452 180h2v1h-2zM458 180h1v1h-1zM462 180h1v1h-1zM464 180h2v1h-2zM467 180h1v1h-1zM471 180h1v1h-1zM476 180h1v1h-1zM398 181h1v1h-1zM400 181h4v1h-4zM407 181h1v1h-1zM418 181h1v1h-1zM420 181h2v1h-2zM423 181h1v1h-1zM425 181h1v1h-1zM430 181h1v1h-1zM433 181h1v1h-1zM437 181h1v1h-1zM443 181h1v1h-1zM447 181h1v1h-1zM449 181h1v1h-1zM453 181h1v1h-1zM459 181h1v1h-1zM476 181h1v1h-1zM478 181h1v1h-1zM480 181h4v1h-4zM396 182h1v1h-1zM398 182h1v1h-1zM404 182h2v1h-2zM410 182h3v1h-3zM417 182h1v1h-1zM421 182h1v1h-1zM425 182h3v1h-3zM431 182h1v1h-1zM433 182h1v1h-1zM446 182h1v1h-1zM450 182h1v1h-1zM454 182h1v1h-1zM456 182h1v1h-1zM471 182h1v1h-1zM473 182h1v1h-1zM475 182h1v1h-1zM480 182h1v1h-1zM395 183h2v1h-2zM401 183h1v1h-1zM412 183h1v1h-1zM415 183h1v1h-1zM425 183h1v1h-1zM429 183h1v1h-1zM431 183h1v1h-1zM443 183h1v1h-1zM445 183h2v1h-2zM461 183h1v1h-1zM468 183h1v1h-1zM471 183h1v1h-1zM473 183h1v1h-1zM478 183h2v1h-2zM483 183h1v1h-1zM398 184h1v1h-1zM400 184h2v1h-2zM425 184h1v1h-1zM430 184h1v1h-1zM437 184h1v1h-1zM442 184h1v1h-1zM454 184h1v1h-1zM463 184h1v1h-1zM466 184h1v1h-1zM470 184h1v1h-1zM483 184h1v1h-1zM391 185h2v1h-2zM400 185h1v1h-1zM410 185h3v1h-3zM419 185h1v1h-1zM446 185h1v1h-1zM455 185h1v1h-1zM457 185h1v1h-1zM467 185h1v1h-1zM483 185h1v1h-1zM399 186h1v1h-1zM402 186h2v1h-2zM428 186h1v1h-1zM431 186h1v1h-1zM437 186h1v1h-1zM458 186h1v1h-1zM476 186h1v1h-1zM391 187h1v1h-1zM399 187h1v1h-1zM411 187h2v1h-2zM427 187h1v1h-1zM447 187h1v1h-1zM457 187h1v1h-1zM459 187h1v1h-1zM401 188h1v1h-1zM421 188h1v1h-1zM430 188h2v1h-2zM436 188h2v1h-2zM440 188h1v1h-1zM446 188h1v1h-1zM464 188h2v1h-2zM467 188h1v1h-1zM399 189h1v1h-1zM420 189h1v1h-1zM431 189h1v1h-1zM438 189h1v1h-1zM447 189h1v1h-1zM449 189h1v1h-1zM457 189h1v1h-1zM459 189h1v1h-1zM468 189h1v1h-1zM391 190h2v1h-2zM394 190h1v1h-1zM396 190h1v1h-1zM411 190h1v1h-1zM424 190h1v1h-1zM430 190h1v1h-1zM442 190h1v1h-1zM450 190h2v1h-2zM459 190h1v1h-1zM478 190h1v1h-1zM483 190h1v1h-1zM391 191h1v1h-1zM401 191h1v1h-1zM420 191h1v1h-1zM428 191h1v1h-1zM437 191h1v1h-1zM442 191h2v1h-2zM451 191h1v1h-1zM460 191h1v1h-1zM464 191h1v1h-1zM473 191h1v1h-1zM393 192h1v1h-1zM396 192h1v1h-1zM409 192h1v1h-1zM411 192h1v1h-1zM426 192h1v1h-1zM432 192h1v1h-1zM435 192h1v1h-1zM438 192h1v1h-1zM445 192h2v1h-2zM456 192h1v1h-1zM470 192h1v1h-1zM480 192h1v1h-1zM393 193h1v1h-1zM396 193h1v1h-1zM399 193h2v1h-2zM402 193h2v1h-2zM410 193h2v1h-2zM417 193h1v1h-1zM419 193h1v1h-1zM421 193h1v1h-1zM428 193h1v1h-1zM430 193h2v1h-2zM449 193h1v1h-1zM451 193h1v1h-1zM458 193h2v1h-2zM461 193h1v1h-1zM463 193h1v1h-1zM466 193h1v1h-1zM469 193h1v1h-1zM476 193h1v1h-1zM401 194h1v1h-1zM410 194h2v1h-2zM420 194h2v1h-2zM438 194h1v1h-1zM467 194h1v1h-1zM474 194h3v1h-3zM393 195h1v1h-1zM403 195h1v1h-1zM428 195h1v1h-1zM431 195h1v1h-1zM438 195h1v1h-1zM446 195h1v1h-1zM448 195h1v1h-1zM464 195h1v1h-1zM476 195h1v1h-1zM401 196h2v1h-2zM410 196h1v1h-1zM421 196h1v1h-1zM437 196h1v1h-1zM440 196h1v1h-1zM449 196h1v1h-1zM465 196h1v1h-1zM467 196h1v1h-1zM421 197h1v1h-1zM430 197h1v1h-1zM455 197h1v1h-1zM464 197h1v1h-1zM466 197h2v1h-2zM475 197h1v1h-1zM483 197h1v1h-1zM391 198h1v1h-1zM402 198h1v1h-1zM420 198h1v1h-1zM428 198h1v1h-1zM440 198h1v1h-1zM447 198h1v1h-1zM449 198h1v1h-1zM393 199h1v1h-1zM403 199h1v1h-1zM405 199h1v1h-1zM412 199h1v1h-1zM420 199h1v1h-1zM423 199h1v1h-1zM427 199h1v1h-1zM431 199h1v1h-1zM433 199h1v1h-1zM440 199h1v1h-1zM442 199h1v1h-1zM447 199h1v1h-1zM451 199h1v1h-1zM455 199h2v1h-2zM462 199h1v1h-1zM400 200h3v1h-3zM404 200h2v1h-2zM410 200h1v1h-1zM414 200h2v1h-2zM419 200h1v1h-1zM422 200h1v1h-1zM426 200h1v1h-1zM441 200h1v1h-1zM446 200h1v1h-1zM450 200h1v1h-1zM472 200h1v1h-1zM482 200h1v1h-1zM403 201h1v1h-1zM413 201h3v1h-3zM425 201h1v1h-1zM433 201h2v1h-2zM440 201h1v1h-1zM460 201h2v1h-2zM468 201h1v1h-1zM472 201h1v1h-1zM475 201h1v1h-1zM480 201h1v1h-1zM483 201h1v1h-1zM414 202h1v1h-1zM417 202h2v1h-2zM424 202h1v1h-1zM426 202h1v1h-1zM430 202h1v1h-1zM439 202h2v1h-2zM450 202h1v1h-1zM456 202h1v1h-1zM466 202h1v1h-1zM468 202h1v1h-1zM478 202h5v1h-5zM418 203h2v1h-2zM423 203h1v1h-1zM436 203h2v1h-2zM447 203h1v1h-1zM468 203h2v1h-2zM471 203h1v1h-1zM477 203h1v1h-1zM483 203h1v1h-1zM426 204h1v1h-1zM435 204h1v1h-1zM438 204h1v1h-1zM468 204h1v1h-1zM474 204h1v1h-1zM476 204h1v1h-1zM436 205h1v1h-1zM442 205h1v1h-1zM446 205h1v1h-1zM448 205h1v1h-1zM457 205h1v1h-1zM468 205h1v1h-1zM474 205h1v1h-1zM478 205h1v1h-1zM445 206h2v1h-2zM458 206h2v1h-2zM475 206h3v1h-3zM483 206h1v1h-1zM451 207h1v1h-1zM458 207h2v1h-2zM466 207h2v1h-2zM475 207h1v1h-1zM467 208h1v1h-1zM483 208h1v1h-1zM478 209h1v1h-1zM482 209h1v1h-1zM478 211h1v1h-1z"/><path fill="#afafaf" d="M475 152h1v1h-1zM481 156h1v1h-1zM459 159h1v1h-1zM401 160h1v1h-1zM458 160h1v1h-1zM449 161h1v1h-1zM457 161h1v1h-1zM464 161h1v1h-1zM433 162h1v1h-1zM435 162h1v1h-1zM437 162h1v1h-1zM445 162h1v1h-1zM470 162h1v1h-1zM475 162h2v1h-2zM440 163h1v1h-1zM456 163h1v1h-1zM475 163h1v1h-1zM398 164h1v1h-1zM406 164h1v1h-1zM431 164h1v1h-1zM434 165h1v1h-1zM472 165h1v1h-1zM479 165h1v1h-1zM412 166h1v1h-1zM409 167h1v1h-1zM438 167h1v1h-1zM456 167h1v1h-1zM467 167h1v1h-1zM402 168h1v1h-1zM421 168h1v1h-1zM437 168h1v1h-1zM449 168h1v1h-1zM455 168h1v1h-1zM468 168h1v1h-1zM428 169h1v1h-1zM455 169h1v1h-1zM464 169h1v1h-1zM401 170h1v1h-1zM418 170h1v1h-1zM437 170h1v1h-1zM456 170h1v1h-1zM474 170h2v1h-2zM399 171h1v1h-1zM418 171h1v1h-1zM420 171h1v1h-1zM425 171h1v1h-1zM429 171h1v1h-1zM439 171h1v1h-1zM450 171h1v1h-1zM470 171h1v1h-1zM475 171h1v1h-1zM479 171h1v1h-1zM483 171h1v1h-1zM397 172h1v1h-1zM402 172h1v1h-1zM413 172h1v1h-1zM416 172h1v1h-1zM431 172h1v1h-1zM449 172h1v1h-1zM456 172h1v1h-1zM459 172h1v1h-1zM463 172h1v1h-1zM467 172h1v1h-1zM471 172h1v1h-1zM473 172h1v1h-1zM395 173h1v1h-1zM417 173h2v1h-2zM433 173h1v1h-1zM436 173h2v1h-2zM439 173h1v1h-1zM443 173h1v1h-1zM451 173h1v1h-1zM453 173h1v1h-1zM460 173h1v1h-1zM474 173h2v1h-2zM399 174h1v1h-1zM402 174h1v1h-1zM405 174h1v1h-1zM415 174h1v1h-1zM431 174h1v1h-1zM434 174h1v1h-1zM438 174h1v1h-1zM451 174h1v1h-1zM459 174h1v1h-1zM463 174h1v1h-1zM468 174h1v1h-1zM477 174h1v1h-1zM479 174h1v1h-1zM483 174h1v1h-1zM413 175h1v1h-1zM424 175h1v1h-1zM430 175h1v1h-1zM433 175h1v1h-1zM437 175h1v1h-1zM442 175h1v1h-1zM448 175h1v1h-1zM450 175h1v1h-1zM464 175h1v1h-1zM475 175h1v1h-1zM399 176h1v1h-1zM418 176h1v1h-1zM429 176h1v1h-1zM437 176h1v1h-1zM449 176h1v1h-1zM466 176h1v1h-1zM477 176h1v1h-1zM428 177h1v1h-1zM455 177h1v1h-1zM458 177h1v1h-1zM399 178h1v1h-1zM427 178h1v1h-1zM429 178h1v1h-1zM431 178h1v1h-1zM437 178h1v1h-1zM456 178h2v1h-2zM465 178h1v1h-1zM391 179h2v1h-2zM403 179h1v1h-1zM410 179h1v1h-1zM428 179h1v1h-1zM430 179h2v1h-2zM465 179h1v1h-1zM468 179h1v1h-1zM477 179h1v1h-1zM483 179h1v1h-1zM400 180h1v1h-1zM406 180h1v1h-1zM411 180h1v1h-1zM416 180h1v1h-1zM420 180h1v1h-1zM422 180h1v1h-1zM424 180h1v1h-1zM433 180h3v1h-3zM437 180h1v1h-1zM439 180h1v1h-1zM454 180h1v1h-1zM468 180h1v1h-1zM472 180h1v1h-1zM474 180h1v1h-1zM478 180h1v1h-1zM397 181h1v1h-1zM399 181h1v1h-1zM406 181h1v1h-1zM409 181h2v1h-2zM439 181h1v1h-1zM445 181h1v1h-1zM456 181h1v1h-1zM477 181h1v1h-1zM393 182h1v1h-1zM397 182h1v1h-1zM409 182h1v1h-1zM422 182h1v1h-1zM424 182h1v1h-1zM428 182h1v1h-1zM432 182h1v1h-1zM436 182h1v1h-1zM439 182h1v1h-1zM460 182h1v1h-1zM468 182h1v1h-1zM470 182h1v1h-1zM474 182h1v1h-1zM476 182h2v1h-2zM400 183h1v1h-1zM406 183h1v1h-1zM419 183h1v1h-1zM436 183h1v1h-1zM440 183h1v1h-1zM450 183h1v1h-1zM453 183h4v1h-4zM458 183h2v1h-2zM467 183h1v1h-1zM470 183h1v1h-1zM391 184h1v1h-1zM394 184h1v1h-1zM397 184h1v1h-1zM413 184h1v1h-1zM416 184h1v1h-1zM418 184h1v1h-1zM421 184h1v1h-1zM426 184h1v1h-1zM434 184h1v1h-1zM441 184h1v1h-1zM444 184h2v1h-2zM450 184h1v1h-1zM455 184h1v1h-1zM458 184h1v1h-1zM469 184h1v1h-1zM471 184h2v1h-2zM474 184h1v1h-1zM403 185h1v1h-1zM438 185h2v1h-2zM447 185h2v1h-2zM459 185h1v1h-1zM475 185h1v1h-1zM392 186h1v1h-1zM400 186h1v1h-1zM411 186h2v1h-2zM439 186h1v1h-1zM459 186h1v1h-1zM466 186h2v1h-2zM401 187h1v1h-1zM410 187h1v1h-1zM430 187h1v1h-1zM439 187h1v1h-1zM474 187h2v1h-2zM483 187h1v1h-1zM420 188h1v1h-1zM427 188h1v1h-1zM449 188h1v1h-1zM455 188h1v1h-1zM466 188h1v1h-1zM475 188h1v1h-1zM410 189h1v1h-1zM455 189h2v1h-2zM474 189h1v1h-1zM483 189h1v1h-1zM402 190h1v1h-1zM404 190h1v1h-1zM407 190h1v1h-1zM414 190h2v1h-2zM420 190h1v1h-1zM423 190h1v1h-1zM434 190h1v1h-1zM436 190h1v1h-1zM439 190h1v1h-1zM453 190h1v1h-1zM461 190h1v1h-1zM463 190h1v1h-1zM465 190h2v1h-2zM476 190h1v1h-1zM392 191h2v1h-2zM396 191h1v1h-1zM398 191h1v1h-1zM403 191h1v1h-1zM407 191h1v1h-1zM412 191h3v1h-3zM419 191h1v1h-1zM425 191h1v1h-1zM434 191h1v1h-1zM439 191h1v1h-1zM445 191h1v1h-1zM447 191h2v1h-2zM458 191h2v1h-2zM470 191h2v1h-2zM480 191h1v1h-1zM391 192h2v1h-2zM429 192h1v1h-1zM431 192h1v1h-1zM434 192h1v1h-1zM442 192h1v1h-1zM444 192h1v1h-1zM450 192h2v1h-2zM455 192h1v1h-1zM460 192h1v1h-1zM463 192h1v1h-1zM466 192h2v1h-2zM483 192h1v1h-1zM391 193h1v1h-1zM394 193h1v1h-1zM405 193h1v1h-1zM413 193h1v1h-1zM415 193h1v1h-1zM425 193h2v1h-2zM435 193h1v1h-1zM437 193h1v1h-1zM440 193h4v1h-4zM445 193h3v1h-3zM452 193h1v1h-1zM460 193h1v1h-1zM467 193h1v1h-1zM471 193h1v1h-1zM473 193h1v1h-1zM475 193h1v1h-1zM477 193h1v1h-1zM479 193h1v1h-1zM481 193h1v1h-1zM399 194h1v1h-1zM418 194h1v1h-1zM430 194h1v1h-1zM437 194h1v1h-1zM465 194h1v1h-1zM483 194h1v1h-1zM400 195h1v1h-1zM409 195h1v1h-1zM419 195h1v1h-1zM427 195h1v1h-1zM430 195h1v1h-1zM440 195h1v1h-1zM465 195h2v1h-2zM475 195h1v1h-1zM393 196h1v1h-1zM420 196h1v1h-1zM431 196h1v1h-1zM448 196h1v1h-1zM455 196h1v1h-1zM457 196h1v1h-1zM475 196h1v1h-1zM399 197h1v1h-1zM410 197h1v1h-1zM412 197h1v1h-1zM449 197h1v1h-1zM458 197h2v1h-2zM401 198h1v1h-1zM421 198h1v1h-1zM456 198h1v1h-1zM466 198h1v1h-1zM391 199h1v1h-1zM396 199h1v1h-1zM399 199h1v1h-1zM401 199h1v1h-1zM407 199h1v1h-1zM411 199h1v1h-1zM413 199h1v1h-1zM416 199h1v1h-1zM421 199h2v1h-2zM429 199h2v1h-2zM445 199h1v1h-1zM452 199h3v1h-3zM457 199h1v1h-1zM467 199h3v1h-3zM471 199h1v1h-1zM483 199h1v1h-1zM395 200h1v1h-1zM408 200h1v1h-1zM420 200h1v1h-1zM429 200h2v1h-2zM434 200h2v1h-2zM440 200h1v1h-1zM448 200h1v1h-1zM459 200h1v1h-1zM474 200h1v1h-1zM476 200h1v1h-1zM479 200h1v1h-1zM424 201h1v1h-1zM429 201h1v1h-1zM432 201h1v1h-1zM435 201h1v1h-1zM439 201h1v1h-1zM443 201h1v1h-1zM449 201h1v1h-1zM455 201h1v1h-1zM465 201h1v1h-1zM469 201h2v1h-2zM473 201h1v1h-1zM481 201h2v1h-2zM412 202h1v1h-1zM428 202h1v1h-1zM433 202h2v1h-2zM442 202h1v1h-1zM448 202h2v1h-2zM451 202h1v1h-1zM454 202h1v1h-1zM458 202h3v1h-3zM465 202h1v1h-1zM473 202h1v1h-1zM475 202h1v1h-1zM421 203h1v1h-1zM424 203h1v1h-1zM429 203h1v1h-1zM440 203h1v1h-1zM443 203h1v1h-1zM448 203h1v1h-1zM452 203h1v1h-1zM460 203h1v1h-1zM431 204h1v1h-1zM439 204h1v1h-1zM449 204h1v1h-1zM444 205h1v1h-1zM447 205h1v1h-1zM465 205h1v1h-1zM475 205h2v1h-2zM442 206h2v1h-2zM455 206h1v1h-1zM457 206h1v1h-1zM468 206h1v1h-1zM456 207h1v1h-1zM464 207h1v1h-1zM483 207h1v1h-1zM457 208h1v1h-1zM464 208h1v1h-1zM478 208h1v1h-1zM474 210h1v1h-1zM476 210h2v1h-2z"/><path fill="#d7d7d7" d="M464 185h1v1h-1zM464 186h1v1h-1zM419 189h1v1h-1zM401 190h1v1h-1zM448 190h1v1h-1zM421 191h1v1h-1zM433 191h1v1h-1zM472 191h1v1h-1zM482 191h1v1h-1zM468 192h2v1h-2zM482 192h1v1h-1zM455 193h1v1h-1zM462 193h1v1h-1zM391 194h1v1h-1zM403 194h1v1h-1zM459 194h1v1h-1zM411 195h1v1h-1zM418 195h1v1h-1zM427 196h1v1h-1zM431 197h1v1h-1zM436 197h1v1h-1zM447 197h1v1h-1zM411 198h1v1h-1zM419 198h1v1h-1zM427 198h1v1h-1zM429 198h1v1h-1zM477 198h1v1h-1zM406 199h1v1h-1zM439 199h1v1h-1zM465 199h2v1h-2zM482 199h1v1h-1zM416 200h1v1h-1zM431 200h1v1h-1zM438 200h1v1h-1zM444 200h1v1h-1zM455 200h1v1h-1zM457 200h1v1h-1zM481 200h1v1h-1zM483 200h1v1h-1zM456 201h1v1h-1zM459 201h1v1h-1zM464 201h1v1h-1zM478 201h1v1h-1zM422 202h1v1h-1zM427 202h1v1h-1zM432 202h1v1h-1zM437 202h1v1h-1zM447 202h1v1h-1zM483 202h1v1h-1zM454 203h3v1h-3zM458 203h1v1h-1zM462 203h1v1h-1zM464 203h1v1h-1zM467 203h1v1h-1zM478 203h1v1h-1zM446 204h1v1h-1zM448 204h1v1h-1zM464 205h1v1h-1zM478 206h1v1h-1z"/><rect x="496" y="105" width="95" height="110" fill="#181818"/><path fill="#2d2d2d" d="M524 107h2v1h-2zM527 107h1v1h-1zM534 107h1v1h-1zM538 107h1v1h-1zM545 107h1v1h-1zM564 107h1v1h-1zM577 107h1v1h-1zM580 107h1v1h-1zM586 107h1v1h-1zM532 108h1v1h-1zM535 108h3v1h-3zM549 108h1v1h-1zM552 108h1v1h-1zM561 108h1v1h-1zM565 108h1v1h-1zM525 109h1v1h-1zM550 109h1v1h-1zM581 109h1v1h-1zM532 110h1v1h-1zM535 110h1v1h-1zM543 110h1v1h-1zM560 110h1v1h-1zM567 110h1v1h-1zM587 110h1v1h-1zM533 111h1v1h-1zM535 111h1v1h-1zM550 111h1v1h-1zM553 111h1v1h-1zM561 111h1v1h-1zM584 111h1v1h-1zM521 112h1v1h-1zM543 112h1v1h-1zM574 112h1v1h-1zM510 113h1v1h-1zM527 113h1v1h-1zM532 113h1v1h-1zM534 113h1v1h-1zM572 113h1v1h-1zM578 113h1v1h-1zM520 114h1v1h-1zM527 114h1v1h-1zM535 114h1v1h-1zM544 114h2v1h-2zM565 114h2v1h-2zM581 114h1v1h-1zM513 115h1v1h-1zM541 115h1v1h-1zM520 116h1v1h-1zM527 116h1v1h-1zM540 116h1v1h-1zM549 116h1v1h-1zM551 116h1v1h-1zM559 116h1v1h-1zM540 117h1v1h-1zM543 117h2v1h-2zM558 117h1v1h-1zM520 118h1v1h-1zM560 118h1v1h-1zM573 118h1v1h-1zM578 118h1v1h-1zM581 118h1v1h-1zM587 118h1v1h-1zM532 119h1v1h-1zM543 119h1v1h-1zM562 119h1v1h-1zM584 119h1v1h-1zM587 119h1v1h-1zM519 120h1v1h-1zM539 120h1v1h-1zM576 120h1v1h-1zM526 121h1v1h-1zM532 121h2v1h-2zM535 121h1v1h-1zM553 121h1v1h-1zM574 121h1v1h-1zM578 121h1v1h-1zM581 121h1v1h-1zM543 122h1v1h-1zM548 122h1v1h-1zM562 122h1v1h-1zM565 122h1v1h-1zM580 122h1v1h-1zM588 122h1v1h-1zM523 123h1v1h-1zM526 123h1v1h-1zM538 123h1v1h-1zM541 123h1v1h-1zM551 123h1v1h-1zM559 123h1v1h-1zM563 123h1v1h-1zM582 123h1v1h-1zM510 124h1v1h-1zM525 124h1v1h-1zM560 124h1v1h-1zM573 124h1v1h-1zM576 124h2v1h-2zM587 124h1v1h-1zM518 125h1v1h-1zM520 125h1v1h-1zM530 125h1v1h-1zM533 125h1v1h-1zM538 125h2v1h-2zM547 125h1v1h-1zM565 125h1v1h-1zM567 125h1v1h-1zM576 125h2v1h-2zM581 125h1v1h-1zM587 125h1v1h-1zM527 126h1v1h-1zM554 126h1v1h-1zM577 126h1v1h-1zM581 126h1v1h-1zM520 127h1v1h-1zM524 127h1v1h-1zM536 127h1v1h-1zM538 127h1v1h-1zM542 127h1v1h-1zM546 127h1v1h-1zM549 127h1v1h-1zM573 127h1v1h-1zM585 127h1v1h-1zM516 128h1v1h-1zM518 128h1v1h-1zM524 128h1v1h-1zM548 128h1v1h-1zM550 128h1v1h-1zM554 128h1v1h-1zM566 128h1v1h-1zM574 128h1v1h-1zM522 129h1v1h-1zM529 129h1v1h-1zM544 129h1v1h-1zM548 129h1v1h-1zM565 129h1v1h-1zM586 129h1v1h-1zM535 130h1v1h-1zM539 130h1v1h-1zM549 130h1v1h-1zM588 130h1v1h-1zM512 131h1v1h-1zM518 131h1v1h-1zM520 131h1v1h-1zM524 131h1v1h-1zM527 131h1v1h-1zM534 131h1v1h-1zM544 131h1v1h-1zM552 131h1v1h-1zM561 131h1v1h-1zM565 131h1v1h-1zM569 131h1v1h-1zM577 131h1v1h-1zM506 132h1v1h-1zM511 132h2v1h-2zM515 132h1v1h-1zM526 132h1v1h-1zM564 132h1v1h-1zM584 132h1v1h-1zM508 133h1v1h-1zM532 133h1v1h-1zM540 133h1v1h-1zM548 133h1v1h-1zM551 133h1v1h-1zM565 133h1v1h-1zM569 133h1v1h-1zM574 133h2v1h-2zM587 133h1v1h-1zM507 134h1v1h-1zM510 134h1v1h-1zM525 134h1v1h-1zM532 134h1v1h-1zM537 134h1v1h-1zM553 134h1v1h-1zM555 134h1v1h-1zM566 134h1v1h-1zM584 134h1v1h-1zM526 135h1v1h-1zM547 135h1v1h-1zM556 135h1v1h-1zM565 135h1v1h-1zM568 135h1v1h-1zM500 136h1v1h-1zM511 136h1v1h-1zM531 136h1v1h-1zM577 136h1v1h-1zM509 137h1v1h-1zM513 137h1v1h-1zM519 137h1v1h-1zM522 137h1v1h-1zM532 137h1v1h-1zM553 137h1v1h-1zM565 137h1v1h-1zM576 137h1v1h-1zM585 137h1v1h-1zM504 138h2v1h-2zM507 138h1v1h-1zM522 138h1v1h-1zM525 138h1v1h-1zM535 138h1v1h-1zM538 138h1v1h-1zM544 138h2v1h-2zM548 138h1v1h-1zM559 138h1v1h-1zM566 138h1v1h-1zM572 138h2v1h-2zM578 138h1v1h-1zM582 138h1v1h-1zM586 138h1v1h-1zM505 139h1v1h-1zM507 139h2v1h-2zM520 139h2v1h-2zM526 139h1v1h-1zM537 139h1v1h-1zM539 139h1v1h-1zM550 139h1v1h-1zM556 139h1v1h-1zM567 139h1v1h-1zM575 139h2v1h-2zM583 139h1v1h-1zM588 139h1v1h-1zM502 140h1v1h-1zM504 140h1v1h-1zM513 140h1v1h-1zM516 140h1v1h-1zM535 140h2v1h-2zM543 140h1v1h-1zM567 140h2v1h-2zM575 140h1v1h-1zM516 141h1v1h-1zM519 141h1v1h-1zM531 141h1v1h-1zM549 141h1v1h-1zM558 141h1v1h-1zM569 141h1v1h-1zM581 141h1v1h-1zM586 141h2v1h-2zM514 142h1v1h-1zM516 142h1v1h-1zM551 142h1v1h-1zM555 142h1v1h-1zM572 142h1v1h-1zM574 142h1v1h-1zM581 142h1v1h-1zM586 142h1v1h-1zM509 143h2v1h-2zM514 143h1v1h-1zM522 143h1v1h-1zM546 143h1v1h-1zM549 143h1v1h-1zM568 143h1v1h-1zM579 143h1v1h-1zM586 143h1v1h-1zM508 144h1v1h-1zM519 144h1v1h-1zM524 144h1v1h-1zM534 144h2v1h-2zM541 144h1v1h-1zM543 144h1v1h-1zM546 144h1v1h-1zM549 144h1v1h-1zM551 144h1v1h-1zM553 144h1v1h-1zM564 144h1v1h-1zM584 144h1v1h-1zM501 145h1v1h-1zM519 145h1v1h-1zM523 145h1v1h-1zM527 145h1v1h-1zM529 145h1v1h-1zM531 145h1v1h-1zM533 145h1v1h-1zM555 145h1v1h-1zM568 145h1v1h-1zM581 145h1v1h-1zM588 145h1v1h-1zM524 146h1v1h-1zM528 146h1v1h-1zM530 146h1v1h-1zM543 146h1v1h-1zM550 146h2v1h-2zM563 146h1v1h-1zM566 146h1v1h-1zM499 147h1v1h-1zM501 147h1v1h-1zM508 147h1v1h-1zM516 147h1v1h-1zM523 147h1v1h-1zM525 147h1v1h-1zM534 147h1v1h-1zM565 147h1v1h-1zM568 147h1v1h-1zM498 148h1v1h-1zM504 148h2v1h-2zM512 148h1v1h-1zM523 148h2v1h-2zM527 148h1v1h-1zM533 148h1v1h-1zM536 148h2v1h-2zM543 148h1v1h-1zM546 148h1v1h-1zM557 148h2v1h-2zM563 148h1v1h-1zM566 148h1v1h-1zM569 148h1v1h-1zM501 149h1v1h-1zM516 149h1v1h-1zM525 149h1v1h-1zM536 149h1v1h-1zM546 149h1v1h-1zM555 149h1v1h-1zM563 149h1v1h-1zM569 149h1v1h-1zM575 149h1v1h-1zM577 149h1v1h-1zM583 149h1v1h-1zM515 150h1v1h-1zM540 150h1v1h-1zM559 150h2v1h-2zM570 150h1v1h-1zM583 150h1v1h-1zM506 151h1v1h-1zM515 151h1v1h-1zM527 151h1v1h-1zM541 151h1v1h-1zM553 151h2v1h-2zM558 151h1v1h-1zM577 151h1v1h-1zM582 151h1v1h-1zM508 152h1v1h-1zM518 152h1v1h-1zM529 152h1v1h-1zM539 152h1v1h-1zM541 152h1v1h-1zM549 152h1v1h-1zM560 152h1v1h-1zM567 152h1v1h-1zM574 152h1v1h-1zM583 152h1v1h-1zM499 153h1v1h-1zM547 153h1v1h-1zM558 153h1v1h-1zM564 153h1v1h-1zM571 153h1v1h-1zM583 153h1v1h-1zM498 154h1v1h-1zM500 154h1v1h-1zM530 154h1v1h-1zM550 154h1v1h-1zM562 154h1v1h-1zM564 154h1v1h-1zM567 154h1v1h-1zM572 154h1v1h-1zM575 154h1v1h-1zM581 154h1v1h-1zM586 154h1v1h-1zM499 155h1v1h-1zM501 155h1v1h-1zM504 155h1v1h-1zM509 155h1v1h-1zM520 155h1v1h-1zM527 155h1v1h-1zM530 155h1v1h-1zM539 155h1v1h-1zM544 155h1v1h-1zM547 155h2v1h-2zM554 155h1v1h-1zM586 155h1v1h-1zM501 156h1v1h-1zM505 156h1v1h-1zM518 156h1v1h-1zM522 156h1v1h-1zM524 156h2v1h-2zM553 156h1v1h-1zM582 156h1v1h-1zM587 156h1v1h-1zM509 157h1v1h-1zM512 157h1v1h-1zM517 157h1v1h-1zM520 157h1v1h-1zM526 157h1v1h-1zM539 157h1v1h-1zM552 157h1v1h-1zM572 157h1v1h-1zM523 158h1v1h-1zM555 158h1v1h-1zM558 158h1v1h-1zM561 158h1v1h-1zM573 158h1v1h-1zM504 159h1v1h-1zM533 159h1v1h-1zM571 159h1v1h-1zM585 159h1v1h-1zM587 159h2v1h-2zM506 160h1v1h-1zM523 160h1v1h-1zM529 160h1v1h-1zM547 160h1v1h-1zM555 160h1v1h-1zM558 160h1v1h-1zM564 160h1v1h-1zM569 160h1v1h-1zM580 160h1v1h-1zM587 160h1v1h-1zM498 161h1v1h-1zM516 161h1v1h-1zM524 161h1v1h-1zM535 161h1v1h-1zM558 161h1v1h-1zM572 161h1v1h-1zM578 161h1v1h-1zM499 162h2v1h-2zM511 162h1v1h-1zM564 162h1v1h-1zM586 162h1v1h-1zM588 162h1v1h-1zM498 163h1v1h-1zM503 163h4v1h-4zM509 163h1v1h-1zM523 163h1v1h-1zM526 163h1v1h-1zM550 163h1v1h-1zM556 163h1v1h-1zM568 163h1v1h-1zM570 163h1v1h-1zM573 163h1v1h-1zM577 163h1v1h-1zM506 164h1v1h-1zM516 164h1v1h-1zM520 164h1v1h-1zM524 164h1v1h-1zM526 164h1v1h-1zM530 164h1v1h-1zM534 164h1v1h-1zM543 164h1v1h-1zM547 164h1v1h-1zM551 164h1v1h-1zM573 164h2v1h-2zM505 165h1v1h-1zM521 165h1v1h-1zM525 165h1v1h-1zM527 165h1v1h-1zM529 165h1v1h-1zM544 165h1v1h-1zM547 165h1v1h-1zM549 165h1v1h-1zM553 165h2v1h-2zM567 165h1v1h-1zM576 165h1v1h-1zM578 165h1v1h-1zM505 166h1v1h-1zM508 166h2v1h-2zM526 166h1v1h-1zM539 166h1v1h-1zM568 166h1v1h-1zM574 166h1v1h-1zM577 166h1v1h-1zM579 166h1v1h-1zM501 167h1v1h-1zM506 167h1v1h-1zM508 167h1v1h-1zM517 167h1v1h-1zM522 167h1v1h-1zM546 167h1v1h-1zM548 167h1v1h-1zM558 167h2v1h-2zM567 167h1v1h-1zM571 167h2v1h-2zM578 167h2v1h-2zM584 167h1v1h-1zM506 168h1v1h-1zM509 168h1v1h-1zM515 168h1v1h-1zM517 168h1v1h-1zM526 168h1v1h-1zM541 168h1v1h-1zM549 168h1v1h-1zM560 168h1v1h-1zM583 168h1v1h-1zM508 169h1v1h-1zM549 169h4v1h-4zM565 169h1v1h-1zM578 169h1v1h-1zM582 169h1v1h-1zM585 169h1v1h-1zM504 170h1v1h-1zM512 170h1v1h-1zM521 170h1v1h-1zM548 170h1v1h-1zM561 170h1v1h-1zM566 170h1v1h-1zM500 171h1v1h-1zM510 171h1v1h-1zM528 171h1v1h-1zM554 171h1v1h-1zM567 171h2v1h-2zM571 171h1v1h-1zM578 171h1v1h-1zM581 171h1v1h-1zM584 171h1v1h-1zM586 171h1v1h-1zM500 172h1v1h-1zM511 172h1v1h-1zM513 172h1v1h-1zM532 172h1v1h-1zM536 172h1v1h-1zM542 172h1v1h-1zM549 172h1v1h-1zM559 172h2v1h-2zM567 172h1v1h-1zM581 172h1v1h-1zM501 173h1v1h-1zM506 173h1v1h-1zM522 173h1v1h-1zM544 173h1v1h-1zM574 173h2v1h-2zM499 174h1v1h-1zM504 174h1v1h-1zM516 174h1v1h-1zM520 174h1v1h-1zM528 174h1v1h-1zM537 174h1v1h-1zM566 174h1v1h-1zM568 174h1v1h-1zM575 174h1v1h-1zM578 174h1v1h-1zM587 174h1v1h-1zM500 175h1v1h-1zM530 175h1v1h-1zM588 175h1v1h-1zM500 176h1v1h-1zM504 176h2v1h-2zM517 176h1v1h-1zM520 176h1v1h-1zM523 176h1v1h-1zM527 176h1v1h-1zM530 176h1v1h-1zM544 176h1v1h-1zM558 176h1v1h-1zM577 176h1v1h-1zM581 176h1v1h-1zM587 176h2v1h-2zM498 177h1v1h-1zM518 177h1v1h-1zM530 177h1v1h-1zM539 177h1v1h-1zM547 177h4v1h-4zM583 177h1v1h-1zM501 178h1v1h-1zM504 178h1v1h-1zM537 178h1v1h-1zM545 178h2v1h-2zM555 178h1v1h-1zM557 178h1v1h-1zM560 178h1v1h-1zM569 178h1v1h-1zM574 178h1v1h-1zM516 179h1v1h-1zM518 179h1v1h-1zM536 179h2v1h-2zM544 179h1v1h-1zM556 179h1v1h-1zM572 179h2v1h-2zM575 179h1v1h-1zM581 179h2v1h-2zM507 180h1v1h-1zM529 180h2v1h-2zM532 180h1v1h-1zM551 180h1v1h-1zM553 180h1v1h-1zM558 180h1v1h-1zM560 180h1v1h-1zM586 180h1v1h-1zM503 181h1v1h-1zM508 181h1v1h-1zM512 181h1v1h-1zM532 181h1v1h-1zM535 181h1v1h-1zM545 181h1v1h-1zM547 181h1v1h-1zM550 181h1v1h-1zM555 181h2v1h-2zM561 181h1v1h-1zM565 181h1v1h-1zM578 181h1v1h-1zM585 181h1v1h-1zM503 182h1v1h-1zM510 182h1v1h-1zM520 182h1v1h-1zM526 182h1v1h-1zM535 182h1v1h-1zM537 182h1v1h-1zM563 182h1v1h-1zM568 182h1v1h-1zM570 182h1v1h-1zM573 182h1v1h-1zM581 182h1v1h-1zM588 182h1v1h-1zM513 183h1v1h-1zM527 183h1v1h-1zM529 183h1v1h-1zM553 183h1v1h-1zM565 183h2v1h-2zM515 184h1v1h-1zM522 184h1v1h-1zM549 184h1v1h-1zM554 184h1v1h-1zM564 184h1v1h-1zM576 184h1v1h-1zM502 185h1v1h-1zM506 185h1v1h-1zM517 185h1v1h-1zM546 185h1v1h-1zM556 185h1v1h-1zM559 185h3v1h-3zM568 185h1v1h-1zM500 186h1v1h-1zM511 186h1v1h-1zM514 186h1v1h-1zM542 186h1v1h-1zM546 186h1v1h-1zM551 186h1v1h-1zM553 186h1v1h-1zM561 186h1v1h-1zM577 186h1v1h-1zM584 186h1v1h-1zM505 187h2v1h-2zM509 187h1v1h-1zM513 187h1v1h-1zM516 187h1v1h-1zM524 187h1v1h-1zM530 187h1v1h-1zM532 187h1v1h-1zM542 187h1v1h-1zM574 187h6v1h-6zM499 188h1v1h-1zM511 188h1v1h-1zM515 188h1v1h-1zM517 188h1v1h-1zM532 188h1v1h-1zM534 188h1v1h-1zM543 188h1v1h-1zM554 188h1v1h-1zM561 188h1v1h-1zM566 188h1v1h-1zM568 188h1v1h-1zM581 188h1v1h-1zM500 189h1v1h-1zM503 189h1v1h-1zM523 189h1v1h-1zM534 189h1v1h-1zM542 189h1v1h-1zM565 189h1v1h-1zM568 189h1v1h-1zM571 189h2v1h-2zM577 189h1v1h-1zM579 189h1v1h-1zM581 189h1v1h-1zM583 189h1v1h-1zM537 190h1v1h-1zM556 190h1v1h-1zM558 190h1v1h-1zM564 190h1v1h-1zM579 190h1v1h-1zM581 190h1v1h-1zM586 190h1v1h-1zM509 191h1v1h-1zM516 191h2v1h-2zM520 191h1v1h-1zM522 191h1v1h-1zM529 191h1v1h-1zM532 191h2v1h-2zM536 191h1v1h-1zM541 191h1v1h-1zM543 191h1v1h-1zM571 191h1v1h-1zM573 191h1v1h-1zM578 191h1v1h-1zM498 192h1v1h-1zM502 192h1v1h-1zM508 192h1v1h-1zM512 192h1v1h-1zM516 192h1v1h-1zM524 192h1v1h-1zM529 192h1v1h-1zM532 192h1v1h-1zM536 192h1v1h-1zM546 192h1v1h-1zM550 192h2v1h-2zM563 192h1v1h-1zM566 192h1v1h-1zM570 192h1v1h-1zM580 192h1v1h-1zM512 193h1v1h-1zM521 193h1v1h-1zM531 193h1v1h-1zM533 193h2v1h-2zM554 193h1v1h-1zM560 193h1v1h-1zM578 193h1v1h-1zM514 194h1v1h-1zM534 194h1v1h-1zM536 194h1v1h-1zM538 194h1v1h-1zM543 194h1v1h-1zM559 194h1v1h-1zM563 194h1v1h-1zM567 194h2v1h-2zM572 194h2v1h-2zM583 194h1v1h-1zM586 194h1v1h-1zM501 195h1v1h-1zM507 195h1v1h-1zM510 195h2v1h-2zM513 195h1v1h-1zM517 195h1v1h-1zM533 195h1v1h-1zM537 195h1v1h-1zM542 195h1v1h-1zM559 195h1v1h-1zM563 195h1v1h-1zM578 195h1v1h-1zM581 195h1v1h-1zM503 196h1v1h-1zM522 196h1v1h-1zM525 196h1v1h-1zM531 196h1v1h-1zM534 196h1v1h-1zM536 196h1v1h-1zM545 196h1v1h-1zM547 196h1v1h-1zM558 196h1v1h-1zM565 196h1v1h-1zM569 196h1v1h-1zM579 196h1v1h-1zM587 196h1v1h-1zM504 197h1v1h-1zM508 197h2v1h-2zM519 197h1v1h-1zM523 197h1v1h-1zM544 197h1v1h-1zM547 197h2v1h-2zM552 197h1v1h-1zM569 197h3v1h-3zM574 197h1v1h-1zM576 197h1v1h-1zM586 197h1v1h-1zM503 198h1v1h-1zM507 198h2v1h-2zM513 198h1v1h-1zM521 198h2v1h-2zM524 198h2v1h-2zM528 198h1v1h-1zM541 198h1v1h-1zM581 198h1v1h-1zM502 199h1v1h-1zM504 199h2v1h-2zM524 199h2v1h-2zM530 199h1v1h-1zM539 199h1v1h-1zM544 199h1v1h-1zM546 199h1v1h-1zM555 199h2v1h-2zM564 199h2v1h-2zM572 199h1v1h-1zM580 199h1v1h-1zM583 199h1v1h-1zM499 200h1v1h-1zM502 200h1v1h-1zM508 200h1v1h-1zM514 200h1v1h-1zM516 200h3v1h-3zM521 200h1v1h-1zM524 200h1v1h-1zM530 200h1v1h-1zM536 200h1v1h-1zM549 200h2v1h-2zM562 200h2v1h-2zM576 200h2v1h-2zM504 201h1v1h-1zM523 201h1v1h-1zM528 201h1v1h-1zM570 201h1v1h-1zM499 202h1v1h-1zM503 202h1v1h-1zM521 202h1v1h-1zM531 202h1v1h-1zM541 202h1v1h-1zM560 202h1v1h-1zM571 202h1v1h-1zM579 202h1v1h-1zM513 203h1v1h-1zM526 203h2v1h-2zM551 203h2v1h-2zM554 203h1v1h-1zM577 203h1v1h-1zM507 204h1v1h-1zM515 204h2v1h-2zM526 204h1v1h-1zM535 204h1v1h-1zM539 204h1v1h-1zM545 204h1v1h-1zM547 204h1v1h-1zM554 204h1v1h-1zM579 204h1v1h-1zM583 204h1v1h-1zM535 205h1v1h-1zM542 205h1v1h-1zM548 205h1v1h-1zM551 205h1v1h-1zM561 205h2v1h-2zM564 205h1v1h-1zM573 205h1v1h-1zM501 206h1v1h-1zM536 206h1v1h-1zM542 206h1v1h-1zM545 206h1v1h-1zM548 206h1v1h-1zM550 206h1v1h-1zM556 206h1v1h-1zM570 206h1v1h-1zM582 206h1v1h-1zM527 207h1v1h-1zM536 207h1v1h-1zM551 207h1v1h-1zM557 207h1v1h-1zM559 207h1v1h-1zM569 207h1v1h-1zM572 207h1v1h-1zM579 207h1v1h-1zM583 207h2v1h-2zM565 208h1v1h-1zM573 208h1v1h-1zM577 208h1v1h-1zM582 208h3v1h-3zM582 209h1v1h-1zM584 209h1v1h-1zM588 209h1v1h-1zM522 210h1v1h-1zM563 211h1v1h-1zM565 211h1v1h-1z"/><path fill="#464646" d="M521 107h1v1h-1zM533 107h1v1h-1zM539 107h1v1h-1zM542 107h1v1h-1zM544 107h1v1h-1zM547 107h1v1h-1zM549 107h1v1h-1zM559 107h1v1h-1zM561 107h1v1h-1zM566 107h1v1h-1zM526 108h1v1h-1zM533 108h1v1h-1zM540 108h1v1h-1zM553 108h1v1h-1zM563 108h2v1h-2zM575 108h1v1h-1zM523 109h1v1h-1zM535 109h1v1h-1zM537 109h1v1h-1zM562 109h1v1h-1zM566 109h1v1h-1zM521 110h1v1h-1zM526 110h2v1h-2zM537 110h1v1h-1zM540 110h2v1h-2zM545 110h1v1h-1zM549 110h1v1h-1zM558 110h1v1h-1zM565 110h1v1h-1zM525 111h1v1h-1zM540 111h1v1h-1zM545 111h2v1h-2zM582 111h1v1h-1zM512 112h1v1h-1zM527 112h1v1h-1zM557 112h1v1h-1zM564 112h1v1h-1zM581 112h2v1h-2zM520 113h1v1h-1zM567 113h1v1h-1zM571 113h1v1h-1zM577 113h1v1h-1zM580 113h1v1h-1zM587 113h1v1h-1zM500 114h1v1h-1zM509 114h1v1h-1zM537 114h1v1h-1zM557 114h1v1h-1zM563 114h2v1h-2zM574 114h1v1h-1zM576 114h1v1h-1zM579 114h1v1h-1zM582 114h1v1h-1zM504 115h1v1h-1zM519 115h1v1h-1zM531 115h3v1h-3zM536 115h1v1h-1zM549 115h1v1h-1zM554 115h1v1h-1zM570 115h1v1h-1zM572 115h1v1h-1zM530 116h1v1h-1zM532 116h1v1h-1zM537 116h1v1h-1zM544 116h1v1h-1zM553 116h1v1h-1zM563 116h1v1h-1zM582 116h3v1h-3zM586 116h1v1h-1zM519 117h1v1h-1zM549 117h2v1h-2zM565 117h1v1h-1zM575 117h1v1h-1zM579 117h1v1h-1zM581 117h1v1h-1zM585 117h1v1h-1zM541 118h1v1h-1zM543 118h1v1h-1zM547 118h1v1h-1zM558 118h1v1h-1zM565 118h1v1h-1zM576 118h1v1h-1zM580 118h1v1h-1zM520 119h1v1h-1zM522 119h1v1h-1zM539 119h2v1h-2zM544 119h1v1h-1zM561 119h1v1h-1zM569 119h1v1h-1zM575 119h2v1h-2zM579 119h1v1h-1zM585 119h1v1h-1zM527 120h1v1h-1zM531 120h1v1h-1zM538 120h1v1h-1zM543 120h1v1h-1zM575 120h1v1h-1zM502 121h1v1h-1zM518 121h1v1h-1zM531 121h1v1h-1zM544 121h1v1h-1zM552 121h1v1h-1zM558 121h1v1h-1zM560 121h1v1h-1zM566 121h1v1h-1zM573 121h1v1h-1zM500 122h1v1h-1zM504 122h1v1h-1zM525 122h1v1h-1zM552 122h1v1h-1zM568 122h1v1h-1zM578 122h1v1h-1zM583 122h1v1h-1zM511 123h1v1h-1zM522 123h1v1h-1zM525 123h1v1h-1zM529 123h1v1h-1zM540 123h1v1h-1zM552 123h1v1h-1zM566 123h2v1h-2zM573 123h2v1h-2zM580 123h1v1h-1zM587 123h2v1h-2zM501 124h1v1h-1zM523 124h1v1h-1zM547 124h1v1h-1zM578 124h1v1h-1zM545 125h2v1h-2zM563 125h1v1h-1zM572 125h1v1h-1zM583 125h1v1h-1zM588 125h1v1h-1zM517 126h1v1h-1zM548 126h1v1h-1zM551 126h1v1h-1zM553 126h1v1h-1zM555 126h1v1h-1zM567 126h1v1h-1zM573 126h1v1h-1zM576 126h1v1h-1zM584 126h1v1h-1zM521 127h1v1h-1zM523 127h1v1h-1zM565 127h1v1h-1zM571 127h1v1h-1zM574 127h4v1h-4zM588 127h1v1h-1zM515 128h1v1h-1zM517 128h1v1h-1zM519 128h1v1h-1zM522 128h1v1h-1zM534 128h1v1h-1zM537 128h1v1h-1zM545 128h1v1h-1zM553 128h1v1h-1zM555 128h1v1h-1zM560 128h1v1h-1zM562 128h1v1h-1zM582 128h1v1h-1zM514 129h1v1h-1zM525 129h1v1h-1zM528 129h1v1h-1zM547 129h1v1h-1zM557 129h1v1h-1zM561 129h1v1h-1zM563 129h1v1h-1zM569 129h1v1h-1zM571 129h1v1h-1zM574 129h2v1h-2zM581 129h1v1h-1zM588 129h1v1h-1zM522 130h1v1h-1zM533 130h1v1h-1zM548 130h1v1h-1zM550 130h1v1h-1zM554 130h1v1h-1zM567 130h1v1h-1zM580 130h1v1h-1zM586 130h1v1h-1zM503 131h1v1h-1zM506 131h1v1h-1zM508 131h2v1h-2zM528 131h1v1h-1zM548 131h1v1h-1zM554 131h1v1h-1zM528 132h1v1h-1zM530 132h1v1h-1zM533 132h1v1h-1zM542 132h1v1h-1zM545 132h1v1h-1zM560 132h1v1h-1zM568 132h1v1h-1zM573 132h2v1h-2zM577 132h1v1h-1zM579 132h1v1h-1zM501 133h2v1h-2zM523 133h1v1h-1zM550 133h1v1h-1zM586 133h1v1h-1zM508 134h1v1h-1zM527 134h2v1h-2zM531 134h1v1h-1zM543 134h1v1h-1zM549 134h1v1h-1zM573 134h1v1h-1zM503 135h1v1h-1zM505 135h1v1h-1zM518 135h1v1h-1zM521 135h1v1h-1zM529 135h1v1h-1zM533 135h1v1h-1zM539 135h1v1h-1zM545 135h1v1h-1zM554 135h1v1h-1zM566 135h1v1h-1zM570 135h2v1h-2zM577 135h1v1h-1zM584 135h1v1h-1zM503 136h1v1h-1zM516 136h1v1h-1zM527 136h1v1h-1zM532 136h1v1h-1zM534 136h2v1h-2zM537 136h1v1h-1zM541 136h1v1h-1zM546 136h1v1h-1zM557 136h1v1h-1zM560 136h1v1h-1zM576 136h1v1h-1zM580 136h1v1h-1zM588 136h1v1h-1zM502 137h1v1h-1zM524 137h1v1h-1zM528 137h1v1h-1zM538 137h1v1h-1zM564 137h1v1h-1zM568 137h1v1h-1zM572 137h1v1h-1zM506 138h1v1h-1zM510 138h2v1h-2zM516 138h2v1h-2zM527 138h1v1h-1zM534 138h1v1h-1zM554 138h1v1h-1zM558 138h1v1h-1zM567 138h1v1h-1zM569 138h1v1h-1zM571 138h1v1h-1zM584 138h1v1h-1zM500 139h1v1h-1zM502 139h1v1h-1zM524 139h1v1h-1zM540 139h1v1h-1zM543 139h2v1h-2zM551 139h1v1h-1zM570 139h1v1h-1zM584 139h1v1h-1zM500 140h1v1h-1zM505 140h1v1h-1zM508 140h1v1h-1zM527 140h1v1h-1zM556 140h1v1h-1zM576 140h1v1h-1zM580 140h1v1h-1zM500 141h2v1h-2zM505 141h1v1h-1zM509 141h1v1h-1zM521 141h1v1h-1zM540 141h1v1h-1zM546 141h1v1h-1zM548 141h1v1h-1zM553 141h1v1h-1zM566 141h1v1h-1zM588 141h1v1h-1zM506 142h1v1h-1zM519 142h1v1h-1zM525 142h1v1h-1zM535 142h1v1h-1zM546 142h1v1h-1zM548 142h1v1h-1zM573 142h1v1h-1zM575 142h1v1h-1zM504 143h1v1h-1zM513 143h1v1h-1zM521 143h1v1h-1zM526 143h1v1h-1zM534 143h1v1h-1zM537 143h1v1h-1zM557 143h2v1h-2zM563 143h1v1h-1zM575 143h1v1h-1zM582 143h1v1h-1zM585 143h1v1h-1zM505 144h2v1h-2zM520 144h1v1h-1zM525 144h1v1h-1zM527 144h1v1h-1zM537 144h1v1h-1zM550 144h1v1h-1zM566 144h1v1h-1zM582 144h1v1h-1zM588 144h1v1h-1zM515 145h1v1h-1zM524 145h1v1h-1zM542 145h1v1h-1zM548 145h2v1h-2zM552 145h1v1h-1zM560 145h1v1h-1zM574 145h1v1h-1zM578 145h3v1h-3zM583 145h1v1h-1zM517 146h2v1h-2zM522 146h1v1h-1zM531 146h1v1h-1zM535 146h1v1h-1zM537 146h1v1h-1zM540 146h2v1h-2zM554 146h2v1h-2zM564 146h1v1h-1zM568 146h1v1h-1zM571 146h1v1h-1zM583 146h1v1h-1zM498 147h1v1h-1zM528 147h1v1h-1zM543 147h1v1h-1zM556 147h1v1h-1zM561 147h1v1h-1zM585 147h1v1h-1zM588 147h1v1h-1zM499 148h1v1h-1zM517 148h1v1h-1zM520 148h1v1h-1zM532 148h1v1h-1zM538 148h1v1h-1zM551 148h1v1h-1zM553 148h1v1h-1zM559 148h1v1h-1zM567 148h1v1h-1zM574 148h1v1h-1zM578 148h1v1h-1zM580 148h1v1h-1zM498 149h1v1h-1zM511 149h1v1h-1zM515 149h1v1h-1zM519 149h1v1h-1zM533 149h1v1h-1zM543 149h1v1h-1zM550 149h1v1h-1zM554 149h1v1h-1zM562 149h1v1h-1zM568 149h1v1h-1zM571 149h1v1h-1zM584 149h1v1h-1zM506 150h1v1h-1zM531 150h1v1h-1zM554 150h1v1h-1zM562 150h1v1h-1zM564 150h1v1h-1zM566 150h1v1h-1zM586 150h3v1h-3zM523 151h1v1h-1zM532 151h4v1h-4zM548 151h2v1h-2zM551 151h1v1h-1zM561 151h1v1h-1zM566 151h2v1h-2zM507 152h1v1h-1zM510 152h1v1h-1zM522 152h1v1h-1zM524 152h1v1h-1zM537 152h1v1h-1zM542 152h1v1h-1zM544 152h1v1h-1zM546 152h1v1h-1zM552 152h1v1h-1zM555 152h1v1h-1zM581 152h1v1h-1zM502 153h1v1h-1zM507 153h2v1h-2zM510 153h1v1h-1zM531 153h1v1h-1zM534 153h1v1h-1zM549 153h1v1h-1zM555 153h1v1h-1zM561 153h1v1h-1zM566 153h2v1h-2zM576 153h1v1h-1zM586 153h1v1h-1zM515 154h1v1h-1zM538 154h1v1h-1zM553 154h1v1h-1zM557 154h2v1h-2zM565 154h1v1h-1zM570 154h1v1h-1zM583 154h1v1h-1zM498 155h1v1h-1zM508 155h1v1h-1zM511 155h1v1h-1zM513 155h1v1h-1zM536 155h1v1h-1zM543 155h1v1h-1zM545 155h2v1h-2zM558 155h1v1h-1zM561 155h1v1h-1zM563 155h2v1h-2zM571 155h1v1h-1zM576 155h1v1h-1zM509 156h1v1h-1zM552 156h1v1h-1zM569 156h1v1h-1zM573 156h1v1h-1zM500 157h1v1h-1zM510 157h1v1h-1zM518 157h1v1h-1zM535 157h1v1h-1zM555 157h1v1h-1zM559 157h1v1h-1zM568 157h1v1h-1zM570 157h1v1h-1zM574 157h1v1h-1zM576 157h1v1h-1zM579 157h2v1h-2zM506 158h1v1h-1zM519 158h1v1h-1zM526 158h1v1h-1zM530 158h1v1h-1zM534 158h1v1h-1zM537 158h2v1h-2zM546 158h1v1h-1zM554 158h1v1h-1zM560 158h1v1h-1zM563 158h1v1h-1zM576 158h1v1h-1zM501 159h1v1h-1zM503 159h1v1h-1zM505 159h1v1h-1zM507 159h1v1h-1zM510 159h1v1h-1zM515 159h2v1h-2zM526 159h1v1h-1zM539 159h1v1h-1zM542 159h1v1h-1zM546 159h1v1h-1zM565 159h1v1h-1zM569 159h1v1h-1zM578 159h1v1h-1zM581 159h1v1h-1zM517 160h1v1h-1zM531 160h1v1h-1zM544 160h1v1h-1zM550 160h1v1h-1zM561 160h1v1h-1zM573 160h1v1h-1zM575 160h1v1h-1zM578 160h1v1h-1zM499 161h1v1h-1zM505 161h2v1h-2zM513 161h1v1h-1zM534 161h1v1h-1zM559 161h1v1h-1zM561 161h3v1h-3zM565 161h1v1h-1zM569 161h1v1h-1zM512 162h1v1h-1zM514 162h3v1h-3zM523 162h1v1h-1zM529 162h1v1h-1zM532 162h1v1h-1zM540 162h1v1h-1zM542 162h2v1h-2zM547 162h1v1h-1zM551 162h1v1h-1zM559 162h1v1h-1zM562 162h1v1h-1zM570 162h2v1h-2zM574 162h2v1h-2zM510 163h1v1h-1zM512 163h1v1h-1zM517 163h1v1h-1zM519 163h1v1h-1zM521 163h2v1h-2zM544 163h2v1h-2zM558 163h1v1h-1zM562 163h1v1h-1zM566 163h1v1h-1zM580 163h2v1h-2zM586 163h1v1h-1zM499 164h1v1h-1zM504 164h2v1h-2zM525 164h1v1h-1zM571 164h1v1h-1zM586 164h1v1h-1zM501 165h1v1h-1zM510 165h1v1h-1zM513 165h1v1h-1zM517 165h1v1h-1zM526 165h1v1h-1zM533 165h2v1h-2zM540 165h1v1h-1zM555 165h1v1h-1zM557 165h1v1h-1zM570 165h2v1h-2zM579 165h1v1h-1zM581 165h1v1h-1zM498 166h3v1h-3zM511 166h1v1h-1zM517 166h2v1h-2zM528 166h1v1h-1zM537 166h2v1h-2zM552 166h1v1h-1zM560 166h1v1h-1zM570 166h2v1h-2zM510 167h1v1h-1zM526 167h1v1h-1zM544 167h1v1h-1zM547 167h1v1h-1zM555 167h2v1h-2zM573 167h1v1h-1zM580 167h1v1h-1zM586 167h1v1h-1zM588 167h1v1h-1zM503 168h1v1h-1zM510 168h1v1h-1zM514 168h1v1h-1zM519 168h1v1h-1zM544 168h2v1h-2zM548 168h1v1h-1zM551 168h1v1h-1zM563 168h1v1h-1zM570 168h1v1h-1zM572 168h1v1h-1zM576 168h1v1h-1zM579 168h2v1h-2zM588 168h1v1h-1zM510 169h1v1h-1zM538 169h1v1h-1zM540 169h1v1h-1zM525 170h1v1h-1zM530 170h1v1h-1zM534 170h1v1h-1zM536 170h1v1h-1zM545 170h2v1h-2zM550 170h1v1h-1zM572 170h1v1h-1zM574 170h1v1h-1zM579 170h1v1h-1zM501 171h1v1h-1zM515 171h1v1h-1zM523 171h1v1h-1zM531 171h1v1h-1zM546 171h1v1h-1zM566 171h1v1h-1zM574 171h1v1h-1zM499 172h1v1h-1zM514 172h1v1h-1zM523 172h1v1h-1zM538 172h1v1h-1zM540 172h1v1h-1zM546 172h2v1h-2zM551 172h1v1h-1zM555 172h2v1h-2zM572 172h1v1h-1zM575 172h1v1h-1zM577 172h2v1h-2zM498 173h1v1h-1zM510 173h2v1h-2zM515 173h1v1h-1zM518 173h2v1h-2zM541 173h1v1h-1zM543 173h1v1h-1zM558 173h1v1h-1zM563 173h1v1h-1zM568 173h1v1h-1zM571 173h1v1h-1zM577 173h1v1h-1zM581 173h1v1h-1zM503 174h1v1h-1zM507 174h1v1h-1zM509 174h1v1h-1zM514 174h1v1h-1zM539 174h1v1h-1zM544 174h1v1h-1zM565 174h1v1h-1zM567 174h1v1h-1zM569 174h1v1h-1zM584 174h1v1h-1zM514 175h1v1h-1zM517 175h2v1h-2zM528 175h1v1h-1zM541 175h1v1h-1zM569 175h1v1h-1zM575 175h1v1h-1zM577 175h1v1h-1zM510 176h1v1h-1zM514 176h1v1h-1zM521 176h1v1h-1zM529 176h1v1h-1zM534 176h1v1h-1zM547 176h1v1h-1zM554 176h1v1h-1zM562 176h1v1h-1zM565 176h1v1h-1zM568 176h1v1h-1zM570 176h1v1h-1zM575 176h1v1h-1zM584 176h1v1h-1zM586 176h1v1h-1zM499 177h1v1h-1zM523 177h1v1h-1zM526 177h1v1h-1zM528 177h2v1h-2zM532 177h1v1h-1zM536 177h1v1h-1zM561 177h1v1h-1zM498 178h1v1h-1zM503 178h1v1h-1zM511 178h1v1h-1zM515 178h1v1h-1zM519 178h1v1h-1zM524 178h1v1h-1zM534 178h1v1h-1zM549 178h1v1h-1zM561 178h1v1h-1zM576 178h1v1h-1zM499 179h2v1h-2zM505 179h1v1h-1zM514 179h1v1h-1zM525 179h1v1h-1zM542 179h1v1h-1zM546 179h1v1h-1zM549 179h1v1h-1zM566 179h1v1h-1zM498 180h1v1h-1zM516 180h2v1h-2zM522 180h1v1h-1zM533 180h1v1h-1zM537 180h1v1h-1zM543 180h1v1h-1zM546 180h1v1h-1zM552 180h1v1h-1zM559 180h1v1h-1zM564 180h1v1h-1zM581 180h1v1h-1zM583 180h1v1h-1zM511 181h1v1h-1zM521 181h1v1h-1zM526 181h1v1h-1zM530 181h1v1h-1zM537 181h1v1h-1zM560 181h1v1h-1zM571 181h2v1h-2zM574 181h1v1h-1zM577 181h1v1h-1zM583 181h2v1h-2zM587 181h1v1h-1zM502 182h1v1h-1zM512 182h1v1h-1zM521 182h1v1h-1zM534 182h1v1h-1zM539 182h2v1h-2zM544 182h1v1h-1zM552 182h1v1h-1zM557 182h1v1h-1zM566 182h1v1h-1zM500 183h1v1h-1zM505 183h1v1h-1zM510 183h3v1h-3zM514 183h1v1h-1zM517 183h1v1h-1zM519 183h1v1h-1zM549 183h1v1h-1zM570 183h1v1h-1zM579 183h1v1h-1zM500 184h1v1h-1zM507 184h1v1h-1zM517 184h1v1h-1zM523 184h1v1h-1zM525 184h1v1h-1zM531 184h1v1h-1zM533 184h1v1h-1zM550 184h1v1h-1zM556 184h1v1h-1zM574 184h1v1h-1zM512 185h1v1h-1zM518 185h1v1h-1zM522 185h1v1h-1zM532 185h1v1h-1zM535 185h1v1h-1zM543 185h1v1h-1zM562 185h2v1h-2zM572 185h1v1h-1zM576 185h1v1h-1zM507 186h1v1h-1zM520 186h1v1h-1zM523 186h1v1h-1zM527 186h2v1h-2zM552 186h1v1h-1zM559 186h1v1h-1zM565 186h1v1h-1zM574 186h1v1h-1zM583 186h1v1h-1zM586 186h1v1h-1zM588 186h1v1h-1zM519 187h5v1h-5zM536 187h1v1h-1zM547 187h1v1h-1zM553 187h2v1h-2zM568 187h1v1h-1zM570 187h1v1h-1zM580 187h1v1h-1zM585 187h1v1h-1zM507 188h1v1h-1zM512 188h1v1h-1zM514 188h1v1h-1zM518 188h1v1h-1zM524 188h1v1h-1zM530 188h1v1h-1zM536 188h1v1h-1zM550 188h1v1h-1zM558 188h1v1h-1zM563 188h1v1h-1zM567 188h1v1h-1zM570 188h1v1h-1zM576 188h1v1h-1zM579 188h1v1h-1zM583 188h1v1h-1zM585 188h1v1h-1zM502 189h1v1h-1zM511 189h1v1h-1zM513 189h1v1h-1zM526 189h1v1h-1zM538 189h1v1h-1zM541 189h1v1h-1zM549 189h1v1h-1zM554 189h1v1h-1zM561 189h2v1h-2zM566 189h1v1h-1zM573 189h2v1h-2zM586 189h1v1h-1zM510 190h1v1h-1zM520 190h1v1h-1zM540 190h1v1h-1zM548 190h1v1h-1zM526 191h1v1h-1zM530 191h1v1h-1zM538 191h1v1h-1zM542 191h1v1h-1zM557 191h1v1h-1zM561 191h2v1h-2zM566 191h2v1h-2zM569 191h1v1h-1zM576 191h1v1h-1zM579 191h1v1h-1zM581 191h1v1h-1zM585 191h1v1h-1zM506 192h1v1h-1zM519 192h1v1h-1zM526 192h1v1h-1zM531 192h1v1h-1zM549 192h1v1h-1zM567 192h1v1h-1zM572 192h1v1h-1zM501 193h3v1h-3zM508 193h1v1h-1zM515 193h1v1h-1zM520 193h1v1h-1zM523 193h1v1h-1zM525 193h1v1h-1zM536 193h1v1h-1zM541 193h3v1h-3zM565 193h1v1h-1zM573 193h1v1h-1zM581 193h1v1h-1zM499 194h1v1h-1zM506 194h1v1h-1zM515 194h2v1h-2zM520 194h1v1h-1zM525 194h1v1h-1zM531 194h1v1h-1zM537 194h1v1h-1zM555 194h1v1h-1zM562 194h1v1h-1zM580 194h1v1h-1zM584 194h1v1h-1zM504 195h3v1h-3zM521 195h1v1h-1zM525 195h1v1h-1zM543 195h1v1h-1zM550 195h1v1h-1zM553 195h1v1h-1zM571 195h1v1h-1zM574 195h1v1h-1zM580 195h1v1h-1zM583 195h1v1h-1zM585 195h1v1h-1zM588 195h1v1h-1zM516 196h1v1h-1zM521 196h1v1h-1zM529 196h1v1h-1zM538 196h1v1h-1zM546 196h1v1h-1zM552 196h1v1h-1zM556 196h1v1h-1zM564 196h1v1h-1zM568 196h1v1h-1zM585 196h1v1h-1zM506 197h1v1h-1zM512 197h1v1h-1zM524 197h1v1h-1zM540 197h1v1h-1zM550 197h1v1h-1zM553 197h1v1h-1zM568 197h1v1h-1zM572 197h1v1h-1zM580 197h2v1h-2zM505 198h1v1h-1zM517 198h1v1h-1zM523 198h1v1h-1zM527 198h1v1h-1zM537 198h1v1h-1zM542 198h2v1h-2zM545 198h1v1h-1zM560 198h1v1h-1zM565 198h1v1h-1zM567 198h1v1h-1zM586 198h1v1h-1zM514 199h2v1h-2zM521 199h1v1h-1zM523 199h1v1h-1zM535 199h1v1h-1zM540 199h2v1h-2zM543 199h1v1h-1zM548 199h1v1h-1zM557 199h1v1h-1zM582 199h1v1h-1zM585 199h1v1h-1zM498 200h1v1h-1zM511 200h2v1h-2zM520 200h1v1h-1zM555 200h1v1h-1zM559 200h1v1h-1zM566 200h1v1h-1zM578 200h1v1h-1zM583 200h3v1h-3zM517 201h1v1h-1zM519 201h1v1h-1zM534 201h1v1h-1zM542 201h2v1h-2zM557 201h1v1h-1zM567 201h1v1h-1zM583 201h1v1h-1zM498 202h1v1h-1zM508 202h1v1h-1zM510 202h1v1h-1zM523 202h2v1h-2zM529 202h2v1h-2zM536 202h1v1h-1zM542 202h1v1h-1zM546 202h1v1h-1zM548 202h1v1h-1zM555 202h1v1h-1zM563 202h1v1h-1zM577 202h2v1h-2zM498 203h1v1h-1zM514 203h1v1h-1zM522 203h1v1h-1zM529 203h1v1h-1zM535 203h1v1h-1zM549 203h1v1h-1zM558 203h1v1h-1zM567 203h1v1h-1zM588 203h1v1h-1zM509 204h1v1h-1zM520 204h1v1h-1zM524 204h1v1h-1zM528 204h1v1h-1zM533 204h1v1h-1zM537 204h2v1h-2zM563 204h1v1h-1zM565 204h1v1h-1zM572 204h1v1h-1zM574 204h1v1h-1zM585 204h1v1h-1zM525 205h1v1h-1zM528 205h1v1h-1zM540 205h1v1h-1zM545 205h1v1h-1zM550 205h1v1h-1zM558 205h1v1h-1zM565 205h1v1h-1zM575 205h1v1h-1zM546 206h2v1h-2zM553 206h2v1h-2zM561 206h1v1h-1zM585 206h1v1h-1zM521 207h1v1h-1zM543 207h1v1h-1zM552 207h1v1h-1zM554 207h1v1h-1zM561 207h1v1h-1zM565 207h1v1h-1zM567 207h2v1h-2zM571 207h1v1h-1zM576 207h1v1h-1zM564 208h1v1h-1zM572 208h1v1h-1zM588 208h1v1h-1zM580 209h1v1h-1zM586 209h1v1h-1zM586 210h1v1h-1zM534 211h1v1h-1z"/><path fill="#646464" d="M519 107h2v1h-2zM562 107h1v1h-1zM583 107h1v1h-1zM534 108h1v1h-1zM541 108h1v1h-1zM548 108h1v1h-1zM569 108h1v1h-1zM528 109h1v1h-1zM548 109h2v1h-2zM524 110h1v1h-1zM528 110h1v1h-1zM563 110h2v1h-2zM570 110h1v1h-1zM579 110h1v1h-1zM518 111h1v1h-1zM530 111h1v1h-1zM543 111h1v1h-1zM554 111h1v1h-1zM579 111h1v1h-1zM587 111h1v1h-1zM523 112h1v1h-1zM534 112h1v1h-1zM542 112h1v1h-1zM550 112h1v1h-1zM577 112h1v1h-1zM586 112h1v1h-1zM542 113h1v1h-1zM545 113h1v1h-1zM551 113h1v1h-1zM576 113h1v1h-1zM588 113h1v1h-1zM542 114h1v1h-1zM551 114h1v1h-1zM575 114h1v1h-1zM578 114h1v1h-1zM523 115h1v1h-1zM577 115h1v1h-1zM517 116h2v1h-2zM533 116h3v1h-3zM556 116h2v1h-2zM560 116h1v1h-1zM567 116h1v1h-1zM581 116h1v1h-1zM517 117h1v1h-1zM545 117h2v1h-2zM553 117h1v1h-1zM561 117h1v1h-1zM568 117h2v1h-2zM515 118h1v1h-1zM525 118h1v1h-1zM529 118h1v1h-1zM551 118h1v1h-1zM556 118h1v1h-1zM561 118h1v1h-1zM567 118h1v1h-1zM571 118h1v1h-1zM582 118h1v1h-1zM586 118h1v1h-1zM535 119h1v1h-1zM580 119h1v1h-1zM517 120h1v1h-1zM550 120h1v1h-1zM555 120h1v1h-1zM569 120h1v1h-1zM573 120h1v1h-1zM578 120h2v1h-2zM522 121h1v1h-1zM543 121h1v1h-1zM549 121h1v1h-1zM551 121h1v1h-1zM514 122h1v1h-1zM545 122h1v1h-1zM587 122h1v1h-1zM502 123h1v1h-1zM517 123h1v1h-1zM530 123h2v1h-2zM558 123h1v1h-1zM586 123h1v1h-1zM511 124h1v1h-1zM517 124h1v1h-1zM532 124h1v1h-1zM535 124h1v1h-1zM539 124h1v1h-1zM555 124h1v1h-1zM572 124h1v1h-1zM582 124h1v1h-1zM510 125h1v1h-1zM519 125h1v1h-1zM542 125h2v1h-2zM558 125h1v1h-1zM560 125h1v1h-1zM562 125h1v1h-1zM586 125h1v1h-1zM519 126h1v1h-1zM521 126h1v1h-1zM525 126h1v1h-1zM528 126h1v1h-1zM538 126h1v1h-1zM569 126h1v1h-1zM507 127h1v1h-1zM513 127h1v1h-1zM515 127h1v1h-1zM526 127h1v1h-1zM528 127h1v1h-1zM534 127h1v1h-1zM539 127h1v1h-1zM548 127h1v1h-1zM552 127h2v1h-2zM569 127h1v1h-1zM587 127h1v1h-1zM506 128h1v1h-1zM511 128h1v1h-1zM514 128h1v1h-1zM531 128h2v1h-2zM536 128h1v1h-1zM559 128h1v1h-1zM580 128h1v1h-1zM503 129h1v1h-1zM507 129h2v1h-2zM511 129h1v1h-1zM517 129h1v1h-1zM519 129h1v1h-1zM536 129h1v1h-1zM553 129h1v1h-1zM560 129h1v1h-1zM573 129h1v1h-1zM506 130h1v1h-1zM526 130h1v1h-1zM540 130h1v1h-1zM558 130h1v1h-1zM571 130h1v1h-1zM577 130h1v1h-1zM579 130h1v1h-1zM507 131h1v1h-1zM516 131h1v1h-1zM533 131h1v1h-1zM542 131h2v1h-2zM562 131h1v1h-1zM576 131h1v1h-1zM505 132h1v1h-1zM517 132h1v1h-1zM525 132h1v1h-1zM534 132h1v1h-1zM539 132h1v1h-1zM541 132h1v1h-1zM551 132h1v1h-1zM558 132h1v1h-1zM569 132h1v1h-1zM583 132h1v1h-1zM521 133h1v1h-1zM526 133h1v1h-1zM542 133h1v1h-1zM554 133h1v1h-1zM557 133h1v1h-1zM572 133h1v1h-1zM580 133h2v1h-2zM588 133h1v1h-1zM517 134h1v1h-1zM520 134h1v1h-1zM536 134h1v1h-1zM557 134h1v1h-1zM559 134h1v1h-1zM565 134h1v1h-1zM567 134h1v1h-1zM570 134h1v1h-1zM581 134h1v1h-1zM509 135h1v1h-1zM515 135h1v1h-1zM530 135h3v1h-3zM534 135h1v1h-1zM540 135h1v1h-1zM561 135h1v1h-1zM576 135h1v1h-1zM582 135h2v1h-2zM588 135h1v1h-1zM507 136h1v1h-1zM509 136h1v1h-1zM528 136h1v1h-1zM544 136h1v1h-1zM564 136h1v1h-1zM570 136h1v1h-1zM518 137h1v1h-1zM520 137h1v1h-1zM571 137h1v1h-1zM581 137h2v1h-2zM523 138h1v1h-1zM562 138h1v1h-1zM570 138h1v1h-1zM574 138h1v1h-1zM588 138h1v1h-1zM516 139h1v1h-1zM531 139h1v1h-1zM547 139h1v1h-1zM552 139h1v1h-1zM562 139h1v1h-1zM585 139h1v1h-1zM506 140h1v1h-1zM524 140h1v1h-1zM553 140h1v1h-1zM542 141h1v1h-1zM551 141h1v1h-1zM563 141h1v1h-1zM570 141h1v1h-1zM523 142h1v1h-1zM553 142h1v1h-1zM570 142h1v1h-1zM587 142h1v1h-1zM520 143h1v1h-1zM524 143h1v1h-1zM552 143h1v1h-1zM500 144h1v1h-1zM503 144h1v1h-1zM538 144h1v1h-1zM540 144h1v1h-1zM568 144h1v1h-1zM574 144h1v1h-1zM505 145h1v1h-1zM507 145h2v1h-2zM511 145h1v1h-1zM541 145h1v1h-1zM545 145h1v1h-1zM558 145h1v1h-1zM501 146h1v1h-1zM504 146h1v1h-1zM510 146h1v1h-1zM513 146h1v1h-1zM516 146h1v1h-1zM519 146h2v1h-2zM525 146h1v1h-1zM534 146h1v1h-1zM545 146h2v1h-2zM574 146h1v1h-1zM509 147h1v1h-1zM512 147h1v1h-1zM514 147h2v1h-2zM517 147h1v1h-1zM526 147h1v1h-1zM530 147h1v1h-1zM563 147h1v1h-1zM570 147h1v1h-1zM500 148h1v1h-1zM502 148h1v1h-1zM514 148h2v1h-2zM519 148h1v1h-1zM529 148h1v1h-1zM544 148h1v1h-1zM561 148h1v1h-1zM564 148h2v1h-2zM526 149h1v1h-1zM565 149h1v1h-1zM570 149h1v1h-1zM586 149h1v1h-1zM499 150h1v1h-1zM509 150h1v1h-1zM517 150h1v1h-1zM536 150h1v1h-1zM548 150h1v1h-1zM556 150h1v1h-1zM576 150h2v1h-2zM579 150h1v1h-1zM498 151h1v1h-1zM513 151h1v1h-1zM517 151h1v1h-1zM536 151h1v1h-1zM543 151h1v1h-1zM547 151h1v1h-1zM560 151h1v1h-1zM562 151h1v1h-1zM584 151h1v1h-1zM519 152h1v1h-1zM526 152h1v1h-1zM531 152h2v1h-2zM536 152h1v1h-1zM538 152h1v1h-1zM553 152h1v1h-1zM561 152h1v1h-1zM564 152h1v1h-1zM568 152h1v1h-1zM575 152h1v1h-1zM585 152h1v1h-1zM503 153h1v1h-1zM509 153h1v1h-1zM515 153h1v1h-1zM517 153h1v1h-1zM519 153h1v1h-1zM526 153h1v1h-1zM530 153h1v1h-1zM539 153h1v1h-1zM575 153h1v1h-1zM499 154h1v1h-1zM504 154h1v1h-1zM509 154h1v1h-1zM513 154h1v1h-1zM544 154h1v1h-1zM547 154h1v1h-1zM554 154h1v1h-1zM566 154h1v1h-1zM500 155h1v1h-1zM502 155h1v1h-1zM514 155h1v1h-1zM519 155h1v1h-1zM521 155h1v1h-1zM532 155h1v1h-1zM534 155h1v1h-1zM540 155h1v1h-1zM550 155h1v1h-1zM553 155h1v1h-1zM555 155h1v1h-1zM557 155h1v1h-1zM562 155h1v1h-1zM565 155h1v1h-1zM574 155h1v1h-1zM579 155h1v1h-1zM583 155h1v1h-1zM502 156h1v1h-1zM511 156h1v1h-1zM514 156h1v1h-1zM516 156h1v1h-1zM519 156h1v1h-1zM562 156h1v1h-1zM568 156h1v1h-1zM588 156h1v1h-1zM504 157h1v1h-1zM516 157h1v1h-1zM519 157h1v1h-1zM533 157h2v1h-2zM541 157h1v1h-1zM582 157h1v1h-1zM502 158h1v1h-1zM507 158h1v1h-1zM515 158h1v1h-1zM518 158h1v1h-1zM536 158h1v1h-1zM539 158h1v1h-1zM552 158h1v1h-1zM575 158h1v1h-1zM580 158h1v1h-1zM525 159h1v1h-1zM538 159h1v1h-1zM548 159h2v1h-2zM552 159h1v1h-1zM556 159h1v1h-1zM563 159h1v1h-1zM575 159h1v1h-1zM546 160h1v1h-1zM568 160h1v1h-1zM515 161h1v1h-1zM525 161h1v1h-1zM542 161h1v1h-1zM548 161h1v1h-1zM564 161h1v1h-1zM567 161h1v1h-1zM587 161h2v1h-2zM502 162h1v1h-1zM520 162h1v1h-1zM522 162h1v1h-1zM524 162h1v1h-1zM530 162h1v1h-1zM537 162h2v1h-2zM541 162h1v1h-1zM554 162h1v1h-1zM576 162h1v1h-1zM578 162h1v1h-1zM499 163h1v1h-1zM501 163h1v1h-1zM532 163h1v1h-1zM543 163h1v1h-1zM554 163h1v1h-1zM587 163h2v1h-2zM510 164h1v1h-1zM515 164h1v1h-1zM536 164h1v1h-1zM557 164h1v1h-1zM567 164h2v1h-2zM579 164h1v1h-1zM506 165h1v1h-1zM531 165h1v1h-1zM542 165h1v1h-1zM563 165h2v1h-2zM502 166h1v1h-1zM512 166h1v1h-1zM515 166h1v1h-1zM532 166h1v1h-1zM534 166h1v1h-1zM544 166h2v1h-2zM550 166h1v1h-1zM566 166h1v1h-1zM572 166h1v1h-1zM578 166h1v1h-1zM584 166h1v1h-1zM513 167h1v1h-1zM528 167h1v1h-1zM530 167h2v1h-2zM562 167h1v1h-1zM570 167h1v1h-1zM507 168h2v1h-2zM538 168h1v1h-1zM553 168h1v1h-1zM562 168h1v1h-1zM573 168h1v1h-1zM577 168h1v1h-1zM581 168h1v1h-1zM585 168h1v1h-1zM511 169h1v1h-1zM515 169h1v1h-1zM523 169h1v1h-1zM526 169h3v1h-3zM530 169h1v1h-1zM532 169h1v1h-1zM541 169h1v1h-1zM545 169h1v1h-1zM556 169h1v1h-1zM558 169h2v1h-2zM576 169h1v1h-1zM581 169h1v1h-1zM499 170h1v1h-1zM507 170h1v1h-1zM513 170h1v1h-1zM518 170h1v1h-1zM557 170h1v1h-1zM575 170h2v1h-2zM499 171h1v1h-1zM502 171h1v1h-1zM505 171h1v1h-1zM517 171h1v1h-1zM520 171h1v1h-1zM524 171h1v1h-1zM535 171h2v1h-2zM541 171h1v1h-1zM545 171h1v1h-1zM551 171h1v1h-1zM561 171h1v1h-1zM563 171h2v1h-2zM577 171h1v1h-1zM579 171h1v1h-1zM503 172h1v1h-1zM505 172h1v1h-1zM512 172h1v1h-1zM515 172h1v1h-1zM518 172h1v1h-1zM527 172h2v1h-2zM530 172h1v1h-1zM543 172h1v1h-1zM548 172h1v1h-1zM550 172h1v1h-1zM565 172h1v1h-1zM568 172h1v1h-1zM574 172h1v1h-1zM517 173h1v1h-1zM523 173h1v1h-1zM525 173h2v1h-2zM534 173h1v1h-1zM536 173h1v1h-1zM542 173h1v1h-1zM551 173h1v1h-1zM559 173h1v1h-1zM572 173h1v1h-1zM508 174h1v1h-1zM513 174h1v1h-1zM518 174h1v1h-1zM527 174h1v1h-1zM553 174h1v1h-1zM562 174h1v1h-1zM502 175h1v1h-1zM507 175h1v1h-1zM513 175h1v1h-1zM520 175h1v1h-1zM532 175h2v1h-2zM537 175h4v1h-4zM553 175h1v1h-1zM566 175h1v1h-1zM573 175h2v1h-2zM580 175h1v1h-1zM584 175h1v1h-1zM515 176h1v1h-1zM524 176h1v1h-1zM526 176h1v1h-1zM535 176h1v1h-1zM550 176h2v1h-2zM566 176h1v1h-1zM571 176h1v1h-1zM578 176h1v1h-1zM580 176h1v1h-1zM582 176h1v1h-1zM505 177h2v1h-2zM510 177h1v1h-1zM512 177h1v1h-1zM516 177h2v1h-2zM519 177h2v1h-2zM538 177h1v1h-1zM540 177h1v1h-1zM542 177h2v1h-2zM546 177h1v1h-1zM562 177h3v1h-3zM573 177h1v1h-1zM575 177h2v1h-2zM500 178h1v1h-1zM506 178h1v1h-1zM520 178h1v1h-1zM544 178h1v1h-1zM559 178h1v1h-1zM566 178h1v1h-1zM568 178h1v1h-1zM571 178h1v1h-1zM579 178h1v1h-1zM581 178h1v1h-1zM584 178h1v1h-1zM588 178h1v1h-1zM498 179h1v1h-1zM503 179h2v1h-2zM507 179h1v1h-1zM511 179h1v1h-1zM517 179h1v1h-1zM519 179h1v1h-1zM522 179h1v1h-1zM541 179h1v1h-1zM558 179h1v1h-1zM564 179h1v1h-1zM569 179h1v1h-1zM585 179h1v1h-1zM499 180h1v1h-1zM503 180h1v1h-1zM508 180h1v1h-1zM534 180h1v1h-1zM541 180h2v1h-2zM545 180h1v1h-1zM547 180h1v1h-1zM571 180h2v1h-2zM574 180h1v1h-1zM579 180h1v1h-1zM501 181h1v1h-1zM515 181h2v1h-2zM527 181h1v1h-1zM539 181h1v1h-1zM542 181h1v1h-1zM559 181h1v1h-1zM568 181h1v1h-1zM570 181h1v1h-1zM579 181h1v1h-1zM582 181h1v1h-1zM586 181h1v1h-1zM504 182h1v1h-1zM518 182h1v1h-1zM543 182h1v1h-1zM547 182h1v1h-1zM550 182h1v1h-1zM574 182h1v1h-1zM583 182h1v1h-1zM585 182h1v1h-1zM503 183h2v1h-2zM523 183h1v1h-1zM528 183h1v1h-1zM533 183h1v1h-1zM536 183h1v1h-1zM541 183h1v1h-1zM547 183h1v1h-1zM550 183h1v1h-1zM552 183h1v1h-1zM554 183h1v1h-1zM559 183h1v1h-1zM563 183h1v1h-1zM574 183h1v1h-1zM576 183h1v1h-1zM580 183h1v1h-1zM508 184h1v1h-1zM510 184h1v1h-1zM527 184h1v1h-1zM541 184h1v1h-1zM544 184h1v1h-1zM552 184h1v1h-1zM567 184h1v1h-1zM581 184h1v1h-1zM583 184h2v1h-2zM587 184h1v1h-1zM505 185h1v1h-1zM507 185h1v1h-1zM523 185h1v1h-1zM525 185h1v1h-1zM527 185h1v1h-1zM533 185h1v1h-1zM536 185h1v1h-1zM539 185h1v1h-1zM555 185h1v1h-1zM574 185h1v1h-1zM583 185h1v1h-1zM509 186h1v1h-1zM531 186h3v1h-3zM538 186h2v1h-2zM567 186h1v1h-1zM571 186h1v1h-1zM585 186h1v1h-1zM517 187h1v1h-1zM527 187h1v1h-1zM539 187h1v1h-1zM541 187h1v1h-1zM548 187h1v1h-1zM569 187h1v1h-1zM573 187h1v1h-1zM582 187h1v1h-1zM508 188h1v1h-1zM519 188h1v1h-1zM522 188h1v1h-1zM538 188h1v1h-1zM540 188h2v1h-2zM552 188h1v1h-1zM557 188h1v1h-1zM562 188h1v1h-1zM564 188h1v1h-1zM578 188h1v1h-1zM508 189h1v1h-1zM527 189h1v1h-1zM536 189h2v1h-2zM539 189h1v1h-1zM553 189h1v1h-1zM575 189h1v1h-1zM582 189h1v1h-1zM506 190h1v1h-1zM513 190h1v1h-1zM528 190h1v1h-1zM532 190h1v1h-1zM535 190h2v1h-2zM539 190h1v1h-1zM542 190h2v1h-2zM553 190h1v1h-1zM566 190h1v1h-1zM569 190h1v1h-1zM585 190h1v1h-1zM587 190h1v1h-1zM506 191h1v1h-1zM510 191h1v1h-1zM534 191h1v1h-1zM544 191h2v1h-2zM555 191h1v1h-1zM575 191h1v1h-1zM577 191h1v1h-1zM501 192h1v1h-1zM505 192h1v1h-1zM510 192h1v1h-1zM517 192h1v1h-1zM538 192h1v1h-1zM545 192h1v1h-1zM556 192h1v1h-1zM569 192h1v1h-1zM577 192h1v1h-1zM584 192h1v1h-1zM499 193h2v1h-2zM504 193h1v1h-1zM522 193h1v1h-1zM528 193h1v1h-1zM540 193h1v1h-1zM546 193h1v1h-1zM548 193h1v1h-1zM562 193h1v1h-1zM570 193h1v1h-1zM572 193h1v1h-1zM579 193h1v1h-1zM587 193h1v1h-1zM503 194h1v1h-1zM528 194h1v1h-1zM539 194h1v1h-1zM544 194h1v1h-1zM549 194h1v1h-1zM560 194h1v1h-1zM577 194h1v1h-1zM581 194h1v1h-1zM588 194h1v1h-1zM522 195h1v1h-1zM527 195h1v1h-1zM530 195h1v1h-1zM540 195h1v1h-1zM546 195h3v1h-3zM558 195h1v1h-1zM560 195h1v1h-1zM576 195h1v1h-1zM500 196h1v1h-1zM502 196h1v1h-1zM511 196h1v1h-1zM513 196h1v1h-1zM533 196h1v1h-1zM541 196h1v1h-1zM549 196h1v1h-1zM561 196h2v1h-2zM577 196h1v1h-1zM581 196h1v1h-1zM499 197h1v1h-1zM510 197h1v1h-1zM517 197h1v1h-1zM520 197h1v1h-1zM522 197h1v1h-1zM525 197h2v1h-2zM537 197h1v1h-1zM543 197h1v1h-1zM551 197h1v1h-1zM554 197h1v1h-1zM560 197h1v1h-1zM563 197h3v1h-3zM578 197h2v1h-2zM583 197h1v1h-1zM504 198h1v1h-1zM512 198h1v1h-1zM530 198h1v1h-1zM534 198h1v1h-1zM547 198h2v1h-2zM553 198h1v1h-1zM564 198h1v1h-1zM568 198h1v1h-1zM575 198h1v1h-1zM577 198h1v1h-1zM579 198h1v1h-1zM588 198h1v1h-1zM500 199h1v1h-1zM506 199h1v1h-1zM508 199h2v1h-2zM520 199h1v1h-1zM528 199h1v1h-1zM551 199h1v1h-1zM553 199h1v1h-1zM575 199h1v1h-1zM577 199h1v1h-1zM581 199h1v1h-1zM587 199h1v1h-1zM504 200h1v1h-1zM513 200h1v1h-1zM529 200h1v1h-1zM552 200h1v1h-1zM560 200h1v1h-1zM571 200h1v1h-1zM588 200h1v1h-1zM525 201h1v1h-1zM529 201h1v1h-1zM548 201h1v1h-1zM553 201h1v1h-1zM575 201h2v1h-2zM588 201h1v1h-1zM504 202h1v1h-1zM522 202h1v1h-1zM537 202h1v1h-1zM559 202h1v1h-1zM565 202h1v1h-1zM572 202h1v1h-1zM583 202h1v1h-1zM586 202h1v1h-1zM509 203h1v1h-1zM516 203h1v1h-1zM525 203h1v1h-1zM528 203h1v1h-1zM531 203h1v1h-1zM537 203h2v1h-2zM542 203h1v1h-1zM559 203h1v1h-1zM561 203h2v1h-2zM576 203h1v1h-1zM582 203h1v1h-1zM587 203h1v1h-1zM510 204h2v1h-2zM521 204h1v1h-1zM532 204h1v1h-1zM543 204h1v1h-1zM551 204h1v1h-1zM570 204h1v1h-1zM573 204h1v1h-1zM576 204h2v1h-2zM524 205h1v1h-1zM533 205h1v1h-1zM547 205h1v1h-1zM554 205h1v1h-1zM559 205h1v1h-1zM567 205h1v1h-1zM574 205h1v1h-1zM587 205h2v1h-2zM549 206h1v1h-1zM566 206h1v1h-1zM575 206h1v1h-1zM577 206h1v1h-1zM558 207h1v1h-1zM577 207h1v1h-1zM563 208h1v1h-1zM568 208h1v1h-1zM570 208h1v1h-1zM578 208h1v1h-1zM580 208h2v1h-2zM586 208h2v1h-2z"/><path fill="#878787" d="M499 107h1v1h-1zM512 107h3v1h-3zM517 107h2v1h-2zM512 108h8v1h-8zM509 109h1v1h-1zM511 109h4v1h-4zM518 109h1v1h-1zM510 110h1v1h-1zM513 110h1v1h-1zM515 110h4v1h-4zM510 111h1v1h-1zM512 111h2v1h-2zM515 111h3v1h-3zM515 112h2v1h-2zM505 113h1v1h-1zM515 113h2v1h-2zM508 114h1v1h-1zM514 114h1v1h-1zM505 115h1v1h-1zM507 115h1v1h-1zM498 116h1v1h-1zM504 116h3v1h-3zM510 116h7v1h-7zM498 117h2v1h-2zM508 117h8v1h-8zM518 117h1v1h-1zM498 118h1v1h-1zM502 118h1v1h-1zM507 118h5v1h-5zM514 118h1v1h-1zM516 118h2v1h-2zM498 119h1v1h-1zM501 119h2v1h-2zM505 119h1v1h-1zM507 119h2v1h-2zM510 119h4v1h-4zM515 119h1v1h-1zM498 120h1v1h-1zM502 120h1v1h-1zM506 120h3v1h-3zM510 120h3v1h-3zM514 120h1v1h-1zM516 120h1v1h-1zM506 121h2v1h-2zM514 121h1v1h-1zM505 122h2v1h-2zM515 122h2v1h-2zM506 123h3v1h-3zM514 123h3v1h-3zM499 124h1v1h-1zM505 124h1v1h-1zM508 124h1v1h-1zM514 124h2v1h-2zM501 125h1v1h-1zM504 125h1v1h-1zM506 125h3v1h-3zM511 125h1v1h-1zM513 125h2v1h-2zM499 126h8v1h-8zM511 126h3v1h-3zM516 126h1v1h-1zM498 127h1v1h-1zM504 127h1v1h-1zM506 127h1v1h-1zM511 127h2v1h-2zM501 128h1v1h-1zM504 128h1v1h-1zM507 128h1v1h-1zM509 128h2v1h-2zM512 128h1v1h-1zM501 129h1v1h-1zM504 129h1v1h-1zM509 129h1v1h-1zM499 130h1v1h-1zM505 130h1v1h-1zM498 131h1v1h-1zM498 132h2v1h-2zM498 136h1v1h-1zM498 140h2v1h-2zM498 141h2v1h-2zM499 142h1v1h-1zM498 144h2v1h-2zM504 203h4v1h-4zM566 203h1v1h-1zM508 204h1v1h-1zM513 204h1v1h-1zM517 204h1v1h-1zM519 204h1v1h-1zM529 204h1v1h-1zM531 204h1v1h-1zM534 204h1v1h-1zM523 205h1v1h-1zM529 205h1v1h-1zM531 205h2v1h-2zM539 205h1v1h-1zM541 205h1v1h-1zM582 205h1v1h-1zM537 206h1v1h-1zM541 206h1v1h-1zM544 206h1v1h-1zM567 208h1v1h-1zM575 208h2v1h-2zM577 209h2v1h-2zM585 209h1v1h-1z"/><path fill="#afafaf" d="M502 107h10v1h-10zM515 107h2v1h-2zM498 108h1v1h-1zM502 108h6v1h-6zM509 108h3v1h-3zM498 109h4v1h-4zM503 109h1v1h-1zM505 109h4v1h-4zM516 109h2v1h-2zM498 110h1v1h-1zM501 110h2v1h-2zM504 110h1v1h-1zM506 110h2v1h-2zM509 110h1v1h-1zM511 110h1v1h-1zM514 110h1v1h-1zM498 111h2v1h-2zM501 111h9v1h-9zM511 111h1v1h-1zM499 112h1v1h-1zM505 112h2v1h-2zM508 112h1v1h-1zM514 112h1v1h-1zM517 112h1v1h-1zM499 113h1v1h-1zM506 113h3v1h-3zM514 113h1v1h-1zM517 113h1v1h-1zM499 114h1v1h-1zM505 114h1v1h-1zM507 114h1v1h-1zM498 115h1v1h-1zM506 115h1v1h-1zM508 115h1v1h-1zM515 115h1v1h-1zM517 115h1v1h-1zM500 116h1v1h-1zM502 116h2v1h-2zM508 116h2v1h-2zM500 117h8v1h-8zM500 118h2v1h-2zM503 118h4v1h-4zM512 118h2v1h-2zM499 119h2v1h-2zM503 119h2v1h-2zM509 119h1v1h-1zM501 120h1v1h-1zM504 120h1v1h-1zM513 120h1v1h-1zM505 121h1v1h-1zM507 122h1v1h-1zM498 123h2v1h-2zM505 123h1v1h-1zM498 124h1v1h-1zM506 124h1v1h-1zM499 125h2v1h-2zM505 125h1v1h-1zM509 125h1v1h-1zM508 126h1v1h-1zM500 127h1v1h-1zM509 127h1v1h-1zM498 128h3v1h-3zM503 128h1v1h-1zM505 128h1v1h-1zM498 129h2v1h-2zM507 130h1v1h-1zM498 133h2v1h-2zM499 134h1v1h-1zM498 138h2v1h-2zM498 139h2v1h-2zM498 142h1v1h-1zM499 143h1v1h-1zM498 145h2v1h-2z"/><path fill="#d7d7d7" d="M498 107h1v1h-1zM500 107h2v1h-2zM499 108h3v1h-3zM508 108h1v1h-1zM502 109h1v1h-1zM504 109h1v1h-1zM500 110h1v1h-1zM503 110h1v1h-1zM505 110h1v1h-1zM500 111h1v1h-1zM498 112h1v1h-1zM498 113h1v1h-1zM498 114h1v1h-1zM499 116h1v1h-1zM501 116h1v1h-1zM499 120h1v1h-1zM498 121h2v1h-2zM498 122h1v1h-1zM499 127h1v1h-1zM498 130h1v1h-1zM498 134h1v1h-1zM498 135h1v1h-1zM499 136h1v1h-1zM498 137h1v1h-1zM498 143h1v1h-1z"/><path fill="#f5f5f5" d="M499 115h1v1h-1zM499 137h1v1h-1z"/></g>
<line x1="45.0" y1="0.5" x2="337.5" y2="0.5" stroke="#999" stroke-width="1.6"/>
<line x1="45.0" y1="0" x2="45.0" y2="218.5" stroke="#000" stroke-width="1"/>
<line x1="44.5" y1="218.0" x2="338.0" y2="218.0" stroke="#000" stroke-width="1"/>
<line x1="337.5" y1="0" x2="337.5" y2="218.5" stroke="#333" stroke-width="1"/>
<path d="M44.9 218.0v4.5 M72.8 218.0v2.6 M100.6 218.0v4.5 M128.5 218.0v2.6 M156.3 218.0v4.5 M184.2 218.0v2.6 M212.0 218.0v4.5 M239.9 218.0v2.6 M267.7 218.0v4.5 M295.6 218.0v2.6 M323.4 218.0v4.5 M45.0 217.8h-4.3 M337.5 217.8h-4.0 M45.0 198.1h-2.6 M337.5 198.1h-2.0 M45.0 178.3h-4.3 M337.5 178.3h-4.0 M45.0 158.6h-2.6 M337.5 158.6h-2.0 M45.0 138.9h-4.3 M337.5 138.9h-4.0 M45.0 119.2h-2.6 M337.5 119.2h-2.0 M45.0 99.4h-4.3 M337.5 99.4h-4.0 M45.0 79.7h-2.6 M337.5 79.7h-2.0 M45.0 60.0h-4.3 M337.5 60.0h-4.0 M45.0 40.2h-2.6 M337.5 40.2h-2.0 M45.0 20.5h-4.3 M337.5 20.5h-4.0" stroke="#333" stroke-width="1" fill="none"/>
<g font-size="10" fill="#222"><text x="45.0" y="233.6" text-anchor="middle">0</text><text x="100.7" y="233.6" text-anchor="middle">20</text><text x="156.4" y="233.6" text-anchor="middle">40</text><text x="212.1" y="233.6" text-anchor="middle">60</text><text x="267.8" y="233.6" text-anchor="middle">80</text><text x="323.5" y="233.6" text-anchor="middle">100</text><text x="37.6" y="221" text-anchor="end">0.0</text><text x="37.6" y="182" text-anchor="end">0.2</text><text x="37.6" y="142" text-anchor="end">0.4</text><text x="37.6" y="103" text-anchor="end">0.6</text><text x="37.6" y="63" text-anchor="end">0.8</text><text x="37.6" y="24" text-anchor="end">1.0</text></g>
<rect x="385.0" y="4.2" width="290.6" height="215.4" fill="none" stroke="#333" stroke-width="1"/>
<path d="M385.1 219.6v4.5 M409.3 219.6v2.6 M409.3 4.2v2.5 M433.5 219.6v4.5 M433.5 4.2v4.5 M457.7 219.6v2.6 M457.7 4.2v2.5 M481.9 219.6v4.5 M481.9 4.2v4.5 M506.2 219.6v2.6 M506.2 4.2v2.5 M530.4 219.6v4.5 M530.4 4.2v4.5 M554.6 219.6v2.6 M554.6 4.2v2.5 M578.8 219.6v4.5 M578.8 4.2v4.5 M603.0 219.6v2.6 M603.0 4.2v2.5 M627.2 219.6v4.5 M627.2 4.2v4.5 M651.4 219.6v2.6 M651.4 4.2v2.5 M675.6 219.6v4.5 M385.0 219.6h-4.3 M675.6 219.6h-4.0 M385.0 198.6h-2.6 M675.6 198.6h-2.0 M385.0 177.6h-4.3 M675.6 177.6h-4.0 M385.0 156.5h-2.6 M675.6 156.5h-2.0 M385.0 135.5h-4.3 M675.6 135.5h-4.0 M385.0 114.5h-2.6 M675.6 114.5h-2.0 M385.0 93.5h-4.3 M675.6 93.5h-4.0 M385.0 72.5h-2.6 M675.6 72.5h-2.0 M385.0 51.4h-4.3 M675.6 51.4h-4.0 M385.0 30.4h-2.6 M675.6 30.4h-2.0 M385.0 9.4h-4.3 M675.6 9.4h-4.0" stroke="#333" stroke-width="1" fill="none"/>
<g font-size="10" fill="#222"><text x="385.1" y="235.4" text-anchor="middle">0</text><text x="433.5" y="235.4" text-anchor="middle">20</text><text x="481.9" y="235.4" text-anchor="middle">40</text><text x="530.4" y="235.4" text-anchor="middle">60</text><text x="578.8" y="235.4" text-anchor="middle">80</text><text x="627.2" y="235.4" text-anchor="middle">100</text><text x="675.6" y="235.4" text-anchor="middle">120</text><text x="378.2" y="223.1" text-anchor="end">0.0</text><text x="378.2" y="181.1" text-anchor="end">0.2</text><text x="378.2" y="139.0" text-anchor="end">0.4</text><text x="378.2" y="97.0" text-anchor="end">0.6</text><text x="378.2" y="54.9" text-anchor="end">0.8</text><text x="378.2" y="12.9" text-anchor="end">1.0</text></g>
<text x="157.4" y="248.1" font-size="13.15" fill="#111">time (min)</text>
<text x="501.7" y="248.9" font-size="13.15" fill="#111">time (min)</text>
<text transform="translate(9.8 214.1) rotate(-90)" font-size="13" fill="#111">Normalized cell count in chamber</text>
<text transform="translate(354.9 206.8) rotate(-90)" font-size="13" fill="#111">Normalized cell count in chamber</text>
<text x="51.0" y="25.5" font-size="34" fill="#000">a</text>
<text x="390.9" y="31.3" font-size="33" fill="#000">b</text>
<path d="M45.4 65.2 L46.8 61.5 L48.2 63.9 L49.6 64.2 L51.0 70.4 L52.4 74.2 L53.8 77.1 L55.2 79.6 L56.6 80.3 L58.0 81.8 L59.4 84.8 L60.8 84.3 L62.2 83.6 L63.6 82.5 L65.0 83.7 L66.4 83.7 L67.8 82.2 L69.2 83.4 L70.6 82.6 L72.0 79.7 L73.4 77.8 L74.8 77.0 L76.2 75.9 L77.6 72.9 L79.0 71.4 L80.4 71.4 L81.8 70.1 L83.2 70.1 L84.6 70.5 L86.0 70.6 L87.4 70.0 L88.8 69.6 L90.2 68.5 L91.6 68.0 L93.0 66.9 L94.4 65.6 L95.8 66.7 L97.2 65.2 L98.6 64.5 L100.0 62.5 L101.4 63.6 L102.8 63.1 L104.2 61.3 L105.6 61.5 L107.0 61.3 L108.4 60.1 L109.8 59.4 L111.2 58.1 L112.6 59.7 L114.0 60.1 L115.4 60.3 L116.8 61.8 L118.2 63.4 L119.6 62.6 L121.0 61.4 L122.4 61.2 L123.8 59.3 L125.2 58.7 L126.6 58.9 L128.0 57.1 L129.4 55.7 L130.8 55.6 L132.2 56.3 L133.6 57.0 L135.0 55.6 L136.4 54.0 L137.8 52.2 L139.2 50.4 L140.6 47.4 L142.0 47.2 L143.4 47.4 L144.8 46.4 L146.2 45.7 L147.6 46.1 L149.0 46.0 L150.4 44.9 L151.8 44.3 L153.2 43.6 L154.6 43.5 L156.0 43.7 L157.4 42.4 L158.8 41.1 L160.2 41.0 L161.6 38.1 L163.0 37.1 L164.4 35.9 L165.8 32.6 L167.2 29.5 L168.6 26.2 L170.0 24.1 L171.4 22.3 L172.8 24.1 L174.2 29.8 L175.6 27.8 L177.0 24.5 L178.4 23.9 L179.8 23.8 L181.2 22.8 L182.6 22.3 L184.0 21.4 L185.4 21.6 L186.8 24.4 L188.2 24.7 L189.6 24.5 L191.0 25.7 L192.4 26.2 L193.8 26.3 L195.2 26.7 L196.6 29.4 L198.0 31.4 L199.4 32.2 L200.8 32.8 L202.2 32.9 L203.6 34.6 L205.0 35.9 L206.4 38.3 L207.8 40.6 L209.2 42.3 L210.6 45.2 L212.0 47.5 L213.4 47.8 L214.8 50.5 L216.2 52.0 L217.6 53.2 L219.0 56.4 L220.4 59.2 L221.8 63.8 L223.2 65.9 L224.6 68.5 L226.0 72.6 L227.4 74.7 L228.8 77.5 L230.2 81.4 L231.6 85.6 L233.0 88.5 L234.4 91.9 L235.8 95.7 L237.2 98.0 L238.6 100.5 L240.0 103.6 L241.4 105.4 L242.8 109.6 L244.2 113.1 L245.6 116.1 L247.0 119.3 L248.4 122.8 L249.8 123.7 L251.2 125.6 L252.6 129.1 L254.0 131.4 L255.4 131.5 L256.8 133.4 L258.2 135.4 L259.6 138.1 L261.0 138.3 L262.4 140.9 L263.8 142.2 L265.2 143.3 L266.6 144.0 L268.0 147.1 L269.4 148.2 L270.8 148.7 L272.2 149.2 L273.6 151.3 L275.0 151.9 L276.4 153.2 L277.8 153.3 L279.2 154.7 L280.6 154.2 L282.0 155.4 L283.4 157.6 L284.8 158.0 L286.2 157.5 L287.6 159.4 L289.0 158.9 L290.4 161.0 L291.8 161.2 L293.2 161.0 L294.6 161.1 L296.0 161.0 L297.4 163.3 L298.8 161.8 L300.2 163.9 L301.6 164.5 L303.0 164.0 L304.4 163.4 L305.8 165.3 L307.2 166.0 L308.6 165.9 L310.0 165.9 L311.4 166.1 L312.8 166.4 L314.2 166.4 L315.6 167.8 L317.0 167.6 L318.4 167.5 L319.8 167.6 L321.2 169.1 L322.6 168.6 L324.0 169.4 L325.4 169.3" stroke="#1010e0" stroke-width="1.1" fill="none"/>
<path d="M45.6 72.0 L47.0 71.5 L48.4 71.9 L49.8 74.8 L51.2 79.4 L52.6 79.9 L54.0 80.5 L55.4 80.8 L56.8 83.6 L58.2 86.5 L59.6 88.1 L61.0 88.4 L62.4 89.5 L63.8 90.0 L65.2 91.4 L66.6 92.5 L68.0 92.6 L69.4 90.9 L70.8 90.3 L72.2 89.6 L73.6 88.4 L75.0 87.7 L76.4 87.9 L77.8 87.0 L79.2 86.5 L80.6 87.3 L82.0 86.1 L83.4 85.8 L84.8 84.5 L86.2 83.4 L87.6 83.5 L89.0 82.6 L90.4 82.9 L91.8 83.5 L93.2 82.3 L94.6 80.8 L96.0 81.9 L97.4 81.3 L98.8 80.7 L100.2 80.7 L101.6 80.1 L103.0 79.9 L104.4 78.7 L105.8 79.8 L107.2 79.5 L108.6 77.4 L110.0 78.4 L111.4 78.0 L112.8 77.1 L114.2 77.0 L115.6 76.8 L117.0 77.6 L118.4 76.5 L119.8 76.6 L121.2 74.9 L122.6 75.4 L124.0 74.7 L125.4 72.9 L126.8 72.2 L128.2 72.1 L129.6 70.7 L131.0 69.2 L132.4 67.7 L133.8 67.0 L135.2 66.6 L136.6 64.0 L138.0 64.3 L139.4 61.7 L140.8 62.4 L142.2 60.3 L143.6 61.1 L145.0 60.0 L146.4 59.1 L147.8 58.7 L149.2 57.8 L150.6 55.7 L152.0 53.6 L153.4 52.8 L154.8 52.9 L156.2 53.2 L157.6 51.4 L159.0 49.1 L160.4 49.5 L161.8 48.6 L163.2 48.7 L164.6 46.9 L166.0 47.8 L167.4 45.6 L168.8 46.2 L170.2 44.7 L171.6 44.1 L173.0 45.1 L174.4 42.9 L175.8 43.2 L177.2 42.9 L178.6 40.7 L180.0 43.6 L181.4 43.3 L182.8 40.6 L184.2 40.3 L185.6 38.1 L187.0 38.1 L188.4 37.0 L189.8 37.7 L191.2 35.9 L192.6 37.3 L194.0 34.8 L195.4 35.6 L196.8 32.5 L198.2 31.6 L199.6 32.8 L201.0 31.3 L202.4 31.3 L203.8 32.0 L205.2 30.7 L206.6 29.3 L208.0 30.9 L209.4 28.6 L210.8 28.0 L212.2 28.3 L213.6 28.5 L215.0 28.4 L216.4 26.7 L217.8 28.0 L219.2 25.2 L220.6 24.0 L222.0 24.4 L223.4 24.0 L224.8 23.8 L226.2 22.9 L227.6 22.7 L229.0 22.0 L230.4 21.2 L231.8 20.6 L233.2 21.9 L234.6 21.7 L236.0 23.9 L237.4 24.9 L238.8 25.8 L240.2 24.6 L241.6 26.4 L243.0 26.5 L244.4 27.1 L245.8 26.6 L247.2 28.0 L248.6 26.1 L250.0 28.4 L251.4 29.8 L252.8 30.4 L254.2 33.0 L255.6 33.4 L257.0 34.7 L258.4 36.0 L259.8 36.9 L261.2 40.2 L262.6 42.4 L264.0 44.2 L265.4 47.4 L266.8 48.9 L268.2 50.4 L269.6 49.7 L271.0 53.0 L272.4 55.4 L273.8 61.2 L275.2 66.5 L276.6 71.3 L278.0 75.5 L279.4 80.1 L280.8 85.6 L282.2 90.7 L283.6 94.5 L285.0 99.2 L286.4 104.5 L287.8 108.4 L289.2 114.2 L290.6 117.6 L292.0 121.7 L293.4 126.1 L294.8 130.6 L296.2 134.9 L297.6 139.3 L299.0 142.8 L300.4 145.5 L301.8 149.1 L303.2 151.0 L304.6 155.3 L306.0 158.1 L307.4 160.2 L308.8 161.4 L310.2 164.0 L311.6 166.0 L313.0 165.7 L314.4 167.3 L315.8 168.5 L317.2 168.8 L318.6 169.7 L320.0 172.3 L321.4 172.3 L322.8 173.7 L324.2 175.4 L325.6 175.6" stroke="#000" stroke-width="1.1" fill="none"/>
<path d="M45.2 78.9 L46.6 72.1 L48.0 72.0 L49.4 72.9 L50.8 73.4 L52.2 70.7 L53.6 69.5 L55.0 72.0 L56.4 72.3 L57.8 73.9 L59.2 76.6 L60.6 78.1 L62.0 81.6 L63.4 83.0 L64.8 86.3 L66.2 87.6 L67.6 90.1 L69.0 91.3 L70.4 90.3 L71.8 90.3 L73.2 90.2 L74.6 88.3 L76.0 88.5 L77.4 87.2 L78.8 86.0 L80.2 87.8 L81.6 89.6 L83.0 88.3 L84.4 88.3 L85.8 88.8 L87.2 89.1 L88.6 90.3 L90.0 89.7 L91.4 89.9 L92.8 88.4 L94.2 88.8 L95.6 88.1 L97.0 85.9 L98.4 85.6 L99.8 85.2 L101.2 86.2 L102.6 84.3 L104.0 84.0 L105.4 82.6 L106.8 83.7 L108.2 84.2 L109.6 84.6 L111.0 85.3 L112.4 85.0 L113.8 85.5 L115.2 86.0 L116.6 87.4 L118.0 88.2 L119.4 88.5 L120.8 87.6 L122.2 86.3 L123.6 87.2 L125.0 86.3 L126.4 85.0 L127.8 83.1 L129.2 83.0 L130.6 81.4 L132.0 82.3 L133.4 80.6 L134.8 78.3 L136.2 76.1 L137.6 76.1 L139.0 74.8 L140.4 71.2 L141.8 71.1 L143.2 69.3 L144.6 68.0 L146.0 67.5 L147.4 67.7 L148.8 66.8 L150.2 63.9 L151.6 64.1 L153.0 61.5 L154.4 61.6 L155.8 59.4 L157.2 60.4 L158.6 61.2 L160.0 60.7 L161.4 60.8 L162.8 57.9 L164.2 56.1 L165.6 56.1 L167.0 53.8 L168.4 54.3 L169.8 54.6 L171.2 54.3 L172.6 52.4 L174.0 51.3 L175.4 52.0 L176.8 49.7 L178.2 50.0 L179.6 49.1 L181.0 47.4 L182.4 47.0 L183.8 46.5 L185.2 46.1 L186.6 45.3 L188.0 44.5 L189.4 44.1 L190.8 44.3 L192.2 42.8 L193.6 42.3 L195.0 42.7 L196.4 42.0 L197.8 41.5 L199.2 42.3 L200.6 40.7 L202.0 40.2 L203.4 38.5 L204.8 38.9 L206.2 38.7 L207.6 36.8 L209.0 37.5 L210.4 37.1 L211.8 35.3 L213.2 36.1 L214.6 35.3 L216.0 35.5 L217.4 34.5 L218.8 34.9 L220.2 34.3 L221.6 32.0 L223.0 31.4 L224.4 32.0 L225.8 32.0 L227.2 29.7 L228.6 29.6 L230.0 29.4 L231.4 28.3 L232.8 27.9 L234.2 27.4 L235.6 27.0 L237.0 27.0 L238.4 26.0 L239.8 26.0 L241.2 26.6 L242.6 24.7 L244.0 25.7 L245.4 25.8 L246.8 24.6 L248.2 23.0 L249.6 22.7 L251.0 23.3 L252.4 24.2 L253.8 24.5 L255.2 24.9 L256.6 23.3 L258.0 22.9 L259.4 22.0 L260.8 22.5 L262.2 21.4 L263.6 22.1 L265.0 20.4 L266.4 20.5 L267.8 22.0 L269.2 24.4 L270.6 23.6 L272.0 22.9 L273.4 22.2 L274.8 22.4 L276.2 21.7 L277.6 24.9 L279.0 26.0 L280.4 24.9 L281.8 25.6 L283.2 27.4 L284.6 27.9 L286.0 31.0 L287.4 32.4 L288.8 33.7 L290.2 35.9 L291.6 39.1 L293.0 40.0 L294.4 42.0 L295.8 43.9 L297.2 46.1 L298.6 48.7 L300.0 53.1 L301.4 54.9 L302.8 57.5 L304.2 62.4 L305.6 65.0 L307.0 68.3 L308.4 70.1 L309.8 75.2 L311.2 79.4 L312.6 82.4 L314.0 88.2 L315.4 92.5 L316.8 95.9 L318.2 99.4 L319.6 103.0 L321.0 107.3 L322.4 110.8 L323.8 113.9 L325.2 119.3" stroke="#e81010" stroke-width="1.1" fill="none"/>
<path d="M383.8 44.4h4.8v4.8h-4.8zM385.6 45.2h4.8v4.8h-4.8zM387.2 44.9h4.8v4.8h-4.8zM388.4 41.7h4.8v4.8h-4.8zM390.1 45.6h4.8v4.8h-4.8zM391.2 45.3h4.8v4.8h-4.8zM392.9 43.3h4.8v4.8h-4.8zM394.9 43.6h4.8v4.8h-4.8zM396.1 41.1h4.8v4.8h-4.8zM398.4 42.2h4.8v4.8h-4.8zM399.3 44.3h4.8v4.8h-4.8zM400.8 44.4h4.8v4.8h-4.8zM402.4 43.6h4.8v4.8h-4.8zM404.8 40.9h4.8v4.8h-4.8zM405.7 41.8h4.8v4.8h-4.8zM408.0 45.1h4.8v4.8h-4.8zM409.7 42.2h4.8v4.8h-4.8zM411.0 43.4h4.8v4.8h-4.8zM412.8 42.1h4.8v4.8h-4.8zM414.5 44.4h4.8v4.8h-4.8zM415.4 45.5h4.8v4.8h-4.8zM416.9 43.3h4.8v4.8h-4.8zM418.4 42.7h4.8v4.8h-4.8zM420.5 43.7h4.8v4.8h-4.8zM422.2 42.8h4.8v4.8h-4.8zM423.4 44.6h4.8v4.8h-4.8zM425.2 47.1h4.8v4.8h-4.8zM426.8 45.2h4.8v4.8h-4.8zM428.0 47.3h4.8v4.8h-4.8zM429.5 49.0h4.8v4.8h-4.8zM431.9 48.5h4.8v4.8h-4.8zM433.5 45.7h4.8v4.8h-4.8zM434.9 47.6h4.8v4.8h-4.8zM435.9 46.4h4.8v4.8h-4.8zM438.5 47.5h4.8v4.8h-4.8zM439.9 47.6h4.8v4.8h-4.8zM441.6 50.8h4.8v4.8h-4.8zM442.7 48.3h4.8v4.8h-4.8zM444.7 49.1h4.8v4.8h-4.8zM446.2 47.0h4.8v4.8h-4.8zM448.0 49.8h4.8v4.8h-4.8zM449.6 46.1h4.8v4.8h-4.8zM450.6 45.9h4.8v4.8h-4.8zM452.8 47.7h4.8v4.8h-4.8zM454.4 45.5h4.8v4.8h-4.8zM455.4 45.4h4.8v4.8h-4.8zM456.9 43.2h4.8v4.8h-4.8zM459.4 39.4h4.8v4.8h-4.8zM462.9 40.8h4.8v4.8h-4.8zM464.5 37.8h4.8v4.8h-4.8zM467.6 40.3h4.8v4.8h-4.8zM469.9 37.4h4.8v4.8h-4.8zM473.1 37.4h4.8v4.8h-4.8zM475.3 35.2h4.8v4.8h-4.8zM478.4 32.1h4.8v4.8h-4.8zM480.6 30.5h4.8v4.8h-4.8zM482.8 32.8h4.8v4.8h-4.8zM486.2 31.7h4.8v4.8h-4.8zM488.7 30.6h4.8v4.8h-4.8zM490.9 27.9h4.8v4.8h-4.8zM493.9 27.0h4.8v4.8h-4.8zM496.2 26.1h4.8v4.8h-4.8zM499.2 27.6h4.8v4.8h-4.8zM501.4 26.6h4.8v4.8h-4.8zM504.2 23.8h4.8v4.8h-4.8zM506.4 22.9h4.8v4.8h-4.8zM508.8 21.8h4.8v4.8h-4.8zM512.1 20.9h4.8v4.8h-4.8zM514.1 22.5h4.8v4.8h-4.8zM516.2 20.3h4.8v4.8h-4.8zM518.6 18.2h4.8v4.8h-4.8zM521.6 20.2h4.8v4.8h-4.8zM523.9 17.9h4.8v4.8h-4.8zM526.2 18.8h4.8v4.8h-4.8zM528.7 17.8h4.8v4.8h-4.8zM531.0 16.1h4.8v4.8h-4.8zM533.2 15.3h4.8v4.8h-4.8zM535.8 16.6h4.8v4.8h-4.8zM538.4 14.2h4.8v4.8h-4.8zM540.5 14.9h4.8v4.8h-4.8zM542.8 11.9h4.8v4.8h-4.8zM545.4 11.7h4.8v4.8h-4.8zM547.9 11.5h4.8v4.8h-4.8zM550.3 11.2h4.8v4.8h-4.8zM552.5 9.2h4.8v4.8h-4.8zM555.1 10.6h4.8v4.8h-4.8zM557.5 9.0h4.8v4.8h-4.8zM559.8 11.5h4.8v4.8h-4.8z" stroke="#0808f0" stroke-width="1.4" fill="none"/>
<path d="M596.6 48.70l2.5 4.33h-5zM598.4 50.50l2.5 4.33h-5zM600.8 52.90l2.5 4.33h-5zM601.8 62.90l2.5 4.33h-5zM603.2 74.80l2.5 4.33h-5zM604.3 90.60l2.5 4.33h-5zM605.2 103.50l2.5 4.33h-5zM606.7 112.50l2.5 4.33h-5zM607.9 118.00l2.5 4.33h-5zM609.0 122.00l2.5 4.33h-5zM610.3 126.70l2.5 4.33h-5zM611.2 130.00l2.5 4.33h-5zM611.8 133.04l2.5 4.33h-5zM612.6 136.03l2.5 4.33h-5zM613.5 139.00l2.5 4.33h-5zM614.4 141.96l2.5 4.33h-5zM615.4 144.91l2.5 4.33h-5zM616.7 147.72l2.5 4.33h-5zM618.0 150.50l2.5 4.33h-5zM619.5 153.21l2.5 4.33h-5zM621.3 155.78l2.5 4.33h-5zM623.0 158.35l2.5 4.33h-5zM624.6 161.01l2.5 4.33h-5zM626.2 163.66l2.5 4.33h-5zM627.9 166.29l2.5 4.33h-5zM629.6 168.87l2.5 4.33h-5zM631.3 171.45l2.5 4.33h-5zM633.3 173.80l2.5 4.33h-5zM635.5 175.99l2.5 4.33h-5zM637.7 178.18l2.5 4.33h-5zM639.7 179.65l2.5 4.33h-5zM641.4 180.71l2.5 4.33h-5zM643.1 181.51l2.5 4.33h-5zM644.8 184.04l2.5 4.33h-5zM646.7 183.50l2.5 4.33h-5zM648.5 185.37l2.5 4.33h-5zM650.4 187.07l2.5 4.33h-5zM652.3 186.55l2.5 4.33h-5zM654.2 188.18l2.5 4.33h-5zM656.2 189.07l2.5 4.33h-5zM658.1 188.82l2.5 4.33h-5zM660.0 190.24l2.5 4.33h-5zM662.0 191.67l2.5 4.33h-5zM663.9 192.06l2.5 4.33h-5z" stroke="#e01818" stroke-width="1.2" fill="none"/>
<line x1="78" y1="107.4" x2="73.4" y2="98.5" stroke="#000" stroke-width="1.6"/>
<path d="M70.0 91.8L76.5 98.0L71.2 100.7z" fill="#000"/>
<line x1="222.7" y1="107.6" x2="268.4" y2="86.1" stroke="#000" stroke-width="1.6"/>
<path d="M277.5 81.9L269.1 89.8L266.0 83.3z" fill="#000"/>
<line x1="430.3" y1="100.5" x2="439.3" y2="65.1" stroke="#000" stroke-width="1.9"/>
<path d="M441.3 57.3L442.0 66.8L436.2 65.3z" fill="#000"/>
<line x1="552.3" y1="101.5" x2="588.7" y2="75.3" stroke="#000" stroke-width="1.9"/>
<path d="M596.4 69.8L590.0 78.9L585.8 73.0z" fill="#000"/>
</svg></body></html>
